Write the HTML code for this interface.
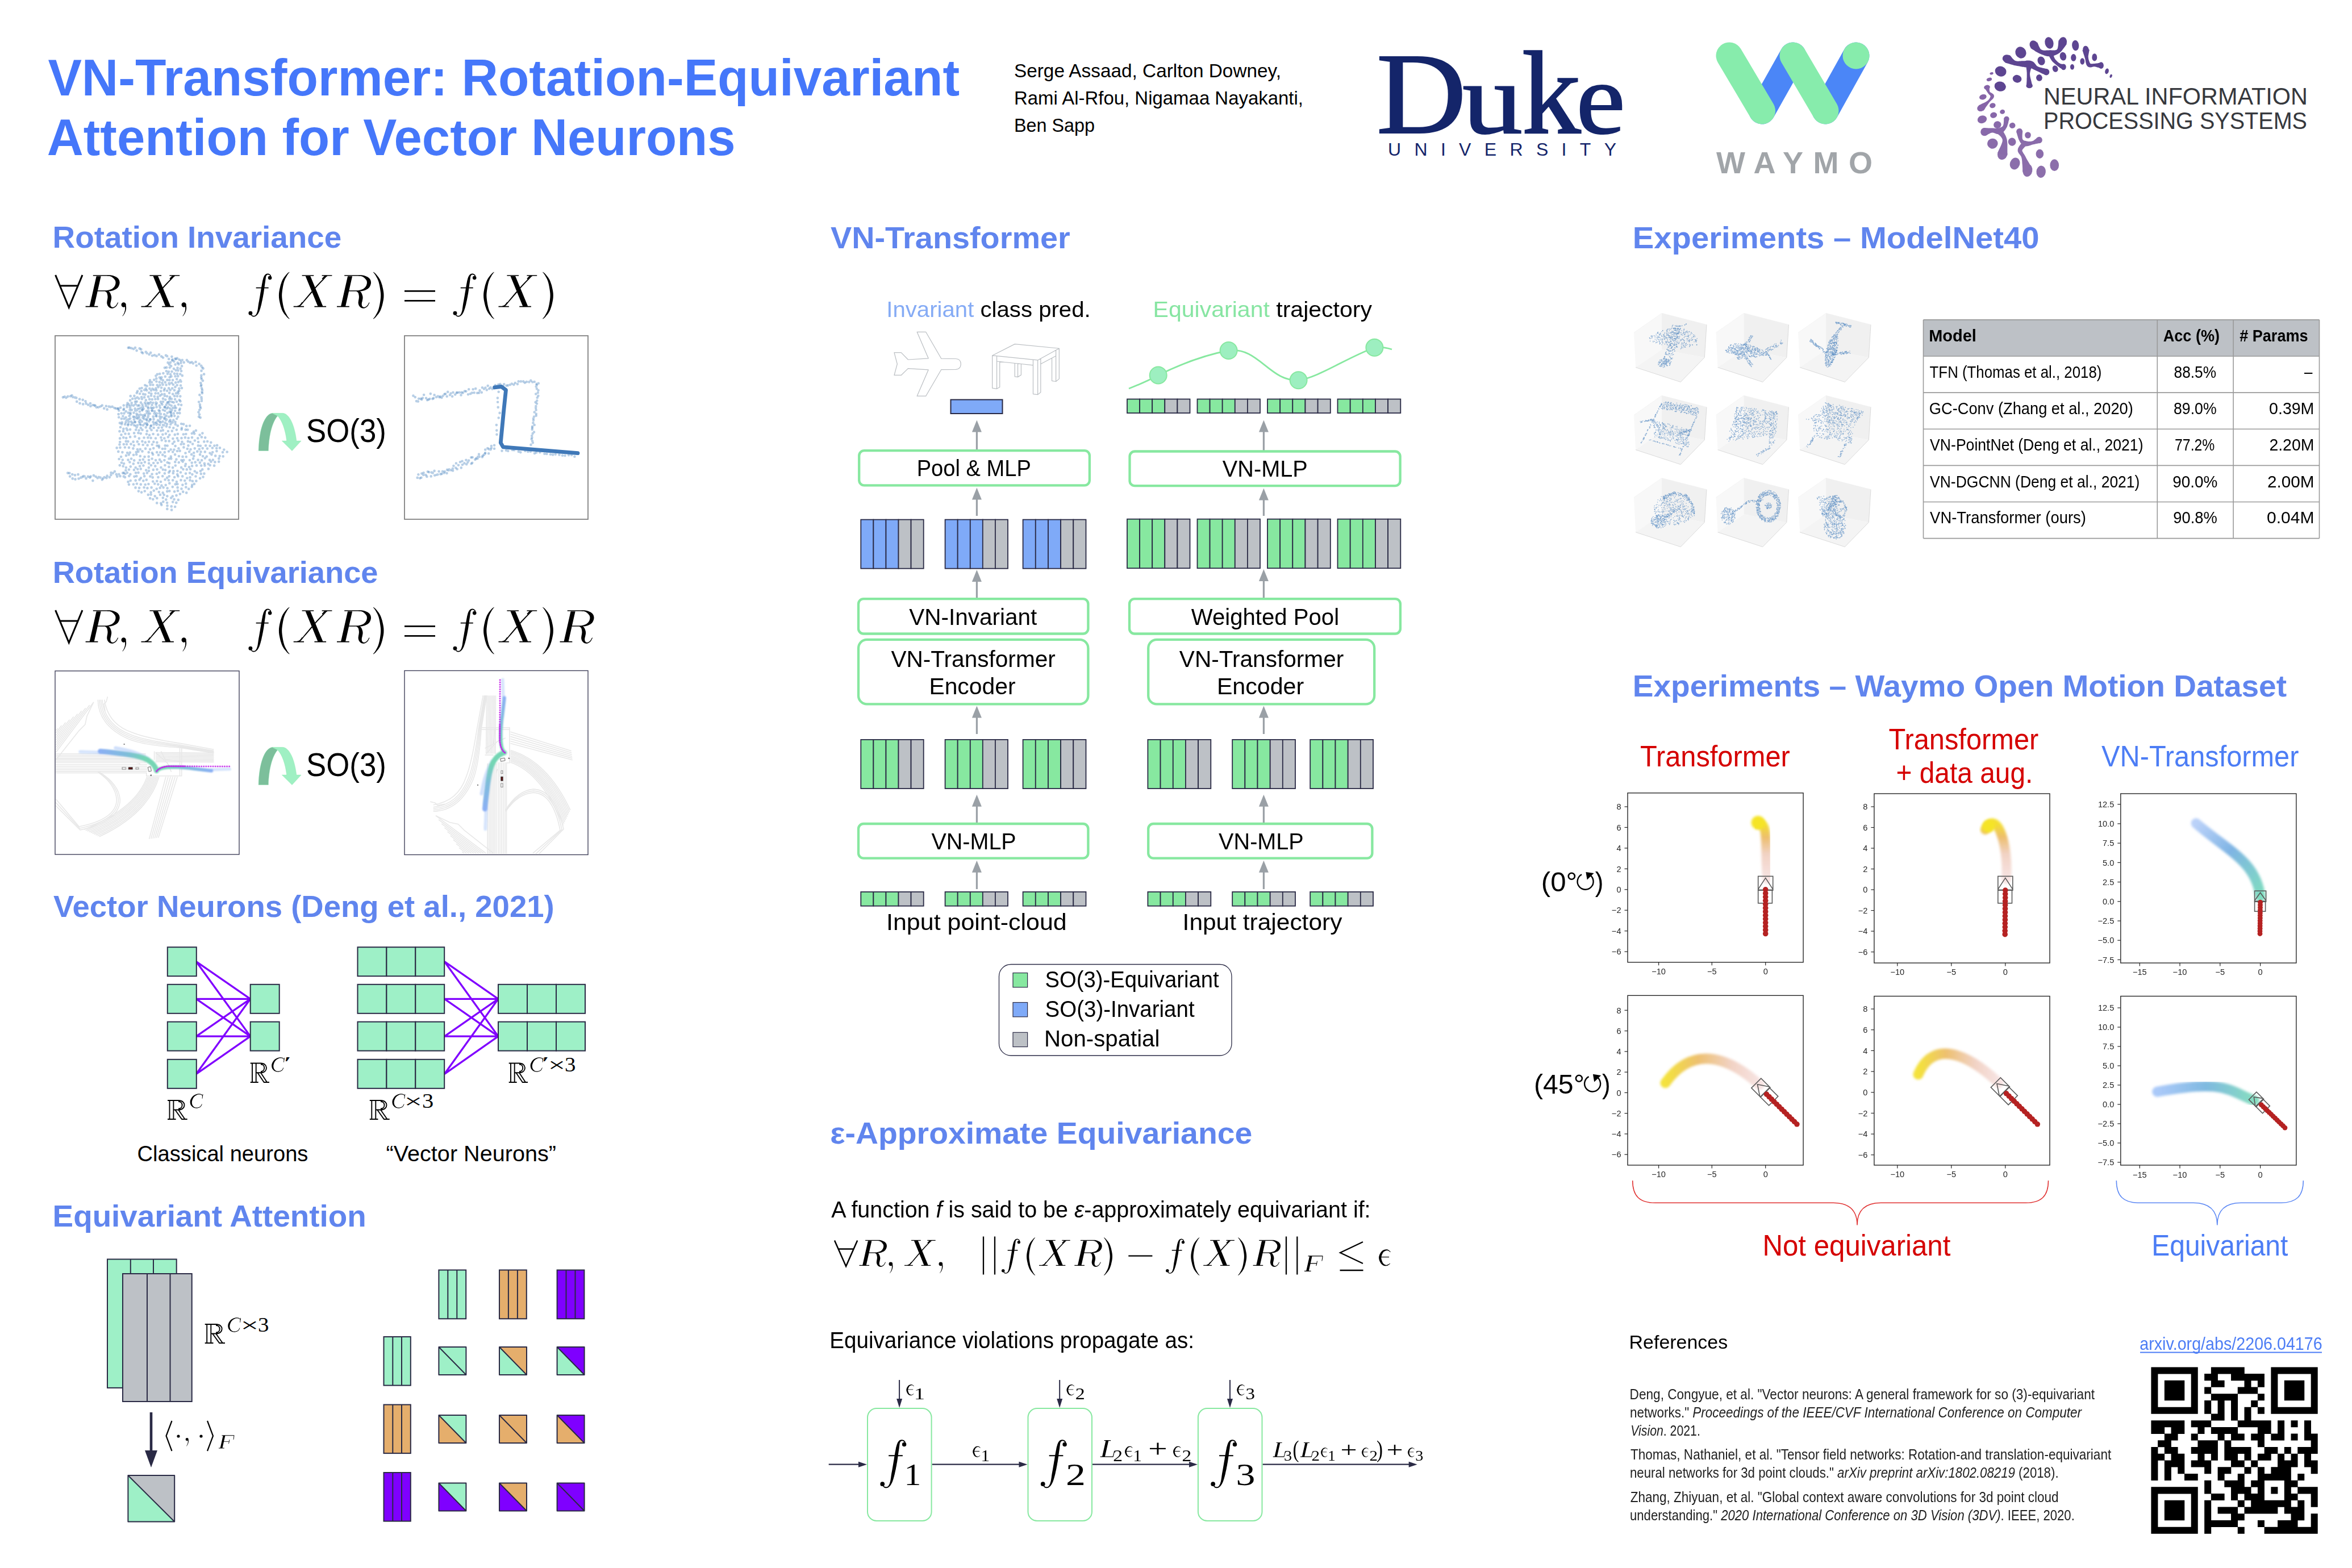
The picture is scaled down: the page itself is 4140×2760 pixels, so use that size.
<!DOCTYPE html>
<html><head><meta charset="utf-8"><title>VN-Transformer: Rotation-Equivariant Attention for Vector Neurons</title>
<style>
html,body{margin:0;padding:0;background:#fff;}
body{width:4140px;height:2760px;overflow:hidden;font-family:"Liberation Sans",sans-serif;}
svg{display:block;}
text{white-space:pre;}
</style></head><body>
<svg width="4140" height="2760" viewBox="0 0 4140 2760">
<rect width="4140" height="2760" fill="#fff"/>
<defs><path id="cmf" d="M339,-454 L338,-457 L337,-461 L336,-467 L335,-472 L334,-477 L332,-481 L330,-483 L327,-486 L322,-489 L318,-492 L312,-494 L307,-496 L303,-496 L299,-496 L294,-495 L290,-493 L286,-491 L282,-488 L279,-484 L276,-479 L273,-474 L271,-467 L269,-459 L268,-451 L267,-441 L265,-428 L263,-414 L261,-396 L258,-375 L254,-350 L250,-322 L246,-293 L242,-263 L238,-235 L234,-208 L229,-183 L225,-159 L220,-135 L216,-112 L211,-90 L206,-68 L202,-48 L197,-28 L192,-9 L187,9 L182,27 L176,43 L171,59 L165,73 L159,85 L153,97 L147,107 L140,116 L134,123 L127,130 L120,136 L113,141 L105,144 L97,147 L89,148 L82,148 L75,148 L68,147 L62,145 L56,141 L51,137 L46,132 L43,128 L40,125 L38,123 L46,113 L49,116 L52,119 L56,123 L60,127 L64,130 L68,132 L72,133 L76,134 L82,134 L88,134 L94,133 L100,131 L105,128 L110,124 L115,119 L119,112 L123,105 L128,96 L132,86 L135,75 L139,63 L142,50 L145,35 L147,19 L150,1 L152,-17 L155,-36 L158,-56 L162,-77 L166,-98 L170,-121 L174,-144 L178,-167 L182,-191 L186,-216 L191,-242 L195,-270 L200,-300 L205,-329 L210,-357 L215,-382 L219,-404 L224,-422 L228,-436 L232,-449 L236,-460 L241,-470 L245,-478 L251,-486 L257,-494 L263,-500 L270,-505 L277,-508 L284,-510 L291,-511 L297,-512 L304,-512 L311,-510 L318,-508 L324,-505 L330,-501 L336,-497 L340,-493 L344,-487 L347,-481 L348,-475 L349,-469 L350,-464 L351,-459 L351,-456Z M302,-447a29,29 0 1 1 58,0a29,29 0 1 1 -58,0Z M3,94a30,30 0 1 1 60,0a30,30 0 1 1 -60,0Z M118,-302 L137,-302 L164,-302 L197,-302 L231,-302 L264,-302 L291,-302 L310,-302 L310,-286 L291,-286 L264,-286 L231,-286 L197,-286 L164,-286 L137,-286 L118,-286Z"/><path id="cmlp" d="M164,-534 L161,-530 L156,-525 L151,-519 L146,-512 L140,-505 L134,-496 L127,-485 L121,-473 L113,-459 L105,-445 L97,-430 L90,-413 L83,-395 L77,-375 L71,-351 L65,-324 L60,-295 L55,-265 L51,-235 L48,-205 L47,-177 L48,-149 L51,-119 L55,-89 L60,-59 L65,-30 L71,-3 L77,21 L83,41 L90,59 L97,76 L105,91 L113,105 L121,119 L127,131 L134,142 L140,151 L146,158 L151,165 L156,171 L161,176 L164,180 L160,184 L156,181 L151,177 L144,172 L137,167 L129,160 L121,151 L113,141 L104,130 L94,118 L83,105 L73,90 L62,73 L52,53 L43,31 L35,7 L26,-20 L19,-50 L12,-81 L6,-113 L2,-146 L1,-177 L2,-208 L6,-241 L12,-273 L19,-304 L26,-334 L35,-361 L43,-385 L52,-407 L62,-427 L73,-444 L83,-459 L94,-472 L104,-484 L113,-495 L121,-505 L129,-514 L137,-521 L144,-526 L151,-531 L156,-535 L160,-538Z"/><path id="cmrp" d="M5,-538 L9,-535 L14,-531 L21,-526 L28,-521 L36,-514 L44,-505 L52,-495 L61,-484 L71,-472 L82,-459 L92,-444 L103,-427 L113,-407 L122,-385 L130,-361 L139,-334 L146,-304 L153,-273 L159,-241 L163,-208 L164,-177 L163,-146 L159,-113 L153,-81 L146,-50 L139,-20 L130,7 L122,31 L113,53 L103,73 L92,90 L82,105 L71,118 L61,130 L52,141 L44,151 L36,160 L28,167 L21,172 L14,177 L9,181 L5,184 L1,180 L4,176 L9,171 L14,165 L19,158 L25,151 L31,142 L38,131 L44,119 L52,105 L60,91 L68,76 L75,59 L82,41 L88,21 L94,-3 L100,-30 L105,-59 L110,-89 L114,-119 L117,-149 L118,-177 L117,-205 L114,-235 L110,-265 L105,-295 L100,-324 L94,-351 L88,-375 L82,-395 L75,-413 L68,-430 L60,-445 L52,-459 L44,-473 L38,-485 L31,-496 L25,-505 L19,-512 L14,-519 L9,-525 L4,-530 L1,-534Z"/><path id="cmX" d="M183,-474 L258,-474 L450,-12 L372,-12Z M505,-465 L491,-449 L471,-429 L448,-404 L422,-377 L394,-347 L365,-316 L336,-284 L305,-249 L270,-207 L232,-163 L195,-119 L160,-79 L132,-45 L111,-20 L99,-30 L120,-55 L149,-89 L182,-130 L219,-174 L257,-218 L292,-260 L324,-296 L352,-327 L381,-359 L410,-388 L436,-415 L460,-440 L480,-460 L495,-475Z M130,-489 L148,-489 L174,-489 L204,-489 L236,-489 L266,-489 L292,-489 L310,-489 L310,-475 L292,-475 L266,-475 L236,-475 L204,-475 L174,-475 L148,-475 L130,-475Z M435,-489 L450,-489 L473,-489 L499,-489 L526,-489 L552,-489 L575,-489 L590,-489 L590,-475 L575,-475 L552,-475 L526,-475 L499,-475 L473,-475 L450,-475 L435,-475Z M0,-14 L16,-14 L39,-14 L66,-14 L94,-14 L121,-14 L144,-14 L160,-14 L160,0 L144,0 L121,0 L94,0 L66,0 L39,0 L16,0 L0,0Z M320,-14 L338,-14 L364,-14 L394,-14 L426,-14 L456,-14 L482,-14 L500,-14 L500,0 L482,0 L456,0 L426,0 L394,0 L364,0 L338,0 L320,0Z M516,-468 L512,-467 L508,-467 L503,-466 L498,-465 L493,-464 L489,-462 L485,-460 L480,-457 L474,-452 L467,-446 L461,-439 L455,-433 L450,-428 L446,-424 L434,-436 L438,-439 L443,-445 L448,-451 L455,-458 L462,-465 L469,-471 L475,-476 L482,-479 L489,-481 L496,-482 L502,-482 L507,-482 L511,-482 L514,-482Z M58,-17 L62,-18 L67,-20 L73,-21 L79,-24 L84,-26 L90,-29 L94,-32 L99,-36 L104,-43 L110,-50 L116,-57 L121,-64 L125,-70 L129,-75 L141,-65 L139,-61 L135,-55 L130,-47 L124,-39 L118,-31 L112,-24 L106,-18 L99,-13 L91,-10 L84,-8 L77,-6 L70,-5 L66,-4 L62,-3Z"/><path id="cmR" d="M166,-472 L236,-472 L132,-12 L62,-12Z M115,-489 L137,-489 L169,-489 L207,-489 L248,-489 L286,-489 L318,-489 L340,-489 L340,-475 L318,-475 L286,-475 L248,-475 L207,-475 L169,-475 L137,-475 L115,-475Z M0,-14 L19,-14 L46,-14 L78,-14 L112,-14 L144,-14 L171,-14 L190,-14 L190,0 L171,0 L144,0 L112,0 L78,0 L46,0 L19,0 L0,0Z M330,-489 L337,-489 L345,-489 L355,-489 L367,-489 L379,-489 L392,-488 L404,-485 L416,-482 L428,-478 L441,-474 L454,-468 L467,-462 L479,-455 L489,-448 L498,-439 L505,-430 L512,-420 L517,-409 L520,-398 L522,-387 L523,-375 L522,-363 L520,-351 L516,-339 L512,-327 L506,-315 L499,-304 L491,-294 L482,-286 L472,-278 L461,-271 L450,-266 L439,-261 L427,-256 L415,-252 L403,-249 L389,-246 L375,-244 L361,-243 L349,-241 L339,-240 L331,-240 L329,-254 L336,-256 L346,-259 L358,-261 L371,-265 L384,-269 L395,-273 L405,-278 L413,-284 L421,-290 L428,-297 L435,-304 L441,-312 L445,-319 L449,-326 L452,-332 L455,-340 L457,-347 L459,-355 L460,-363 L461,-369 L461,-375 L461,-380 L460,-385 L460,-390 L458,-395 L457,-401 L454,-406 L451,-412 L446,-419 L440,-427 L432,-436 L424,-444 L414,-452 L405,-459 L396,-465 L387,-468 L377,-471 L366,-473 L355,-474 L345,-474 L336,-474 L330,-475Z M185,-254 L200,-254 L221,-254 L247,-254 L273,-254 L299,-254 L320,-254 L335,-254 L335,-240 L320,-240 L299,-240 L273,-240 L247,-240 L221,-240 L200,-240 L185,-240Z M302,-254 L307,-253 L313,-253 L321,-253 L330,-252 L340,-250 L351,-245 L361,-237 L369,-227 L376,-217 L382,-205 L387,-193 L391,-180 L395,-166 L397,-151 L397,-135 L395,-120 L392,-105 L389,-91 L386,-78 L383,-68 L382,-60 L381,-53 L381,-46 L381,-40 L381,-34 L382,-29 L383,-24 L385,-19 L387,-15 L390,-10 L394,-6 L399,-2 L404,1 L409,3 L415,4 L420,4 L426,3 L433,0 L439,-3 L446,-7 L452,-11 L458,-16 L464,-22 L470,-30 L476,-39 L481,-49 L486,-57 L491,-65 L494,-70 L502,-66 L499,-60 L495,-53 L490,-44 L485,-34 L479,-24 L473,-15 L466,-8 L460,-2 L453,4 L446,8 L438,12 L431,16 L423,18 L415,20 L407,21 L399,20 L391,19 L382,16 L374,13 L366,8 L359,3 L353,-3 L347,-10 L341,-18 L336,-27 L333,-37 L330,-48 L328,-60 L328,-74 L330,-89 L332,-103 L335,-116 L337,-129 L338,-140 L339,-149 L339,-158 L338,-169 L337,-179 L335,-189 L333,-199 L331,-207 L329,-213 L327,-217 L324,-222 L320,-226 L314,-231 L308,-234 L302,-238 L298,-240Z"/><path id="cmc" d="M0,-34a36,36 0 1 1 72,0a36,36 0 1 1 -72,0Z M71,-41 L71,-35 L72,-26 L73,-15 L74,-4 L75,8 L75,20 L74,31 L72,41 L70,51 L67,61 L64,71 L60,80 L56,89 L53,97 L48,105 L43,113 L37,120 L32,127 L27,133 L23,138 L20,141 L16,139 L19,134 L22,129 L27,123 L31,116 L36,108 L40,101 L43,93 L46,85 L49,76 L52,67 L54,58 L56,48 L57,38 L58,29 L58,20 L58,9 L57,-3 L56,-14 L55,-24 L54,-33 L53,-39Z"/><path id="cme" d="M219,-258 L213,-262 L206,-268 L197,-274 L188,-281 L178,-286 L168,-290 L159,-291 L149,-290 L138,-288 L126,-284 L115,-279 L104,-273 L95,-266 L87,-258 L79,-247 L72,-234 L64,-219 L57,-203 L52,-187 L49,-172 L47,-159 L47,-145 L49,-130 L53,-114 L58,-97 L64,-81 L70,-67 L76,-56 L83,-47 L91,-38 L100,-31 L110,-25 L120,-20 L130,-16 L140,-14 L150,-14 L161,-18 L173,-23 L185,-30 L196,-36 L206,-42 L213,-46 L217,-38 L211,-34 L202,-27 L191,-20 L179,-12 L167,-4 L154,1 L140,4 L127,4 L114,2 L100,-1 L86,-6 L72,-13 L59,-23 L48,-34 L37,-48 L28,-64 L19,-82 L11,-101 L5,-121 L2,-141 L1,-161 L4,-181 L10,-201 L18,-220 L28,-238 L39,-255 L51,-270 L63,-282 L76,-292 L91,-299 L106,-305 L120,-308 L135,-310 L148,-310 L161,-309 L173,-306 L185,-300 L195,-292 L205,-284 L213,-276 L220,-270 L225,-266Z M40,-172 L55,-172 L78,-172 L104,-172 L131,-172 L157,-172 L180,-172 L195,-172 L195,-158 L180,-158 L157,-158 L131,-158 L104,-158 L78,-158 L55,-158 L40,-158Z"/><path id="cmC" d="M462,-336 L463,-346 L464,-360 L466,-376 L467,-394 L468,-411 L467,-426 L464,-437 L459,-445 L452,-453 L445,-460 L436,-466 L426,-470 L415,-474 L403,-477 L389,-479 L374,-481 L358,-481 L341,-481 L324,-478 L306,-475 L289,-469 L272,-461 L253,-451 L234,-439 L215,-427 L198,-413 L182,-398 L168,-383 L156,-366 L144,-348 L133,-327 L124,-307 L116,-286 L109,-266 L104,-247 L101,-230 L99,-212 L98,-193 L99,-175 L101,-158 L104,-141 L108,-126 L113,-111 L120,-97 L128,-83 L138,-69 L149,-57 L161,-45 L173,-36 L186,-28 L201,-21 L217,-16 L234,-12 L251,-10 L268,-9 L284,-9 L300,-11 L317,-14 L335,-18 L351,-24 L367,-31 L381,-39 L394,-47 L405,-58 L415,-71 L424,-86 L433,-102 L440,-117 L446,-130 L451,-139 L465,-131 L461,-122 L455,-110 L448,-94 L440,-78 L430,-61 L419,-46 L406,-33 L392,-22 L376,-13 L359,-6 L341,1 L322,6 L304,10 L286,13 L268,14 L249,14 L230,12 L211,9 L192,5 L174,-1 L157,-8 L141,-17 L124,-28 L108,-40 L93,-54 L79,-69 L66,-86 L56,-104 L48,-124 L42,-145 L37,-168 L34,-191 L34,-215 L35,-239 L40,-263 L47,-286 L57,-310 L69,-334 L83,-357 L98,-379 L114,-399 L132,-417 L151,-433 L172,-448 L194,-461 L216,-472 L239,-481 L260,-489 L281,-495 L300,-500 L320,-503 L339,-505 L358,-505 L376,-504 L392,-502 L407,-499 L421,-495 L434,-489 L446,-483 L457,-475 L466,-466 L474,-455 L480,-443 L484,-428 L485,-411 L484,-393 L483,-375 L481,-358 L479,-344 L478,-334Z M500,-491 L499,-485 L498,-476 L497,-466 L495,-454 L494,-442 L492,-430 L490,-419 L488,-406 L486,-393 L484,-379 L481,-365 L479,-352 L477,-341 L476,-334 L460,-336 L461,-344 L463,-355 L465,-368 L467,-381 L470,-396 L472,-409 L474,-421 L475,-433 L477,-445 L479,-457 L480,-468 L482,-478 L483,-487 L484,-493Z"/><path id="cmF" d="M160,-472 L240,-472 L136,-12 L56,-12Z M115,-491 L160,-491 L224,-491 L300,-491 L380,-491 L456,-491 L520,-491 L565,-491 L565,-469 L520,-469 L456,-469 L380,-469 L300,-469 L224,-469 L160,-469 L115,-469Z M577,-487 L576,-480 L576,-471 L575,-460 L574,-447 L572,-434 L571,-421 L569,-409 L567,-396 L565,-382 L562,-368 L559,-354 L557,-342 L554,-331 L553,-324 L537,-326 L538,-334 L540,-345 L542,-357 L544,-371 L547,-385 L549,-399 L551,-411 L552,-423 L554,-436 L555,-449 L556,-461 L557,-472 L558,-482 L559,-489Z M185,-260 L205,-260 L233,-260 L267,-260 L303,-260 L337,-260 L365,-260 L385,-260 L385,-240 L365,-240 L337,-240 L303,-240 L267,-240 L233,-240 L205,-240 L185,-240Z M406,-324 L405,-317 L404,-308 L402,-297 L400,-285 L398,-272 L396,-260 L394,-248 L391,-237 L389,-224 L386,-212 L383,-200 L380,-189 L377,-180 L376,-173 L360,-177 L362,-184 L364,-193 L366,-204 L369,-216 L371,-228 L374,-241 L376,-252 L378,-263 L381,-275 L383,-288 L385,-299 L387,-310 L389,-320 L390,-326Z M0,-20 L20,-20 L50,-20 L84,-20 L121,-20 L155,-20 L185,-20 L205,-20 L205,2 L185,2 L155,2 L121,2 L84,2 L50,2 L20,2 L0,2Z"/><path id="cmL" d="M160,-472 L240,-472 L136,-12 L56,-12Z M115,-491 L134,-491 L161,-491 L193,-491 L227,-491 L259,-491 L286,-491 L305,-491 L305,-469 L286,-469 L259,-469 L227,-469 L193,-469 L161,-469 L134,-469 L115,-469Z M0,-20 L36,-20 L89,-20 L151,-20 L217,-20 L279,-20 L332,-20 L368,-20 L368,2 L332,2 L279,2 L217,2 L151,2 L89,2 L36,2 L0,2Z M358,-5 L361,-12 L363,-21 L367,-32 L371,-44 L374,-57 L378,-70 L381,-82 L384,-95 L388,-109 L391,-124 L394,-139 L397,-152 L399,-163 L401,-171 L415,-169 L414,-160 L412,-149 L410,-136 L407,-121 L404,-106 L402,-91 L399,-78 L396,-65 L392,-52 L389,-39 L385,-27 L382,-15 L380,-6 L378,1Z"/></defs>
<text x="84.4" y="168" font-family="Liberation Sans" font-size="91" fill="#4577FA" font-weight="bold" textLength="1604.7" lengthAdjust="spacingAndGlyphs" >VN-Transformer: Rotation-Equivariant</text>
<text x="82.8" y="273" font-family="Liberation Sans" font-size="91" fill="#4577FA" font-weight="bold" textLength="1211.8" lengthAdjust="spacingAndGlyphs" >Attention for Vector Neurons</text>
<text x="1785" y="136" font-family="Liberation Sans" font-size="34" fill="#000" textLength="470" lengthAdjust="spacingAndGlyphs" >Serge Assaad, Carlton Downey,</text>
<text x="1785" y="184" font-family="Liberation Sans" font-size="34" fill="#000" textLength="509" lengthAdjust="spacingAndGlyphs" >Rami Al-Rfou, Nigamaa Nayakanti,</text>
<text x="1785" y="232" font-family="Liberation Sans" font-size="34" fill="#000" textLength="142" lengthAdjust="spacingAndGlyphs" >Ben Sapp</text>
<text x="2422.7" y="234" font-family="Liberation Serif" font-size="203" fill="#14256A" textLength="158.3" lengthAdjust="spacingAndGlyphs" stroke="#14256A" stroke-width="2.2">D</text>
<text x="2574.2" y="234" font-family="Liberation Serif" font-size="178" fill="#14256A" textLength="105.8" lengthAdjust="spacingAndGlyphs" stroke="#14256A" stroke-width="2.2">u</text>
<text x="2679.1" y="234" font-family="Liberation Serif" font-size="178" fill="#14256A" textLength="103.4" lengthAdjust="spacingAndGlyphs" stroke="#14256A" stroke-width="2.2" transform="translate(0,234) scale(1,1.17) translate(0,-234)">k</text>
<text x="2774.4" y="234" font-family="Liberation Serif" font-size="178" fill="#14256A" textLength="86.3" lengthAdjust="spacingAndGlyphs" stroke="#14256A" stroke-width="2.2">e</text>
<text x="2443" y="273.5" font-family="Liberation Sans" font-size="32" fill="#14256A" textLength="402" lengthAdjust="spacing" >UNIVERSITY</text>
<g stroke-linecap="round" stroke-width="47" fill="none">
<line x1="3101.5" y1="195" x2="3156" y2="98" stroke="#4B86F7"/>
<line x1="3213" y1="195" x2="3267" y2="98" stroke="#4B86F7"/>
<line x1="3044" y1="98" x2="3101.5" y2="195" stroke="#87ECAC"/>
<line x1="3156" y1="98" x2="3213" y2="195" stroke="#87ECAC"/>
</g>
<circle cx="3267" cy="98" r="23.5" fill="#87ECAC" stroke="none" stroke-width="1" />
<text x="3021" y="304.5" font-family="Liberation Sans" font-size="54" fill="#A1A5A9" font-weight="bold" textLength="275" lengthAdjust="spacing" >WAYMO</text>
<text x="3597" y="184" font-family="Liberation Sans" font-size="42" fill="#36383D" textLength="465" lengthAdjust="spacingAndGlyphs" >NEURAL INFORMATION</text>
<text x="3597" y="227" font-family="Liberation Sans" font-size="42" fill="#36383D" textLength="464" lengthAdjust="spacingAndGlyphs" >PROCESSING SYSTEMS</text>
<g transform="translate(3460,50) scale(0.17857)">
<ellipse cx="823" cy="143" rx="42" ry="58" fill="#5D4591" transform="rotate(-15 823 143)"/>
<ellipse cx="957" cy="135" rx="40" ry="50" fill="#5D4591" transform="rotate(10 957 135)"/>
<ellipse cx="1082" cy="168" rx="34" ry="52" fill="#5D4591" transform="rotate(-5 1082 168)"/>
<ellipse cx="1185" cy="212" rx="30" ry="40" fill="#5D4591" transform="rotate(-10 1185 212)"/>
<ellipse cx="1270" cy="285" rx="25" ry="37" fill="#5D4591" transform="rotate(0 1270 285)"/>
<ellipse cx="960" cy="275" rx="32" ry="42" fill="#5D4591" transform="rotate(-10 960 275)"/>
<ellipse cx="1063" cy="288" rx="26" ry="36" fill="#5D4591" transform="rotate(0 1063 288)"/>
<ellipse cx="1150" cy="325" rx="22" ry="32" fill="#5D4591" transform="rotate(0 1150 325)"/>
<ellipse cx="1050" cy="380" rx="20" ry="27" fill="#5D4591" transform="rotate(0 1050 380)"/>
<ellipse cx="883" cy="398" rx="27" ry="33" fill="#5D4591" transform="rotate(-20 883 398)"/>
<ellipse cx="745" cy="320" rx="36" ry="44" fill="#5D4591" transform="rotate(-20 745 320)"/>
<ellipse cx="543" cy="238" rx="52" ry="58" fill="#5D4591" transform="rotate(-30 543 238)"/>
<ellipse cx="672" cy="165" rx="40" ry="48" fill="#5D4591" transform="rotate(-30 672 165)"/>
<ellipse cx="410" cy="300" rx="48" ry="40" fill="#5D4591" transform="rotate(20 410 300)"/>
<ellipse cx="345" cy="423" rx="57" ry="50" fill="#5D4591" transform="rotate(20 345 423)"/>
<ellipse cx="507" cy="497" rx="44" ry="38" fill="#5D4591" transform="rotate(15 507 497)"/>
<ellipse cx="725" cy="487" rx="30" ry="33" fill="#5D4591" transform="rotate(-10 725 487)"/>
<ellipse cx="340" cy="572" rx="57" ry="48" fill="#5D4591" transform="rotate(15 340 572)"/>
<ellipse cx="628" cy="565" rx="32" ry="25" fill="#5D4591" transform="rotate(0 628 565)"/>
<ellipse cx="1392" cy="422" rx="18" ry="28" fill="#5D4591" transform="rotate(15 1392 422)"/>
<ellipse cx="1432" cy="470" rx="11" ry="18" fill="#5D4591" transform="rotate(20 1432 470)"/>
<ellipse cx="965" cy="380" rx="25" ry="30" fill="#5D4591" transform="rotate(0 965 380)"/>
<ellipse cx="795" cy="430" rx="30" ry="32" fill="#5D4591" transform="rotate(0 795 430)"/>
<ellipse cx="1335" cy="365" rx="25" ry="33" fill="#5D4591" transform="rotate(0 1335 365)"/>
<ellipse cx="255" cy="444" rx="18" ry="12" fill="#8462A8" transform="rotate(-15 255 444)"/>
<ellipse cx="232" cy="503" rx="27" ry="17" fill="#8462A8" transform="rotate(-15 232 503)"/>
<ellipse cx="210" cy="580" rx="30" ry="22" fill="#8563A8" transform="rotate(-10 210 580)"/>
<ellipse cx="170" cy="676" rx="36" ry="26" fill="#8665A8" transform="rotate(-15 170 676)"/>
<ellipse cx="265" cy="760" rx="30" ry="25" fill="#8666A9" transform="rotate(-15 265 760)"/>
<ellipse cx="152" cy="785" rx="40" ry="32" fill="#8766A9" transform="rotate(-20 152 785)"/>
<ellipse cx="362" cy="822" rx="25" ry="22" fill="#8767A9" transform="rotate(-15 362 822)"/>
<ellipse cx="275" cy="855" rx="34" ry="28" fill="#8767A9" transform="rotate(-15 275 855)"/>
<ellipse cx="162" cy="897" rx="47" ry="38" fill="#8868A9" transform="rotate(-20 162 897)"/>
<ellipse cx="403" cy="890" rx="26" ry="24" fill="#8768A9" transform="rotate(0 403 890)"/>
<ellipse cx="313" cy="950" rx="38" ry="35" fill="#8869AA" transform="rotate(-15 313 950)"/>
<ellipse cx="460" cy="957" rx="30" ry="28" fill="#8869AA" transform="rotate(-10 460 957)"/>
<ellipse cx="185" cy="1020" rx="38" ry="40" fill="#8969AA" transform="rotate(0 185 1020)"/>
<ellipse cx="530" cy="1015" rx="30" ry="30" fill="#8969AA" transform="rotate(0 530 1015)"/>
<ellipse cx="613" cy="1052" rx="30" ry="32" fill="#896AAA" transform="rotate(0 613 1052)"/>
<ellipse cx="725" cy="1100" rx="30" ry="32" fill="#896BAA" transform="rotate(0 725 1100)"/>
<ellipse cx="457" cy="1118" rx="38" ry="40" fill="#8A6BAA" transform="rotate(-15 457 1118)"/>
<ellipse cx="265" cy="1135" rx="52" ry="50" fill="#8A6BAA" transform="rotate(-25 265 1135)"/>
<ellipse cx="362" cy="1240" rx="48" ry="55" fill="#8B6DAB" transform="rotate(20 362 1240)"/>
<ellipse cx="730" cy="1237" rx="38" ry="45" fill="#8B6DAB" transform="rotate(0 730 1237)"/>
<ellipse cx="485" cy="1333" rx="48" ry="60" fill="#8B6EAB" transform="rotate(20 485 1333)"/>
<ellipse cx="875" cy="1348" rx="44" ry="58" fill="#8C6EAB" transform="rotate(0 875 1348)"/>
<ellipse cx="610" cy="1400" rx="47" ry="62" fill="#8C6FAB" transform="rotate(10 610 1400)"/>
<ellipse cx="743" cy="1413" rx="46" ry="60" fill="#8C6FAB" transform="rotate(5 743 1413)"/>
<path d="M639,194 L645,197 L652,202 L662,209 L674,216 L686,225 L699,233 L712,240 L725,247 L738,252 L751,257 L764,262 L777,267 L791,271 L804,274 L818,276 L831,276 L843,275 L856,273 L869,269 L881,265 L894,259 L906,253 L917,246 L929,238 L941,227 L951,215 L961,202 L971,189 L980,176 L987,165 L993,157 L998,152 L916,118 L915,127 L914,139 L913,152 L912,165 L910,178 L908,190 L905,200 L901,206 L896,211 L888,213 L880,215 L870,215 L860,215 L850,215 L839,214 L829,214 L819,215 L808,216 L797,216 L785,217 L774,217 L763,216 L753,213 L745,209 L738,204 L732,195 L727,185 L721,174 L717,163 L713,153 L709,143 L705,136Z" fill="#5D4591"/>
<path d="M812,255 L814,259 L818,265 L822,273 L827,283 L832,292 L838,302 L844,312 L850,321 L857,329 L865,336 L873,343 L881,350 L889,357 L896,363 L904,369 L910,374 L917,380 L925,385 L931,390 L938,394 L944,398 L949,401 L952,404 L955,406 L975,354 L971,353 L966,353 L960,353 L954,352 L948,352 L941,350 L935,349 L930,346 L923,342 L916,337 L909,332 L902,325 L896,319 L890,312 L884,306 L880,299 L876,293 L872,284 L869,275 L867,266 L864,257 L862,249 L860,241 L858,235Z" fill="#5D4591"/>
<path d="M387,337 L393,339 L401,341 L411,344 L422,347 L435,351 L448,355 L460,359 L473,362 L484,365 L495,367 L506,369 L517,371 L528,373 L538,375 L548,377 L558,379 L569,380 L580,382 L591,383 L601,384 L610,385 L618,386 L624,387 L629,388 L633,389 L638,390 L644,392 L651,395 L659,399 L669,404 L679,409 L690,415 L702,420 L715,426 L729,433 L743,439 L756,446 L768,451 L778,456 L785,459 L805,401 L797,399 L786,396 L774,394 L760,391 L745,387 L732,384 L719,379 L710,375 L703,371 L697,365 L692,359 L687,351 L681,344 L673,335 L663,328 L651,322 L638,318 L625,317 L613,317 L601,317 L591,319 L581,320 L571,321 L562,321 L552,321 L541,322 L531,322 L521,323 L512,323 L503,322 L495,321 L487,318 L480,314 L473,307 L465,300 L458,291 L451,283 L444,275 L438,268 L433,263Z" fill="#5D4591"/>
<path d="M595,367 L596,372 L597,380 L598,390 L599,400 L601,412 L602,425 L603,437 L603,450 L603,464 L603,480 L602,497 L602,515 L601,531 L600,546 L600,559 L599,568 L657,562 L655,553 L651,541 L648,526 L644,510 L640,494 L636,478 L634,463 L633,450 L634,438 L636,427 L639,416 L642,405 L646,396 L650,387 L653,379 L655,373Z" fill="#5D4591"/>
<path d="M1150,214 L1152,220 L1155,228 L1158,238 L1161,248 L1165,260 L1169,271 L1172,283 L1175,293 L1178,303 L1180,313 L1182,324 L1183,334 L1186,345 L1189,356 L1194,366 L1202,375 L1212,381 L1223,384 L1233,384 L1242,382 L1250,380 L1257,378 L1263,377 L1270,377 L1277,378 L1286,380 L1296,383 L1305,385 L1314,388 L1322,390 L1329,393 L1334,394 L1336,336 L1331,337 L1324,338 L1316,340 L1307,342 L1297,344 L1288,345 L1279,346 L1270,347 L1261,347 L1253,348 L1245,348 L1238,348 L1233,348 L1230,347 L1229,346 L1228,345 L1227,344 L1224,339 L1221,333 L1218,325 L1215,316 L1212,306 L1210,296 L1209,287 L1208,277 L1209,267 L1211,256 L1213,245 L1215,234 L1217,224 L1219,216 L1220,210Z" fill="#5D4591"/>
<path d="M186,588 L188,591 L192,596 L195,601 L200,608 L204,615 L209,622 L213,629 L218,636 L223,643 L229,649 L234,655 L239,660 L243,665 L245,668 L245,669 L244,668 L244,669 L244,672 L242,677 L239,684 L235,691 L230,698 L224,705 L216,712 L208,718 L197,725 L184,732 L171,738 L158,744 L146,750 L136,755 L129,759 L175,811 L179,805 L186,796 L193,785 L201,773 L210,761 L219,749 L227,738 L234,728 L240,721 L247,714 L254,707 L261,701 L268,694 L273,687 L278,679 L280,668 L278,656 L271,647 L264,642 L257,637 L251,634 L245,631 L241,627 L238,624 L236,619 L235,612 L234,605 L234,597 L234,590 L234,583 L234,577 L234,572Z" fill="#8665A8"/>
<path d="M194,1059 L200,1056 L207,1052 L216,1047 L225,1042 L235,1037 L244,1032 L253,1029 L261,1027 L267,1027 L275,1029 L282,1032 L291,1035 L300,1039 L311,1042 L324,1043 L337,1041 L349,1037 L358,1031 L368,1024 L376,1017 L383,1008 L390,999 L396,990 L402,980 L408,969 L412,956 L416,944 L420,931 L422,919 L425,909 L427,900 L429,895 L377,885 L377,893 L376,902 L376,912 L375,924 L374,935 L373,945 L370,954 L368,960 L364,965 L358,970 L352,973 L346,976 L339,979 L333,981 L327,982 L323,983 L320,984 L316,985 L310,985 L302,985 L292,985 L282,984 L271,983 L259,983 L247,983 L236,983 L223,983 L211,982 L200,982 L190,982 L182,981 L176,981Z" fill="#8869AA"/>
<path d="M310,1032 L316,1039 L324,1047 L333,1054 L342,1063 L350,1072 L357,1082 L362,1093 L363,1103 L362,1115 L357,1131 L350,1149 L342,1168 L333,1186 L325,1203 L318,1219 L313,1230 L411,1250 L411,1239 L411,1224 L411,1204 L411,1183 L411,1160 L411,1138 L409,1117 L407,1097 L402,1080 L396,1063 L389,1048 L381,1034 L374,1022 L367,1011 L363,1003 L360,998Z" fill="#896BAA"/>
<path d="M499,1019 L501,1025 L504,1034 L507,1046 L511,1058 L515,1072 L519,1085 L524,1097 L529,1108 L534,1117 L539,1125 L545,1133 L551,1141 L558,1147 L566,1153 L575,1157 L584,1160 L595,1162 L606,1161 L616,1159 L626,1156 L636,1153 L646,1150 L655,1147 L665,1144 L675,1142 L685,1140 L696,1137 L707,1135 L717,1133 L726,1131 L733,1129 L738,1128 L712,1072 L707,1075 L701,1080 L694,1086 L687,1092 L679,1098 L671,1104 L663,1109 L655,1112 L647,1113 L639,1115 L630,1115 L621,1114 L613,1114 L606,1112 L600,1111 L596,1110 L591,1109 L586,1108 L582,1107 L577,1106 L573,1104 L568,1101 L564,1097 L561,1092 L559,1086 L558,1076 L558,1064 L558,1052 L559,1040 L560,1028 L561,1018 L561,1011Z" fill="#896BAA"/>
<path d="M561,1119 L557,1124 L552,1130 L545,1138 L537,1148 L529,1159 L522,1170 L516,1183 L513,1198 L514,1212 L519,1224 L525,1233 L532,1242 L538,1250 L544,1258 L548,1267 L551,1277 L554,1291 L556,1309 L557,1329 L559,1349 L560,1369 L561,1388 L561,1403 L562,1414 L658,1386 L652,1376 L645,1363 L636,1347 L626,1329 L615,1311 L605,1293 L596,1277 L589,1263 L582,1250 L575,1239 L568,1229 L563,1220 L559,1213 L557,1208 L557,1204 L557,1202 L558,1199 L561,1193 L567,1186 L574,1178 L581,1170 L588,1163 L595,1156 L599,1151Z" fill="#8B6DAB"/>
</g>
<text x="92.6" y="436.3" font-family="Liberation Sans" font-size="54" fill="#6085EE" font-weight="bold" textLength="508.7" lengthAdjust="spacingAndGlyphs" >Rotation Invariance</text>
<text x="92.7" y="1026.3" font-family="Liberation Sans" font-size="54" fill="#6085EE" font-weight="bold" textLength="572.8" lengthAdjust="spacingAndGlyphs" >Rotation Equivariance</text>
<text x="94.1" y="1614" font-family="Liberation Sans" font-size="54" fill="#6085EE" font-weight="bold" textLength="881.6" lengthAdjust="spacingAndGlyphs" >Vector Neurons (Deng et al., 2021)</text>
<text x="92.6" y="2158.5" font-family="Liberation Sans" font-size="54" fill="#6085EE" font-weight="bold" textLength="552.2" lengthAdjust="spacingAndGlyphs" >Equivariant Attention</text>
<path d="M97.6,484.1 L121.3,541.4 L145,484.1 M105.4,503 L137.2,503" fill="none" stroke="#000" stroke-width="3.0" stroke-linejoin="miter" stroke-miterlimit="10"/>
<use href="#cmR" transform="translate(150.6,540.4) scale(0.11480)" fill="#000"/>
<use href="#cmc" transform="translate(213.5,540.4) scale(0.11480)" fill="#000"/>
<use href="#cmX" transform="translate(248.5,540.4) scale(0.11480)" fill="#000"/>
<use href="#cmc" transform="translate(319.5,540.4) scale(0.11480)" fill="#000"/>
<use href="#cmf" transform="translate(437.1,540.4) scale(0.11480)" fill="#000"/>
<use href="#cmlp" transform="translate(490.8,540.4) scale(0.11480)" fill="#000"/>
<use href="#cmX" transform="translate(516.7,540.4) scale(0.11480)" fill="#000"/>
<use href="#cmR" transform="translate(593.0,540.4) scale(0.11480)" fill="#000"/>
<use href="#cmrp" transform="translate(656.7,540.4) scale(0.11480)" fill="#000"/>
<line x1="712" y1="512.4" x2="766" y2="512.4" stroke="#000" stroke-width="2.8" />
<line x1="712" y1="529.4" x2="766" y2="529.4" stroke="#000" stroke-width="2.8" />
<use href="#cmf" transform="translate(797.2,540.4) scale(0.11480)" fill="#000"/>
<use href="#cmlp" transform="translate(851.0,540.4) scale(0.11480)" fill="#000"/>
<use href="#cmX" transform="translate(877.5,540.4) scale(0.11480)" fill="#000"/>
<use href="#cmrp" transform="translate(955.0,540.4) scale(0.11480)" fill="#000"/>
<path d="M97.6,1074.1 L121.3,1131.4 L145,1074.1 M105.4,1093 L137.2,1093" fill="none" stroke="#000" stroke-width="3.0" stroke-linejoin="miter" stroke-miterlimit="10"/>
<use href="#cmR" transform="translate(150.6,1130.4) scale(0.11480)" fill="#000"/>
<use href="#cmc" transform="translate(213.5,1130.4) scale(0.11480)" fill="#000"/>
<use href="#cmX" transform="translate(248.5,1130.4) scale(0.11480)" fill="#000"/>
<use href="#cmc" transform="translate(319.5,1130.4) scale(0.11480)" fill="#000"/>
<use href="#cmf" transform="translate(437.1,1130.4) scale(0.11480)" fill="#000"/>
<use href="#cmlp" transform="translate(490.8,1130.4) scale(0.11480)" fill="#000"/>
<use href="#cmX" transform="translate(516.7,1130.4) scale(0.11480)" fill="#000"/>
<use href="#cmR" transform="translate(593.0,1130.4) scale(0.11480)" fill="#000"/>
<use href="#cmrp" transform="translate(656.7,1130.4) scale(0.11480)" fill="#000"/>
<line x1="712" y1="1102.4" x2="766" y2="1102.4" stroke="#000" stroke-width="2.8" />
<line x1="712" y1="1119.4" x2="766" y2="1119.4" stroke="#000" stroke-width="2.8" />
<use href="#cmf" transform="translate(797.2,1130.4) scale(0.11480)" fill="#000"/>
<use href="#cmlp" transform="translate(851.0,1130.4) scale(0.11480)" fill="#000"/>
<use href="#cmX" transform="translate(877.5,1130.4) scale(0.11480)" fill="#000"/>
<use href="#cmrp" transform="translate(955.0,1130.4) scale(0.11480)" fill="#000"/>
<use href="#cmR" transform="translate(985.5,1130.4) scale(0.11480)" fill="#000"/>
<text x="539.1" y="777.6" font-family="Liberation Sans" font-size="57.5" fill="#000" textLength="140.8" lengthAdjust="spacingAndGlyphs" >SO(3)</text>
<g transform="translate(440,710) scale(0.11054)">
<path d="M137,755 C145,420 230,175 355,157 L440,198 C355,300 300,500 293,755 Z" fill="#7CBF9B" stroke="#86E0AE" stroke-width="4" />
<path d="M355,157 L520,157 C640,165 715,380 740,598 L815,598 L670,755 L510,598 L585,598 C565,420 510,270 440,198 Z" fill="#9FF0C3" stroke="#86E6A8" stroke-width="4" />
</g>
<text x="539.1" y="1365.6" font-family="Liberation Sans" font-size="57.5" fill="#000" textLength="140.8" lengthAdjust="spacingAndGlyphs" >SO(3)</text>
<g transform="translate(440,1298) scale(0.11054)">
<path d="M137,755 C145,420 230,175 355,157 L440,198 C355,300 300,500 293,755 Z" fill="#7CBF9B" stroke="#86E0AE" stroke-width="4" />
<path d="M355,157 L520,157 C640,165 715,380 740,598 L815,598 L670,755 L510,598 L585,598 C565,420 510,270 440,198 Z" fill="#9FF0C3" stroke="#86E6A8" stroke-width="4" />
</g>
<rect x="97" y="591" width="323" height="323" fill="#fff" stroke="#828282" stroke-width="1.8" />
<rect x="712" y="591" width="323" height="323" fill="#fff" stroke="#828282" stroke-width="1.8" />
<rect x="97" y="1181" width="324" height="323" fill="#fff" stroke="#3A3A55" stroke-width="1.35" />
<rect x="712" y="1180.5" width="323" height="324" fill="#fff" stroke="#3A3A55" stroke-width="1.35" />
<path d="M309.6,632h0M295.6,638.4h0M301.1,644.4h0M314.4,641.2h0M320.1,644.4h0M298.8,646.8h0M312.5,647.7h0M292.8,653.3h0M309.6,651.8h0M313.4,652.1h0M319.1,653.1h0M276.9,658.8h0M281.2,658.1h0M295,657.9h0M317.2,658.5h0M274.4,661.6h0M298.6,664h0M283.2,667.6h0M294.5,668.9h0M298.4,669.1h0M317.3,669.4h0M263.1,673.1h0M267,672.8h0M285.4,674.1h0M309.2,673.4h0M318.5,671.6h0M255.3,678.1h0M264.6,677.4h0M269.3,677.5h0M276.7,677.9h0M286.6,677.1h0M304.9,677h0M311.7,678h0M318,678.5h0M256.6,684.1h0M284.1,682.5h0M308.4,681.2h0M320,683.1h0M242.1,688.6h0M254.2,686.5h0M271.2,686.3h0M275.2,687.2h0M294.1,687.8h0M299.7,686.6h0M307,686.9h0M315.5,687.8h0M262.3,691.3h0M278.4,692.4h0M294,697.5h0M317.3,697.6h0M233.3,701.8h0M238.2,701.6h0M287,701.7h0M291.2,703.5h0M301.9,702.2h0M308.1,702.8h0M224.5,709.5h0M238,707.2h0M311,707.1h0M261.4,711.4h0M298.1,712.1h0M223.6,716.5h0M249.4,717.5h0M309.8,718h0M316.7,719.5h0M209.3,722.6h0M231.9,721.6h0M245.9,724.5h0M258.1,723.5h0M267.5,722.3h0M272.1,724h0M290.3,723h0M308.2,723.1h0M225.8,726.7h0M235.5,726.6h0M258.6,726.7h0M312.2,727.1h0M234.6,733.7h0M261,732.1h0M275.4,732.7h0M280.9,733h0M292.7,731.8h0M213.9,737.1h0M253.4,737.4h0M264.6,738.4h0M270.5,737.9h0M289.1,737.1h0M299.6,739.3h0M233.6,744.7h0M249.7,741.9h0M275.3,743.6h0M280.8,742h0M286.4,742.2h0M214.2,746.6h0M241.9,748.7h0M294.1,746.6h0M217.4,754.9h0M240.7,752.1h0M247.8,753.3h0M264.2,753.6h0M278.9,753h0M285,752.5h0M210.5,759.2h0M216.9,759.2h0M283.2,758.3h0M286.9,757.4h0M319.6,756h0M330.3,756.5h0M344.9,757.8h0M220.5,763.5h0M243.4,762.1h0M291.9,763.4h0M298.3,765.6h0M307.8,765.2h0M312.9,763.9h0M327.3,764h0M337.8,763h0M351.6,765.6h0M356.4,762.6h0M222.2,771.1h0M237.6,768.4h0M265.6,770.9h0M311.9,771.3h0M325.9,770.2h0M338,770.1h0M361.2,770.3h0M221.8,776.9h0M225.4,777.1h0M262.2,777.6h0M342.9,775.5h0M365.1,777h0M235.9,784.1h0M244.4,782h0M251.7,783h0M259.6,783.7h0M323.5,781.5h0M348.8,784.4h0M382.1,783.9h0M219.9,787.5h0M234.4,789.4h0M264.2,790.9h0M280,787.6h0M300.6,791.3h0M314.4,789.3h0M364.9,789.6h0M373.9,788.5h0M381.2,789h0M387,788.4h0M215.4,796.1h0M224.1,797h0M228.8,796.7h0M239.8,795.9h0M261.7,796.2h0M267.8,797h0M297,794.5h0M311.9,794h0M353.5,795.4h0M369.5,797.6h0M374.2,796h0M392,796.1h0M213.1,804h0M226.8,800.3h0M235.1,800.8h0M240.2,799.9h0M246.8,802.9h0M261.7,803.7h0M314.9,803h0M321.5,803.9h0M337.1,799.9h0M341.3,802.7h0M352.1,800.2h0M372.4,800.1h0M225.5,809.6h0M262,809.8h0M267.6,807.5h0M281.1,809.2h0M297.5,807.4h0M319.4,810.1h0M340.1,807.4h0M369.1,809.7h0M374.8,809.5h0M213.9,814.5h0M228.4,813.5h0M262.1,815.6h0M270.2,815h0M283.8,812.7h0M298.1,815.3h0M326.9,816.8h0M359.9,815.9h0M371.4,812.7h0M378.4,813.3h0M246.1,820.5h0M252.4,819.5h0M261.9,823.2h0M283.4,822.8h0M304.1,823.1h0M326,820.1h0M332.9,822.1h0M346,819.4h0M354.2,819.6h0M377.1,819.7h0M221.4,827.9h0M257.2,827.6h0M286.8,826.6h0M291.1,827.3h0M305.4,829.4h0M335.1,826h0M356.2,826.4h0M366.9,825.4h0M239,832.3h0M243.5,831.9h0M253.1,833.6h0M275.8,834h0M304.8,832.9h0M334.1,832.6h0M220,840.1h0M236.5,838.8h0M247.9,841.4h0M264.4,838.6h0M294.2,840.9h0M307.1,840h0M313.4,838.3h0M321.2,838.4h0M329.3,841.5h0M334.6,840.3h0M229.7,846h0M252.3,846.3h0M257.8,844.7h0M283,848h0M310.9,848.1h0M338.9,846.9h0M345.4,846.7h0M227,852.8h0M255.7,853h0M261.4,852h0M272.3,851.5h0M278.3,852.6h0M284.4,854.7h0M312.4,852.1h0M338.2,853.7h0M341.9,851.9h0M238.5,858.4h0M245.1,858.8h0M259.4,859.2h0M294.6,859.3h0M319.5,860.4h0M327.3,857.6h0M243.9,864.6h0M249.1,866.6h0M254.8,864.5h0M286.7,867.4h0M294.3,864.9h0M298.3,864.3h0M322.2,865.7h0M328.2,867.4h0M260.8,870.9h0M282,870.9h0M303.8,873.6h0M264.2,877.2h0M269.3,878.8h0M301.2,876.4h0M306.5,878.9h0M313.8,879.9h0M276.2,885.4h0M304.2,883.6h0M310.3,884.9h0M294.5,890.2h0M301.7,891.4h0M308.1,892h0M294.3,895.9h0M242.3,713.9h0M251.6,715.9h0M262.3,710.4h0M295.9,708.2h0M246.3,718.9h0M250.5,720.9h0M268.1,719h0M293.4,719h0M260.6,728h0M300.7,725.3h0M260.2,734.7h0M301.6,730.9h0M225.8,746.5h0M239.2,749.8h0M254.8,745.5h0M258.7,748.2h0M265.3,750.1h0M227.8,611.9h0M245.7,613.4h0M272,625.2h0M275.6,626.7h0M303.6,632.9h0M318.7,635h0M320.8,633.8h0M344.5,637.2h0M354.2,643.9h0M355.7,646.5h0M354.2,664.6h0M353.3,674.1h0M353.8,679.5h0M354.5,699.3h0M354.8,702.2h0M354.9,705.7h0M352.2,715.6h0M351.2,721.5h0M352.7,735.1h0M113.8,698.4h0M116.4,700.1h0M140.5,709.9h0M145.7,703.8h0M151.6,710.4h0M155.2,712.6h0M159,710h0M159.4,714.9h0M163.4,713h0M186.8,714.8h0M204.4,719.1h0M123.1,838.6h0M164.9,836.9h0M181.5,841.9h0M183.7,840.2h0M188.6,837.7h0M204.8,834.9h0M217.8,838.7h0" stroke="#3E7CBB" stroke-width="4.7" stroke-linecap="round" fill="none" opacity="0.37"/>
<path d="M303.2,634.5h0M299.9,638.2h0M298.1,641.6h0M293.1,646.9h0M306,649.2h0M317.7,648.8h0M297,654.3h0M287.4,657.1h0M311.8,657.9h0M281,664.5h0M290.8,662.8h0M301.5,662.6h0M308.5,662.3h0M271.2,668.6h0M275.3,666.4h0M297.6,674.6h0M258.6,679.5h0M281.5,677.9h0M298.2,676.3h0M297.1,683.4h0M303.2,683.6h0M315.3,683.8h0M258.2,687.1h0M283.1,688.6h0M288.9,687.2h0M240.8,691.7h0M252.1,693.7h0M255.6,694.4h0M266.4,693h0M289.5,693.9h0M304.2,693.7h0M313.8,692.6h0M236.4,696.9h0M254.1,699.4h0M261,698.2h0M266,696.4h0M271.8,697.8h0M281.8,696.4h0M289.8,696.7h0M299.1,698.8h0M307.2,697.2h0M311.9,697.3h0M256.8,704.4h0M278.1,702.3h0M240.8,706.8h0M260,709h0M275.8,709.5h0M294.5,708.7h0M298.5,706.6h0M317.5,706.3h0M226.8,712.2h0M238.6,711.4h0M257.1,714.5h0M280.7,713.9h0M285.4,712h0M301.7,714h0M314.2,712h0M218.1,719.7h0M260.3,716.5h0M265.8,717.7h0M270.5,717.5h0M281.8,717.6h0M299.3,719.2h0M221.6,724.2h0M250.2,722.3h0M286.9,721.5h0M315.7,722h0M208.6,729.1h0M213.7,727.5h0M218.4,727.6h0M229.6,729h0M247.3,729.8h0M255,729.8h0M263.8,728.1h0M271.7,727.9h0M294.6,726.8h0M301,727.4h0M316.3,727.2h0M209.2,734.5h0M216.4,732.5h0M221.6,734.8h0M241,731.8h0M252,734.6h0M297.3,733.6h0M301.7,732.7h0M225.9,738.3h0M236,738.3h0M242.6,736.7h0M246.7,738.8h0M282,737.1h0M305.3,739.5h0M214.8,743.6h0M221.5,743.2h0M226.5,742.4h0M237.9,743.1h0M246.1,744.8h0M269.6,742.8h0M290.8,744.4h0M298.1,742.1h0M308.5,742.8h0M225.2,748.4h0M231,747.5h0M236.1,748.5h0M252,748.6h0M259.4,747.3h0M266.1,749.2h0M281.2,748h0M286.9,748h0M300.3,746.8h0M323.1,746.7h0M270.6,753h0M292.9,750.6h0M298.6,752h0M305.3,753.3h0M319.9,753.4h0M328.2,749.9h0M239.2,756.5h0M244.6,757.5h0M258.9,758.7h0M266.6,757h0M276.4,757.8h0M295.9,759h0M302.8,758.7h0M310.9,756.6h0M226.7,763.7h0M258,764.1h0M269.6,764h0M278.2,765.2h0M286.4,764.8h0M342.1,763.3h0M217.3,770.2h0M253.5,770.5h0M260.4,770.3h0M295.9,769.3h0M319.5,771.2h0M348.3,771.4h0M354.9,769.4h0M241.8,777.4h0M255.8,778.7h0M270.3,777.9h0M276.4,778.9h0M284.7,774.8h0M297.7,776.4h0M313.7,775.7h0M330.8,776.9h0M349.1,778h0M359.3,777.4h0M371.3,778.8h0M210.5,782.5h0M223,782h0M230.5,781.7h0M279.7,784.5h0M290.7,784.3h0M304,781h0M331.4,784.3h0M339.1,781.6h0M352.9,784.8h0M211.5,787.8h0M241.9,791h0M256.1,789.7h0M270.2,789.1h0M285.9,790h0M290.5,789.9h0M335.5,791h0M342.8,789.3h0M356.7,789.1h0M394.3,791.5h0M250.5,794.4h0M304.2,795.5h0M347.3,794.7h0M222,801.9h0M254.6,804.1h0M279,800.9h0M290.6,803.2h0M308.1,800.2h0M357.1,803.1h0M363.8,803.6h0M386.7,802.8h0M231.1,807.5h0M236.2,810.4h0M246.2,809.8h0M289.4,810.1h0M301.3,807.3h0M310.4,808.7h0M333.9,810h0M385.3,807.2h0M234.8,816.4h0M243.4,814.8h0M254.9,813.4h0M277.6,814.8h0M337.7,814.6h0M343.7,813.7h0M351.9,814.4h0M366.6,816.7h0M385.2,812.7h0M210.8,819.1h0M216.7,820.6h0M265.9,819h0M273.3,820.4h0M297.4,821.9h0M338.1,820.2h0M369.6,818.9h0M227,826.6h0M235.9,827.2h0M242.3,825.8h0M247.8,825.4h0M262,828.9h0M276.5,826.3h0M299,829.1h0M328.8,826.4h0M223.9,832.1h0M229.4,834.8h0M280.4,831.8h0M312.2,835.2h0M327,833.6h0M338.4,835.1h0M227.3,837.9h0M254.2,838.2h0M278.4,840.1h0M286.2,838.2h0M297.8,838.3h0M344.5,838.5h0M352.1,841.9h0M238.7,845.7h0M245.5,844.4h0M296.8,845.3h0M304.2,845.3h0M318.5,845.2h0M325.3,846h0M291.7,853.8h0M253.6,858h0M266.6,858.2h0M275.7,860.5h0M303.8,857.1h0M313,863.9h0M288.7,871.1h0M294.3,873.3h0M310.5,872.1h0M276.3,876.9h0M286.8,876.3h0M292.3,879.4h0M284.3,888.8h0M302.6,707.5h0M256.6,712.1h0M274.5,708.5h0M290.4,716.1h0M279.5,722.3h0M290,716.7h0M243.6,730.5h0M267.9,723.2h0M294.7,726.8h0M236.8,734h0M251.3,735.1h0M274.7,731.7h0M222.7,739.7h0M230.9,742.3h0M257.4,738.2h0M246.2,746.2h0M288.4,748.6h0M231.3,612.9h0M248.3,614.9h0M251.3,621.6h0M262.6,623.8h0M265.2,620.9h0M268,626.1h0M287,629.5h0M297.2,631.9h0M302.4,627.8h0M308.5,631.4h0M311.8,630.7h0M323.7,637.9h0M328.9,633.9h0M330.9,636.3h0M337.7,637.7h0M339.9,639.6h0M345.7,643.5h0M357.6,648.6h0M354.5,652.7h0M359.1,658.7h0M355,667.4h0M357,670.1h0M354.3,677.6h0M356,686.7h0M355.6,689.7h0M353.2,718.2h0M349.5,725.5h0M351.1,729.6h0M350.1,733.5h0M110.9,699.3h0M119.5,697.8h0M126.5,696h0M128.3,698.9h0M132,699.7h0M134.3,700.4h0M146.2,711.4h0M166.3,713.3h0M173.3,716.8h0M179.8,713.7h0M201.5,718.2h0M207.7,719.2h0M122.3,832.8h0M132,836.3h0M132.5,843.6h0M137.5,835.2h0M138.5,842.5h0M142.5,840.7h0M144.9,839.6h0M158.2,840.6h0M171.7,841.5h0M173.8,839.9h0M176.6,840.6h0M195.3,836.2h0M195.5,832h0M198.7,832.9h0M216.2,832.7h0M220.5,834h0" stroke="#3E7CBB" stroke-width="4.7" stroke-linecap="round" fill="none" opacity="0.37"/>
<path d="M306.2,636.2h0M312.8,638.7h0M318.4,638.8h0M308.6,641.6h0M289.9,647.3h0M302.5,654.1h0M300,658.8h0M307,657.7h0M284.4,664.4h0M313.2,662.2h0M320.8,661.2h0M264,669.3h0M286.8,669.4h0M304.1,669.1h0M311.2,667.3h0M275.4,671.5h0M280.7,672.7h0M290.8,672.9h0M302.2,674.1h0M313.9,672.4h0M292.6,677.6h0M245.8,684h0M249.5,683h0M263.4,684.1h0M268.4,684.3h0M274.5,683.6h0M278.7,681.3h0M289.8,684.1h0M248.8,688.4h0M266.1,687.3h0M313,689.5h0M246.1,693h0M273.7,692.3h0M284.8,694.2h0M298.1,691.7h0M309.9,692.3h0M229.7,697.2h0M241.7,699.6h0M249.2,699.1h0M277.6,698.5h0M229.1,704.7h0M244.5,701.6h0M249.9,702.2h0M263.2,702.7h0M267.8,703.1h0M273.4,702.5h0M298.2,702h0M315.8,704.2h0M231.7,709.3h0M248,708.7h0M255.2,708.8h0M265.1,708.2h0M269.4,709h0M283,707.4h0M287,707.2h0M305.7,708.3h0M217.8,713.6h0M223.3,713h0M235.1,713.8h0M245,713.7h0M250.5,712.2h0M267.5,712.8h0M274.5,712h0M292.8,712.4h0M307.8,714.6h0M319.1,712.8h0M208.1,719.6h0M212.1,717.7h0M229.1,717.7h0M237.7,719.4h0M242.9,719.8h0M252.6,719.6h0M275.6,716.4h0M289.9,716.8h0M295.7,717.1h0M306.7,717.8h0M217.5,721.5h0M228.6,721.5h0M240.7,722.3h0M261.5,723.9h0M281.1,723.6h0M298.5,724.7h0M302.3,722.2h0M240.5,728.3h0M275.8,727.8h0M282.9,728.7h0M289.1,729.3h0M305.8,727.7h0M227.7,732.2h0M244.9,734.2h0M255,732.4h0M269.7,733.4h0M284.6,734.1h0M307.2,732.1h0M313.4,733.5h0M218.4,737.1h0M229.1,736.8h0M258.8,739.7h0M278,739.9h0M292.3,739.5h0M311.2,737h0M210.9,744.6h0M258.1,744.8h0M262.3,741.6h0M301.7,742.8h0M220.2,746.9h0M247.7,748h0M270.8,747.1h0M276.7,746.8h0M212,752h0M222.7,754.3h0M308.8,746.9h0M319.2,746.1h0M256.8,752.3h0M312.8,749.4h0M334.1,749.5h0M224.1,756.9h0M229.1,756.1h0M250.5,756.7h0M326.7,756.4h0M340.9,759.9h0M213.5,765.4h0M236.1,762.3h0M247.7,763.1h0M263,765.8h0M322.8,764.5h0M211.1,771.7h0M229.1,769.2h0M244.9,771.7h0M274,771.5h0M283.4,770.1h0M289.3,771.5h0M304.4,772.1h0M331.7,771h0M211.2,778h0M234.6,777.7h0M250.4,776.9h0M291.6,776.3h0M306.7,777.6h0M320.4,777.8h0M334.9,778.1h0M217.8,782.1h0M267.8,782.5h0M276.3,784.6h0M294.6,784.5h0M308.6,785.1h0M318.7,782h0M362.1,784.3h0M369.6,784.8h0M377.4,784.6h0M205.6,788.4h0M227,787.9h0M246.8,790.9h0M306.4,791.5h0M323.4,787.4h0M329.8,790h0M350.8,790.6h0M208.3,794.9h0M243.4,794.9h0M276.2,796.2h0M282.2,796.3h0M289.8,796.2h0M316.6,793.7h0M326.5,797.5h0M333.2,795.2h0M341.2,797h0M360.8,795.4h0M381.4,794.1h0M399.7,795.5h0M269.2,799.9h0M286.3,800.7h0M300.8,803.6h0M327.8,804.1h0M379.2,802.4h0M392.7,803.3h0M209.6,808h0M215.8,809.6h0M251.9,808.8h0M274.1,810.1h0M323.3,809.8h0M348.6,809.7h0M355.1,810.2h0M360.9,806.6h0M218.1,816h0M248.9,815.1h0M294.7,814.1h0M308.3,813.2h0M314.8,814h0M321.7,812.6h0M221.9,823h0M229.8,821.3h0M238.7,823h0M290.4,819h0M308.8,819.5h0M319.1,822.9h0M360.4,819.5h0M269.8,826.9h0M312.4,829.1h0M322.4,826.1h0M342.8,829.5h0M352.9,829.2h0M218.1,832.4h0M258.9,832.4h0M267.6,834.6h0M289.9,833.3h0M297.2,831.7h0M318,831.5h0M346.5,832.2h0M353.8,834.1h0M359.4,833.7h0M240.3,838.2h0M268.7,840.4h0M357.5,839.6h0M225.5,848.2h0M269.2,847.5h0M276.3,846.9h0M290.6,844.3h0M334.5,845.4h0M234.9,852.5h0M240.9,851.5h0M247.8,852.7h0M298.3,850.7h0M308.7,852.4h0M321.4,853.6h0M327.2,851.4h0M281.7,858.7h0M287.6,858.1h0M312.6,858.2h0M332.2,860.7h0M337.7,857h0M265.6,866.7h0M270.8,863.6h0M279.8,866.1h0M307.1,865.3h0M265.7,870.6h0M272.7,873.3h0M316.9,869.6h0M283.3,885.8h0M287.3,883.2h0M294.1,885h0M302.1,897.7h0M231.6,713.2h0M283.9,709.2h0M228.7,715.3h0M238.2,722.6h0M261.1,718.9h0M304.2,718.2h0M229.5,726.6h0M251.2,731h0M275.3,727.9h0M280.6,727.6h0M240.3,735.8h0M270,733.5h0M289.9,734.8h0M291.8,737.5h0M237.2,742.5h0M244.8,742h0M264.4,738.2h0M273.2,744.9h0M282.7,743.7h0M293.1,738.5h0M303.6,743.7h0M275.6,747.6h0M225.8,612.2h0M235.1,614.2h0M238,612.2h0M240.6,617.1h0M249.4,620h0M256.8,619.6h0M258.5,621.6h0M279.9,624.1h0M284.1,627.3h0M292,625.6h0M294.1,626.9h0M315.6,633h0M334.4,638.4h0M350.6,640.7h0M354.4,660.8h0M355.2,683.6h0M355.9,692.1h0M351.4,695.2h0M350.1,707.5h0M351.9,712h0M124.1,697.5h0M135.2,706.9h0M140.1,702.7h0M150.5,706.3h0M167.8,714.4h0M169.9,716.9h0M176.8,715.5h0M183.2,718.8h0M188.6,720.7h0M191.7,715.6h0M194.4,716.3h0M197.7,715.9h0M119.3,832.6h0M127.3,835h0M127.7,842.4h0M147.2,838.1h0M148.7,838.5h0M151.5,842.2h0M154.9,838.8h0M159.6,838.6h0M163.4,846.1h0M168.6,839h0M179.8,844.3h0M187.5,841.3h0M192.8,840.1h0M201.9,829.9h0M206.2,838.8h0M209.4,834.8h0M211.5,838.2h0" stroke="#3E7CBB" stroke-width="4.7" stroke-linecap="round" fill="none" opacity="0.37"/>
<path d="M737.1,701.8h0M742.2,703.3h0M746.1,695h0M750,700.8h0M754.2,703.2h0M763.2,700.9h0M774.9,698.1h0M779.6,696.7h0M782.3,693.9h0M786.7,697.8h0M797.5,690.7h0M801.2,694.5h0M812.4,690.8h0M825.2,685.3h0M832.7,685.2h0M834.7,691.2h0M840.1,691.8h0M858.7,679.1h0M863.5,682.1h0M869.8,683.4h0M880.4,676.1h0M885.6,679.9h0M891.4,678.7h0M897.9,677.2h0M900.8,675.5h0M906.8,674h0M910.9,676.1h0M916.9,671.4h0M944.7,675.9h0M947.8,674.8h0M947.4,696.8h0M942.6,708.1h0M943.6,721.8h0M940.7,725.5h0M943.7,731.8h0M940,733.6h0M938.9,736.5h0M936.7,755.9h0M940,760.5h0M937.7,763.1h0M936.2,767.1h0M936.4,770.2h0M876.1,707.7h0M876.7,716.9h0M879.6,726.9h0M873.9,748.1h0M874.3,757.6h0M739.2,841.7h0M745.3,836h0M745.6,832.2h0M749.5,836.1h0M752.9,830.2h0M758.7,838.4h0M768.8,835.7h0M770.5,835.3h0M782.7,830h0M789.7,827.8h0M790.6,826.4h0M793.8,827.5h0M798.4,820h0M802.2,823.5h0M802.9,815.5h0M806.9,818.7h0M813.9,818h0M820.4,809.7h0M823.3,813.7h0M825.1,810.5h0M831.6,805h0M838.1,806.9h0M843,799.5h0M848.9,804.4h0M854.2,791.5h0M858.3,789.1h0M864.9,788.4h0M864.9,785.1h0M883.5,793.6h0M891,792.8h0M894.2,793.7h0M901.8,792h0M929.4,795h0M944.2,796.5h0M950.3,796.3h0M962.4,798.9h0M977.7,799.8h0M1001,801.1h0M1006.1,800.9h0" stroke="#3E7CBB" stroke-width="4.6" stroke-linecap="round" fill="none" opacity="0.37"/>
<path d="M727.4,696.6h0M733,706.1h0M735.9,706.6h0M743.9,700.5h0M764.6,695.2h0M784.2,693.2h0M792,695.2h0M793.5,692.6h0M805,691h0M820.3,688.8h0M824,694.3h0M828.2,693.1h0M830.8,691.5h0M844.5,687.4h0M874.5,681.3h0M877.2,677.1h0M904.4,677.1h0M923.8,673.8h0M937.3,672.5h0M940.7,672h0M944.6,677.9h0M943.7,680.5h0M944.9,684.3h0M947.5,687h0M945.7,700h0M945,710.5h0M943.3,715h0M943.1,717.9h0M943.8,728.5h0M939,739.7h0M940.7,748h0M937,750.7h0M934.5,782.9h0M875.9,700.6h0M877.7,735.5h0M874.5,764.7h0M734.7,840.9h0M751.4,838.9h0M755.1,831.1h0M759.7,831.6h0M761.7,832.5h0M772.6,829.8h0M777.7,834.1h0M779,829.8h0M781.8,832.5h0M797.1,828.4h0M796.9,824.7h0M811.8,823.4h0M809.9,813.2h0M817.4,815.4h0M821.2,817.3h0M831.2,814.7h0M829.3,805.3h0M836.4,808.9h0M840.6,807.1h0M841.2,804.1h0M843.7,803.9h0M849.7,802.3h0M854.1,797.2h0M860.1,798.3h0M860.7,790.6h0M863.6,791.2h0M870.1,789.8h0M870.1,783.7h0M905,792.2h0M912.8,794.9h0M916.3,796.1h0M924.4,793.8h0M933.8,794.8h0M968.9,799.8h0M994.5,802h0M1011.4,803.7h0" stroke="#3E7CBB" stroke-width="4.6" stroke-linecap="round" fill="none" opacity="0.37"/>
<path d="M730.8,699.1h0M740.7,701.8h0M752.1,704.2h0M756.4,702.1h0M757.8,693.1h0M761.4,702.1h0M768.1,698.9h0M770.9,697.5h0M773.5,699.3h0M777.4,700h0M788.2,689.9h0M796.1,697.7h0M803.7,691.4h0M808.4,690.7h0M811.5,695.4h0M814.8,691.4h0M817.9,688.5h0M837.2,684.1h0M843.1,691.5h0M847.8,690.8h0M848.9,682.3h0M852,684.6h0M854.4,682.6h0M856.8,686.5h0M861.1,684.3h0M866.6,684.7h0M871.9,678h0M887.2,676.3h0M894.1,678.4h0M912.7,671.4h0M921.2,671.4h0M926.9,672.1h0M931.3,672.4h0M934.3,669.9h0M946.8,691.3h0M943.2,693.5h0M945.2,705.3h0M938.4,744.4h0M936.9,753.1h0M935.7,773h0M937,776.3h0M937.9,779.2h0M877.7,689.7h0M736.4,835.2h0M741.5,840.7h0M742.3,833.5h0M765.2,836.8h0M764.6,828.9h0M775.4,834.6h0M786.5,832.9h0M787.1,826.9h0M804.7,825.7h0M813.5,811.8h0M829.6,816.3h0M852,800.4h0M853.8,798.6h0M941,797.9h0M958.4,798.7h0M973.1,800.4h0M984.4,800.4h0M990,801.8h0" stroke="#3E7CBB" stroke-width="4.6" stroke-linecap="round" fill="none" opacity="0.37"/>
<path d="M870.6,681.8 L882.4,680.5 L890.5,686.5 L886.6,723.9 L881.3,779.4 L885.6,786.9 L1017,797.6" fill="none" stroke="#3F78B8" stroke-width="6.8" stroke-linecap="round" stroke-linejoin="round"/>
<defs><filter id="bl3" x="-20%" y="-20%" width="140%" height="140%"><feGaussianBlur stdDeviation="3"/></filter><filter id="bl6" x="-20%" y="-20%" width="140%" height="140%"><feGaussianBlur stdDeviation="4.5"/></filter><linearGradient id="gtl" gradientUnits="userSpaceOnUse" x1="400" y1="0" x2="870" y2="0"><stop offset="0" stop-color="#8BB0F5"/><stop offset="0.45" stop-color="#80BCDC"/><stop offset="0.8" stop-color="#74D6B4"/></linearGradient><linearGradient id="gtr" gradientUnits="userSpaceOnUse" x1="870" y1="0" x2="1330" y2="0"><stop offset="0.1" stop-color="#74D6B4"/><stop offset="0.55" stop-color="#80BCDC"/><stop offset="1" stop-color="#8BB0F5"/></linearGradient><clipPath id="cpL"><rect x="98" y="1182" width="322" height="321"/></clipPath><clipPath id="cpR"><rect x="713" y="1181.5" width="321" height="322"/></clipPath></defs>
<g clip-path="url(#cpL)"><g transform="translate(90,1175) scale(0.21368)"><path d="M-400,712 L780,712 M-400,724 L780,724 M-400,736 L780,736 M-400,748 L780,748 M-400,760 L780,760 M-400,772 L780,772 M-400,784 L780,784 M-400,800 L790,800 M-400,814 L790,814 M-400,828 L790,828 M-400,842 L790,842 M-400,856 L790,856 M-400,868 L790,868" fill="none" stroke="#E8E8E8" stroke-width="7.5" />
<path d="M700,784 Q740,790 730,800" fill="none" stroke="#E8E8E8" stroke-width="7.5" />
<path d="M860,700 L1340,705.0 M860,711 L1340,715.5 M860,722 L1340,726.0 M860,733 L1340,736.5 M860,744 L1340,747.0 M860,755 L1340,757.5 M860,766 L1340,768.0 M860,777 L1340,778.5" fill="none" stroke="#E8E8E8" stroke-width="7.5" />
<path d="M385.0,265 Q390.0,480.0 640.0,590.0 Q760.0,640 1060,660.0 L1340,705.0 M396.7,265 Q406.9,477.4 646.5,578.3 Q763.9,627 1060,652.2 L1340,698.5 M408.4,265 Q423.8,474.8 653.0,566.6 Q767.8,614 1060,644.4 L1340,692.0 M420.1,265 Q440.7,472.2 659.5,554.9 Q771.7,601 1060,636.6 L1340,685.5 M439.0,265 Q468.0,468.0 670.0,536.0 Q778.0,580 1060,624.0 L1340,675.0" fill="none" stroke="#E8E8E8" stroke-width="7.5" />
<path d="M465,240 L455,280 L435,300 L445,360" fill="none" stroke="#E8E8E8" stroke-width="7.5" />
<path d="M350,285 L40,698 M317,309 L40,678 M284,333 L40,658 M251,357 L40,638 M218,381 L40,618 M185,405 L40,598 M152,429 L40,578 M119,453 L40,558 M86,477 L40,538 M53,501 L40,518" fill="none" stroke="#E8E8E8" stroke-width="7.5" />
<path d="M40,760 L230,520 L280,470 L295,400 L350,285" fill="none" stroke="#E8E8E8" stroke-width="7.5" />
<path d="M385.0,862 Q530,960 540,1090 Q535,1250.0 230.0,1310 L40,1085" fill="none" stroke="#E8E8E8" stroke-width="7.5" />
<path d="M392.0,862 Q544,960 554,1090 Q549,1258.4 234.2,1324 L26,1099" fill="none" stroke="#E8E8E8" stroke-width="7.5" />
<path d="M399.0,862 Q558,960 568,1090 Q563,1266.8 238.4,1338 L12,1113" fill="none" stroke="#E8E8E8" stroke-width="7.5" />
<path d="M790,900 Q700,1160 270,1335.0 M801,900 Q711,1165 284,1341.5 M812,900 Q722,1170 298,1348.0 M823,900 Q733,1175 312,1354.5 M834,900 Q744,1180 326,1361.0 M845,900 Q755,1185 340,1367.5 M856,900 Q766,1190 354,1374.0 M867,900 Q777,1195 368,1380.5 M878,900 Q788,1200 382,1387.0 M889,900 Q799,1205 396,1393.5" fill="none" stroke="#E8E8E8" stroke-width="7.5" />
<path d="M945,900 L808,1412 M964,900 L823,1410 M983,900 L838,1408 M1002,900 L853,1406 M1021,900 L868,1404 M1040,900 L883,1402" fill="none" stroke="#E8E8E8" stroke-width="7.5" />
<path d="M785,868 L785,893 L1075,893 L1075,660 M1060,660 L1060,893 M860,700 L960,790 L990,860 M905,690 L940,760 L1075,775 M850,690 L850,760" fill="none" stroke="#E8E8E8" stroke-width="7.5" />
<g filter="url(#bl6)" fill="none" stroke-linecap="round"><path d="M240,694 L400,700" stroke="#BCD3FA" stroke-width="28" opacity="0.6"/><path d="M530,662 Q700,690 800,750" stroke="#BCD3FA" stroke-width="28" opacity="0.7"/><path d="M1320,842 L1470,836" stroke="#BCD3FA" stroke-width="26" opacity="0.6"/><path d="M405,690 Q520,700 600,712 Q700,725 760,745 Q850,780 868,850" stroke="url(#gtl)" stroke-width="42"/><path d="M872,850 Q900,822 1000,820 Q1100,822 1180,834 L1320,850" stroke="url(#gtr)" stroke-width="29"/></g>
<path d="M868,855 Q890,822 960,813 L1478,815" fill="none" stroke="#C41EE8" stroke-width="13" stroke-linecap="round" stroke-dasharray="0.1 19"/>
<path d="M868,855 Q890,822 960,813 L1100,813" fill="none" stroke="#C41EE8" stroke-width="9" stroke-linecap="round"/>
<rect x="585" y="823" width="30" height="15" fill="#fff" stroke="#777" stroke-width="4"/>
<rect x="638" y="823" width="32" height="15" fill="#5A0A0A" stroke="#222" stroke-width="4"/>
<rect x="697" y="824" width="23" height="13" fill="#fff" stroke="#777" stroke-width="4"/>
<rect x="800" y="819" width="22" height="36" fill="#fff" stroke="#555" stroke-width="4" transform="rotate(-12 811 837)"/>
<rect x="818" y="882" width="9" height="12" fill="#555" transform="rotate(15 822 888)"/>
<rect x="597" y="628" width="10" height="7" fill="#555"/></g></g>
<g clip-path="url(#cpR)"><g transform="translate(705,1175) scale(0.21368) translate(860,705) rotate(-90) translate(-865,-855)"><path d="M-400,712 L780,712 M-400,724 L780,724 M-400,736 L780,736 M-400,748 L780,748 M-400,760 L780,760 M-400,772 L780,772 M-400,784 L780,784 M-400,800 L790,800 M-400,814 L790,814 M-400,828 L790,828 M-400,842 L790,842 M-400,856 L790,856 M-400,868 L790,868" fill="none" stroke="#E8E8E8" stroke-width="7.5" />
<path d="M700,784 Q740,790 730,800" fill="none" stroke="#E8E8E8" stroke-width="7.5" />
<path d="M860,700 L1340,705.0 M860,711 L1340,715.5 M860,722 L1340,726.0 M860,733 L1340,736.5 M860,744 L1340,747.0 M860,755 L1340,757.5 M860,766 L1340,768.0 M860,777 L1340,778.5" fill="none" stroke="#E8E8E8" stroke-width="7.5" />
<path d="M385.0,265 Q390.0,480.0 640.0,590.0 Q760.0,640 1060,660.0 L1340,705.0 M396.7,265 Q406.9,477.4 646.5,578.3 Q763.9,627 1060,652.2 L1340,698.5 M408.4,265 Q423.8,474.8 653.0,566.6 Q767.8,614 1060,644.4 L1340,692.0 M420.1,265 Q440.7,472.2 659.5,554.9 Q771.7,601 1060,636.6 L1340,685.5 M439.0,265 Q468.0,468.0 670.0,536.0 Q778.0,580 1060,624.0 L1340,675.0" fill="none" stroke="#E8E8E8" stroke-width="7.5" />
<path d="M465,240 L455,280 L435,300 L445,360" fill="none" stroke="#E8E8E8" stroke-width="7.5" />
<path d="M350,285 L40,698 M317,309 L40,678 M284,333 L40,658 M251,357 L40,638 M218,381 L40,618 M185,405 L40,598 M152,429 L40,578 M119,453 L40,558 M86,477 L40,538 M53,501 L40,518" fill="none" stroke="#E8E8E8" stroke-width="7.5" />
<path d="M40,760 L230,520 L280,470 L295,400 L350,285" fill="none" stroke="#E8E8E8" stroke-width="7.5" />
<path d="M385.0,862 Q530,960 540,1090 Q535,1250.0 230.0,1310 L40,1085" fill="none" stroke="#E8E8E8" stroke-width="7.5" />
<path d="M392.0,862 Q544,960 554,1090 Q549,1258.4 234.2,1324 L26,1099" fill="none" stroke="#E8E8E8" stroke-width="7.5" />
<path d="M399.0,862 Q558,960 568,1090 Q563,1266.8 238.4,1338 L12,1113" fill="none" stroke="#E8E8E8" stroke-width="7.5" />
<path d="M790,900 Q700,1160 270,1335.0 M801,900 Q711,1165 284,1341.5 M812,900 Q722,1170 298,1348.0 M823,900 Q733,1175 312,1354.5 M834,900 Q744,1180 326,1361.0 M845,900 Q755,1185 340,1367.5 M856,900 Q766,1190 354,1374.0 M867,900 Q777,1195 368,1380.5 M878,900 Q788,1200 382,1387.0 M889,900 Q799,1205 396,1393.5" fill="none" stroke="#E8E8E8" stroke-width="7.5" />
<path d="M945,900 L808,1412 M964,900 L823,1410 M983,900 L838,1408 M1002,900 L853,1406 M1021,900 L868,1404 M1040,900 L883,1402" fill="none" stroke="#E8E8E8" stroke-width="7.5" />
<path d="M785,868 L785,893 L1075,893 L1075,660 M1060,660 L1060,893 M860,700 L960,790 L990,860 M905,690 L940,760 L1075,775 M850,690 L850,760" fill="none" stroke="#E8E8E8" stroke-width="7.5" />
<g filter="url(#bl6)" fill="none" stroke-linecap="round"><path d="M240,694 L400,700" stroke="#BCD3FA" stroke-width="28" opacity="0.6"/><path d="M530,662 Q700,690 800,750" stroke="#BCD3FA" stroke-width="28" opacity="0.7"/><path d="M1320,842 L1470,836" stroke="#BCD3FA" stroke-width="26" opacity="0.6"/><path d="M405,690 Q520,700 600,712 Q700,725 760,745 Q850,780 868,850" stroke="url(#gtl)" stroke-width="42"/><path d="M872,850 Q900,822 1000,820 Q1100,822 1180,834 L1320,850" stroke="url(#gtr)" stroke-width="29"/></g>
<path d="M868,855 Q890,822 960,813 L1478,815" fill="none" stroke="#C41EE8" stroke-width="13" stroke-linecap="round" stroke-dasharray="0.1 19"/>
<path d="M868,855 Q890,822 960,813 L1100,813" fill="none" stroke="#C41EE8" stroke-width="9" stroke-linecap="round"/>
<rect x="585" y="823" width="30" height="15" fill="#fff" stroke="#777" stroke-width="4"/>
<rect x="638" y="823" width="32" height="15" fill="#5A0A0A" stroke="#222" stroke-width="4"/>
<rect x="697" y="824" width="23" height="13" fill="#fff" stroke="#777" stroke-width="4"/>
<rect x="800" y="819" width="22" height="36" fill="#fff" stroke="#555" stroke-width="4" transform="rotate(-12 811 837)"/>
<rect x="818" y="882" width="9" height="12" fill="#555" transform="rotate(15 822 888)"/>
<rect x="597" y="628" width="10" height="7" fill="#555"/></g></g>
<path d="M345.5,1692.7 L440.7,1758.3 M345.5,1692.7 L440.7,1824.1 M345.5,1758.3 L440.7,1758.3 M345.5,1758.3 L440.7,1824.1 M345.5,1824.1 L440.7,1758.3 M345.5,1824.1 L440.7,1824.1 M345.5,1890.3 L440.7,1758.3 M345.5,1890.3 L440.7,1824.1 " fill="none" stroke="#8000FF" stroke-width="3.3" />
<path d="M782.5,1692.7 L877,1758.3 M782.5,1692.7 L877,1824.1 M782.5,1758.3 L877,1758.3 M782.5,1758.3 L877,1824.1 M782.5,1824.1 L877,1758.3 M782.5,1824.1 L877,1824.1 M782.5,1890.3 L877,1758.3 M782.5,1890.3 L877,1824.1 " fill="none" stroke="#8000FF" stroke-width="3.3" />
<rect x="294.8" y="1667.2" width="51" height="51" fill="#9EF0C7" stroke="#2A2A45" stroke-width="2" />
<rect x="294.8" y="1732.8" width="51" height="51" fill="#9EF0C7" stroke="#2A2A45" stroke-width="2" />
<rect x="294.8" y="1798.6" width="51" height="51" fill="#9EF0C7" stroke="#2A2A45" stroke-width="2" />
<rect x="294.8" y="1864.8" width="51" height="51" fill="#9EF0C7" stroke="#2A2A45" stroke-width="2" />
<rect x="440.7" y="1732.8" width="51" height="51" fill="#9EF0C7" stroke="#2A2A45" stroke-width="2" />
<rect x="440.7" y="1798.6" width="51" height="51" fill="#9EF0C7" stroke="#2A2A45" stroke-width="2" />
<rect x="629.5" y="1667.2" width="50.9" height="51" fill="#9EF0C7" stroke="#2A2A45" stroke-width="2" />
<rect x="680.4" y="1667.2" width="50.9" height="51" fill="#9EF0C7" stroke="#2A2A45" stroke-width="2" />
<rect x="731.3" y="1667.2" width="50.9" height="51" fill="#9EF0C7" stroke="#2A2A45" stroke-width="2" />
<rect x="629.5" y="1732.8" width="50.9" height="51" fill="#9EF0C7" stroke="#2A2A45" stroke-width="2" />
<rect x="680.4" y="1732.8" width="50.9" height="51" fill="#9EF0C7" stroke="#2A2A45" stroke-width="2" />
<rect x="731.3" y="1732.8" width="50.9" height="51" fill="#9EF0C7" stroke="#2A2A45" stroke-width="2" />
<rect x="629.5" y="1798.6" width="50.9" height="51" fill="#9EF0C7" stroke="#2A2A45" stroke-width="2" />
<rect x="680.4" y="1798.6" width="50.9" height="51" fill="#9EF0C7" stroke="#2A2A45" stroke-width="2" />
<rect x="731.3" y="1798.6" width="50.9" height="51" fill="#9EF0C7" stroke="#2A2A45" stroke-width="2" />
<rect x="629.5" y="1864.8" width="50.9" height="51" fill="#9EF0C7" stroke="#2A2A45" stroke-width="2" />
<rect x="680.4" y="1864.8" width="50.9" height="51" fill="#9EF0C7" stroke="#2A2A45" stroke-width="2" />
<rect x="731.3" y="1864.8" width="50.9" height="51" fill="#9EF0C7" stroke="#2A2A45" stroke-width="2" />
<rect x="877" y="1732.8" width="51" height="51" fill="#9EF0C7" stroke="#2A2A45" stroke-width="2" />
<rect x="928" y="1732.8" width="51" height="51" fill="#9EF0C7" stroke="#2A2A45" stroke-width="2" />
<rect x="979" y="1732.8" width="51" height="51" fill="#9EF0C7" stroke="#2A2A45" stroke-width="2" />
<rect x="877" y="1798.6" width="51" height="51" fill="#9EF0C7" stroke="#2A2A45" stroke-width="2" />
<rect x="928" y="1798.6" width="51" height="51" fill="#9EF0C7" stroke="#2A2A45" stroke-width="2" />
<rect x="979" y="1798.6" width="51" height="51" fill="#9EF0C7" stroke="#2A2A45" stroke-width="2" />
<path d="M295,1937 L314.1,1937 C328,1937 328,1953.5 314.1,1953.5 L305.4,1953.5 M298.5,1937 L298.5,1970 M305.4,1937 L305.4,1970 M295,1970 L309.6,1970 M314.1,1939 C322.8,1939 322.8,1951.5 314.1,1951.5 M308.2,1953.5 L320,1970 L329.7,1970 M314.1,1953.5 L325.5,1970" fill="none" stroke="#000" stroke-width="1.9" />
<use href="#cmC" transform="translate(333.0,1950.0) scale(0.04900)" fill="#000"/>
<path d="M440.7,1871.5 L459,1871.5 C472.3,1871.5 472.3,1888.2 459,1888.2 L450.7,1888.2 M444,1871.5 L444,1905 M450.7,1871.5 L450.7,1905 M440.7,1905 L454.7,1905 M459,1873.5 C467.3,1873.5 467.3,1886.2 459,1886.2 M453.4,1888.2 L464.7,1905 L474,1905 M459,1888.2 L470,1905" fill="none" stroke="#000" stroke-width="1.9" />
<use href="#cmC" transform="translate(476.5,1886.0) scale(0.04900)" fill="#000"/>
<text x="500.1" y="1880" font-family="Liberation Serif" font-size="30" fill="#000" textLength="12.7" lengthAdjust="spacingAndGlyphs" >′</text>
<path d="M650.8,1937 L670,1937 C684,1937 684,1953.5 670,1953.5 L661.3,1953.5 M654.3,1937 L654.3,1970 M661.3,1937 L661.3,1970 M650.8,1970 L665.5,1970 M670,1939 C678.7,1939 678.7,1951.5 670,1951.5 M664.1,1953.5 L675.9,1970 L685.7,1970 M670,1953.5 L681.5,1970" fill="none" stroke="#000" stroke-width="1.9" />
<use href="#cmC" transform="translate(688.8,1950.0) scale(0.04900)" fill="#000"/>
<text x="711.5" y="1950" font-family="Liberation Serif" font-size="34" fill="#000" textLength="31.9" lengthAdjust="spacingAndGlyphs" >×</text>
<text x="743.1" y="1950" font-family="Liberation Serif" font-size="36" fill="#000" textLength="20.2" lengthAdjust="spacingAndGlyphs" >3</text>
<path d="M895.7,1871.5 L914,1871.5 C927.3,1871.5 927.3,1888.2 914,1888.2 L905.7,1888.2 M899,1871.5 L899,1905 M905.7,1871.5 L905.7,1905 M895.7,1905 L909.7,1905 M914,1873.5 C922.3,1873.5 922.3,1886.2 914,1886.2 M908.4,1888.2 L919.7,1905 L929,1905 M914,1888.2 L925,1905" fill="none" stroke="#000" stroke-width="1.9" />
<use href="#cmC" transform="translate(932.0,1886.0) scale(0.04900)" fill="#000"/>
<text x="954.1" y="1880" font-family="Liberation Serif" font-size="30" fill="#000" textLength="12.7" lengthAdjust="spacingAndGlyphs" >′</text>
<text x="964.7" y="1886" font-family="Liberation Serif" font-size="34" fill="#000" textLength="30.5" lengthAdjust="spacingAndGlyphs" >×</text>
<text x="994.1" y="1886" font-family="Liberation Serif" font-size="36" fill="#000" textLength="19.4" lengthAdjust="spacingAndGlyphs" >3</text>
<text x="241.6" y="2044.4" font-family="Liberation Sans" font-size="38" fill="#000" textLength="300.8" lengthAdjust="spacingAndGlyphs" >Classical neurons</text>
<text x="679.6" y="2044.4" font-family="Liberation Sans" font-size="38" fill="#000" textLength="299.4" lengthAdjust="spacingAndGlyphs" >“Vector Neurons”</text>
<rect x="189" y="2216.5" width="121.7" height="226.4" fill="#9EF0C7" stroke="#2A2A45" stroke-width="2" />
<line x1="229.8" y1="2216.5" x2="229.8" y2="2243" stroke="#2A2A45" stroke-width="2" />
<line x1="270" y1="2216.5" x2="270" y2="2243" stroke="#2A2A45" stroke-width="2" />
<rect x="216" y="2242" width="121.7" height="225" fill="#BDC1C6" stroke="#2A2A45" stroke-width="2" />
<line x1="259" y1="2242" x2="259" y2="2467" stroke="#2A2A45" stroke-width="2" />
<line x1="299.5" y1="2242" x2="299.5" y2="2467" stroke="#2A2A45" stroke-width="2" />
<path d="M360.7,2331 L380.1,2331 C394.2,2331 394.2,2347.5 380.1,2347.5 L371.3,2347.5 M364.2,2331 L364.2,2364 M371.3,2331 L371.3,2364 M360.7,2364 L375.5,2364 M380.1,2333 C388.9,2333 388.9,2345.5 380.1,2345.5 M374.1,2347.5 L386.1,2364 L396,2364 M380.1,2347.5 L391.8,2364" fill="none" stroke="#000" stroke-width="1.9" />
<use href="#cmC" transform="translate(399.6,2344.0) scale(0.04900)" fill="#000"/>
<text x="423.5" y="2344" font-family="Liberation Serif" font-size="34" fill="#000" textLength="31.9" lengthAdjust="spacingAndGlyphs" >×</text>
<text x="454.1" y="2344" font-family="Liberation Serif" font-size="36" fill="#000" textLength="19.4" lengthAdjust="spacingAndGlyphs" >3</text>
<line x1="266" y1="2486" x2="266" y2="2556" stroke="#2A2A45" stroke-width="4.6" />
<path d="M255,2553 L277,2553 L266,2583 Z" fill="#2A2A45" stroke="none" stroke-width="1" />
<path d="M302.5,2501 L292.5,2527.5 L302.5,2554 M365,2501 L375,2527.5 L365,2554" fill="none" stroke="#000" stroke-width="2.2" />
<circle cx="314" cy="2528" r="2.6" fill="#000" stroke="none" stroke-width="1" />
<circle cx="354" cy="2528" r="2.6" fill="#000" stroke="none" stroke-width="1" />
<use href="#cmc" transform="translate(326.7,2535.8) scale(0.07000)" fill="#000"/>
<use href="#cmF" transform="translate(385.0,2549.5) scale(0.04750)" fill="#000"/>
<path d="M225.4,2597 L307.2,2597 L307.2,2678.5 Z" fill="#BDC1C6" stroke="none" stroke-width="1" />
<path d="M225.4,2597 L225.4,2678.5 L307.2,2678.5 Z" fill="#9EF0C7" stroke="none" stroke-width="1" />
<path d="M225.4,2597 H307.2 V2678.5 H225.4 Z M225.4,2597 L307.2,2678.5" fill="none" stroke="#2A2A45" stroke-width="2" stroke-linejoin="round"/>
<rect x="772.4" y="2235.5" width="47.8" height="85.8" fill="#9EF0C7" stroke="#2A2A45" stroke-width="2" />
<line x1="788.3" y1="2235.5" x2="788.3" y2="2321.3" stroke="#2A2A45" stroke-width="2" />
<line x1="804.3" y1="2235.5" x2="804.3" y2="2321.3" stroke="#2A2A45" stroke-width="2" />
<rect x="879" y="2235.5" width="47.8" height="85.8" fill="#E5AE6C" stroke="#2A2A45" stroke-width="2" />
<line x1="894.9" y1="2235.5" x2="894.9" y2="2321.3" stroke="#2A2A45" stroke-width="2" />
<line x1="910.9" y1="2235.5" x2="910.9" y2="2321.3" stroke="#2A2A45" stroke-width="2" />
<rect x="980.6" y="2235.5" width="47.8" height="85.8" fill="#7F00FF" stroke="#2A2A45" stroke-width="2" />
<line x1="996.5" y1="2235.5" x2="996.5" y2="2321.3" stroke="#2A2A45" stroke-width="2" />
<line x1="1012.5" y1="2235.5" x2="1012.5" y2="2321.3" stroke="#2A2A45" stroke-width="2" />
<rect x="675.5" y="2353" width="47.3" height="85.6" fill="#9EF0C7" stroke="#2A2A45" stroke-width="2" />
<line x1="691.3" y1="2353" x2="691.3" y2="2438.6" stroke="#2A2A45" stroke-width="2" />
<line x1="707" y1="2353" x2="707" y2="2438.6" stroke="#2A2A45" stroke-width="2" />
<rect x="675.5" y="2472.5" width="47.3" height="85.6" fill="#E5AE6C" stroke="#2A2A45" stroke-width="2" />
<line x1="691.3" y1="2472.5" x2="691.3" y2="2558.1" stroke="#2A2A45" stroke-width="2" />
<line x1="707" y1="2472.5" x2="707" y2="2558.1" stroke="#2A2A45" stroke-width="2" />
<rect x="675.5" y="2592" width="47.3" height="85.6" fill="#7F00FF" stroke="#2A2A45" stroke-width="2" />
<line x1="691.3" y1="2592" x2="691.3" y2="2677.6" stroke="#2A2A45" stroke-width="2" />
<line x1="707" y1="2592" x2="707" y2="2677.6" stroke="#2A2A45" stroke-width="2" />
<path d="M772.4,2371 L820.4,2371 L820.4,2420 Z" fill="#9EF0C7" stroke="none" stroke-width="1" />
<path d="M772.4,2371 L772.4,2420 L820.4,2420 Z" fill="#9EF0C7" stroke="none" stroke-width="1" />
<path d="M772.4,2371 H820.4 V2420 H772.4 Z M772.4,2371 L820.4,2420" fill="none" stroke="#2A2A45" stroke-width="2" stroke-linejoin="round"/>
<path d="M772.4,2491 L820.4,2491 L820.4,2540 Z" fill="#9EF0C7" stroke="none" stroke-width="1" />
<path d="M772.4,2491 L772.4,2540 L820.4,2540 Z" fill="#E5AE6C" stroke="none" stroke-width="1" />
<path d="M772.4,2491 H820.4 V2540 H772.4 Z M772.4,2491 L820.4,2540" fill="none" stroke="#2A2A45" stroke-width="2" stroke-linejoin="round"/>
<path d="M772.4,2610.5 L820.4,2610.5 L820.4,2659.5 Z" fill="#9EF0C7" stroke="none" stroke-width="1" />
<path d="M772.4,2610.5 L772.4,2659.5 L820.4,2659.5 Z" fill="#7F00FF" stroke="none" stroke-width="1" />
<path d="M772.4,2610.5 H820.4 V2659.5 H772.4 Z M772.4,2610.5 L820.4,2659.5" fill="none" stroke="#2A2A45" stroke-width="2" stroke-linejoin="round"/>
<path d="M879,2371 L927,2371 L927,2420 Z" fill="#E5AE6C" stroke="none" stroke-width="1" />
<path d="M879,2371 L879,2420 L927,2420 Z" fill="#9EF0C7" stroke="none" stroke-width="1" />
<path d="M879,2371 H927 V2420 H879 Z M879,2371 L927,2420" fill="none" stroke="#2A2A45" stroke-width="2" stroke-linejoin="round"/>
<path d="M879,2491 L927,2491 L927,2540 Z" fill="#E5AE6C" stroke="none" stroke-width="1" />
<path d="M879,2491 L879,2540 L927,2540 Z" fill="#E5AE6C" stroke="none" stroke-width="1" />
<path d="M879,2491 H927 V2540 H879 Z M879,2491 L927,2540" fill="none" stroke="#2A2A45" stroke-width="2" stroke-linejoin="round"/>
<path d="M879,2610.5 L927,2610.5 L927,2659.5 Z" fill="#E5AE6C" stroke="none" stroke-width="1" />
<path d="M879,2610.5 L879,2659.5 L927,2659.5 Z" fill="#7F00FF" stroke="none" stroke-width="1" />
<path d="M879,2610.5 H927 V2659.5 H879 Z M879,2610.5 L927,2659.5" fill="none" stroke="#2A2A45" stroke-width="2" stroke-linejoin="round"/>
<path d="M980.6,2371 L1028.6,2371 L1028.6,2420 Z" fill="#7F00FF" stroke="none" stroke-width="1" />
<path d="M980.6,2371 L980.6,2420 L1028.6,2420 Z" fill="#9EF0C7" stroke="none" stroke-width="1" />
<path d="M980.6,2371 H1028.6 V2420 H980.6 Z M980.6,2371 L1028.6,2420" fill="none" stroke="#2A2A45" stroke-width="2" stroke-linejoin="round"/>
<path d="M980.6,2491 L1028.6,2491 L1028.6,2540 Z" fill="#7F00FF" stroke="none" stroke-width="1" />
<path d="M980.6,2491 L980.6,2540 L1028.6,2540 Z" fill="#E5AE6C" stroke="none" stroke-width="1" />
<path d="M980.6,2491 H1028.6 V2540 H980.6 Z M980.6,2491 L1028.6,2540" fill="none" stroke="#2A2A45" stroke-width="2" stroke-linejoin="round"/>
<path d="M980.6,2610.5 L1028.6,2610.5 L1028.6,2659.5 Z" fill="#7F00FF" stroke="none" stroke-width="1" />
<path d="M980.6,2610.5 L980.6,2659.5 L1028.6,2659.5 Z" fill="#7F00FF" stroke="none" stroke-width="1" />
<path d="M980.6,2610.5 H1028.6 V2659.5 H980.6 Z M980.6,2610.5 L1028.6,2659.5" fill="none" stroke="#2A2A45" stroke-width="2" stroke-linejoin="round"/>
<text x="1462" y="436.9" font-family="Liberation Sans" font-size="54" fill="#6085EE" font-weight="bold" textLength="421.8" lengthAdjust="spacingAndGlyphs" >VN-Transformer</text>
<text x="1560.3" y="558" font-family="Liberation Sans" font-size="39" fill="#000" textLength="359.4" lengthAdjust="spacingAndGlyphs" ><tspan fill="#85ABF5">Invariant</tspan> class pred.</text>
<text x="2029.6" y="558" font-family="Liberation Sans" font-size="39" fill="#000" textLength="385.4" lengthAdjust="spacingAndGlyphs" ><tspan fill="#87E5A2">Equivariant</tspan> trajectory</text>
<g transform="translate(1560,570) scale(0.13605)" fill="none" stroke="#BBBFC3" stroke-width="9" stroke-linejoin="round">
<path d="M398,105 L512,105 L712,450 L900,452 Q965,455 965,520 Q965,585 900,590 L712,592 L512,935 L398,935 L545,595 L282,578 L193,665 L103,665 L142,520 L103,372 L193,372 L282,463 L545,447 Z"/>
<path d="M1372,410 L1663,262 L2237,318 L1960,470 Z M1372,410 L1372,832 L1430,840 L1430,418 M1430,840 L1468,820 L1468,490 M1430,485 L1900,535 M1900,466 L1900,908 L1960,916 L1960,470 M1960,916 L1998,885 L1998,452 M1998,520 L2195,415 M2143,445 L2143,738 L2195,746 L2195,342 M2195,746 L2237,712 L2237,318 M1663,512 L1663,683 L1702,688 L1702,517 M1702,688 L1745,662 L1745,522"/>
</g>
<rect x="1673.5" y="703.5" width="91" height="24.5" fill="#7FAAF8" stroke="#2A2A45" stroke-width="2" />
<path d="M1987,684 C2010,675 2025,668 2038.7,660.5 C2080,640 2125,624 2162.6,617 C2215,610 2235,672 2285.6,669.3 C2320,665 2370,630 2419.4,611.8 C2430,610 2440,612 2450,615" fill="none" stroke="#87E8A0" stroke-width="2.8" />
<circle cx="2038.7" cy="660.5" r="15" fill="#9DEFC0" stroke="#87E8A0" stroke-width="2" />
<circle cx="2162.6" cy="617" r="15" fill="#9DEFC0" stroke="#87E8A0" stroke-width="2" />
<circle cx="2285.6" cy="669.3" r="15" fill="#9DEFC0" stroke="#87E8A0" stroke-width="2" />
<circle cx="2419.4" cy="611.8" r="15" fill="#9DEFC0" stroke="#87E8A0" stroke-width="2" />
<rect x="1984" y="702.5" width="22.1" height="24.5" fill="#87E8A0" stroke="#2A2A45" stroke-width="1.8" />
<rect x="2006.1" y="702.5" width="22.1" height="24.5" fill="#87E8A0" stroke="#2A2A45" stroke-width="1.8" />
<rect x="2028.2" y="702.5" width="22.1" height="24.5" fill="#87E8A0" stroke="#2A2A45" stroke-width="1.8" />
<rect x="2050.3" y="702.5" width="22.1" height="24.5" fill="#BDC1C6" stroke="#2A2A45" stroke-width="1.8" />
<rect x="2072.4" y="702.5" width="22.1" height="24.5" fill="#BDC1C6" stroke="#2A2A45" stroke-width="1.8" />
<rect x="2107.5" y="702.5" width="22.1" height="24.5" fill="#87E8A0" stroke="#2A2A45" stroke-width="1.8" />
<rect x="2129.6" y="702.5" width="22.1" height="24.5" fill="#87E8A0" stroke="#2A2A45" stroke-width="1.8" />
<rect x="2151.7" y="702.5" width="22.1" height="24.5" fill="#87E8A0" stroke="#2A2A45" stroke-width="1.8" />
<rect x="2173.8" y="702.5" width="22.1" height="24.5" fill="#BDC1C6" stroke="#2A2A45" stroke-width="1.8" />
<rect x="2195.9" y="702.5" width="22.1" height="24.5" fill="#BDC1C6" stroke="#2A2A45" stroke-width="1.8" />
<rect x="2231" y="702.5" width="22.2" height="24.5" fill="#87E8A0" stroke="#2A2A45" stroke-width="1.8" />
<rect x="2253.2" y="702.5" width="22.2" height="24.5" fill="#87E8A0" stroke="#2A2A45" stroke-width="1.8" />
<rect x="2275.3" y="702.5" width="22.2" height="24.5" fill="#87E8A0" stroke="#2A2A45" stroke-width="1.8" />
<rect x="2297.5" y="702.5" width="22.2" height="24.5" fill="#BDC1C6" stroke="#2A2A45" stroke-width="1.8" />
<rect x="2319.6" y="702.5" width="22.2" height="24.5" fill="#BDC1C6" stroke="#2A2A45" stroke-width="1.8" />
<rect x="2354.5" y="702.5" width="22.2" height="24.5" fill="#87E8A0" stroke="#2A2A45" stroke-width="1.8" />
<rect x="2376.7" y="702.5" width="22.2" height="24.5" fill="#87E8A0" stroke="#2A2A45" stroke-width="1.8" />
<rect x="2398.8" y="702.5" width="22.2" height="24.5" fill="#87E8A0" stroke="#2A2A45" stroke-width="1.8" />
<rect x="2421" y="702.5" width="22.2" height="24.5" fill="#BDC1C6" stroke="#2A2A45" stroke-width="1.8" />
<rect x="2443.1" y="702.5" width="22.2" height="24.5" fill="#BDC1C6" stroke="#2A2A45" stroke-width="1.8" />
<line x1="1719.4" y1="792" x2="1719.4" y2="753.5" stroke="#9AA0A6" stroke-width="3.2" />
<path d="M1710.9,760.5 L1719.4,739.5 L1727.9,760.5 Z" fill="#9AA0A6" stroke="none" stroke-width="1" />
<line x1="2224.4" y1="793" x2="2224.4" y2="753.5" stroke="#9AA0A6" stroke-width="3.2" />
<path d="M2215.9,760.5 L2224.4,739.5 L2232.9,760.5 Z" fill="#9AA0A6" stroke="none" stroke-width="1" />
<rect x="1512.2" y="793.1" width="405.7" height="61.2" fill="#fff" stroke="#87E8A0" stroke-width="4.3" rx="9" />
<text x="1613.7" y="837.7" font-family="Liberation Sans" font-size="40" fill="#000" textLength="201.1" lengthAdjust="spacingAndGlyphs" >Pool &amp; MLP</text>
<rect x="1988.5" y="794.5" width="476.1" height="60.7" fill="#fff" stroke="#87E8A0" stroke-width="4.3" rx="9" />
<text x="2151.8" y="838.7" font-family="Liberation Sans" font-size="40" fill="#000" textLength="150" lengthAdjust="spacingAndGlyphs" >VN-MLP</text>
<line x1="1719.4" y1="908" x2="1719.4" y2="872.5" stroke="#9AA0A6" stroke-width="3.2" />
<path d="M1710.9,879.5 L1719.4,858.5 L1727.9,879.5 Z" fill="#9AA0A6" stroke="none" stroke-width="1" />
<line x1="2224.4" y1="908" x2="2224.4" y2="873.5" stroke="#9AA0A6" stroke-width="3.2" />
<path d="M2215.9,880.5 L2224.4,859.5 L2232.9,880.5 Z" fill="#9AA0A6" stroke="none" stroke-width="1" />
<rect x="1515.3" y="914.6" width="22.1" height="86.1" fill="#7FAAF8" stroke="#2A2A45" stroke-width="1.8" />
<rect x="1537.4" y="914.6" width="22.1" height="86.1" fill="#7FAAF8" stroke="#2A2A45" stroke-width="1.8" />
<rect x="1559.5" y="914.6" width="22.1" height="86.1" fill="#7FAAF8" stroke="#2A2A45" stroke-width="1.8" />
<rect x="1581.5" y="914.6" width="22.1" height="86.1" fill="#BDC1C6" stroke="#2A2A45" stroke-width="1.8" />
<rect x="1603.6" y="914.6" width="22.1" height="86.1" fill="#BDC1C6" stroke="#2A2A45" stroke-width="1.8" />
<rect x="1663.6" y="914.6" width="22.1" height="86.1" fill="#7FAAF8" stroke="#2A2A45" stroke-width="1.8" />
<rect x="1685.7" y="914.6" width="22.1" height="86.1" fill="#7FAAF8" stroke="#2A2A45" stroke-width="1.8" />
<rect x="1707.8" y="914.6" width="22.1" height="86.1" fill="#7FAAF8" stroke="#2A2A45" stroke-width="1.8" />
<rect x="1729.8" y="914.6" width="22.1" height="86.1" fill="#BDC1C6" stroke="#2A2A45" stroke-width="1.8" />
<rect x="1751.9" y="914.6" width="22.1" height="86.1" fill="#BDC1C6" stroke="#2A2A45" stroke-width="1.8" />
<rect x="1800.6" y="914.6" width="22.2" height="86.1" fill="#7FAAF8" stroke="#2A2A45" stroke-width="1.8" />
<rect x="1822.8" y="914.6" width="22.2" height="86.1" fill="#7FAAF8" stroke="#2A2A45" stroke-width="1.8" />
<rect x="1845" y="914.6" width="22.2" height="86.1" fill="#7FAAF8" stroke="#2A2A45" stroke-width="1.8" />
<rect x="1867.1" y="914.6" width="22.2" height="86.1" fill="#BDC1C6" stroke="#2A2A45" stroke-width="1.8" />
<rect x="1889.3" y="914.6" width="22.2" height="86.1" fill="#BDC1C6" stroke="#2A2A45" stroke-width="1.8" />
<rect x="1984" y="913.7" width="22.1" height="86.5" fill="#87E8A0" stroke="#2A2A45" stroke-width="1.8" />
<rect x="2006.1" y="913.7" width="22.1" height="86.5" fill="#87E8A0" stroke="#2A2A45" stroke-width="1.8" />
<rect x="2028.2" y="913.7" width="22.1" height="86.5" fill="#87E8A0" stroke="#2A2A45" stroke-width="1.8" />
<rect x="2050.3" y="913.7" width="22.1" height="86.5" fill="#BDC1C6" stroke="#2A2A45" stroke-width="1.8" />
<rect x="2072.4" y="913.7" width="22.1" height="86.5" fill="#BDC1C6" stroke="#2A2A45" stroke-width="1.8" />
<rect x="2107.5" y="913.7" width="22.1" height="86.5" fill="#87E8A0" stroke="#2A2A45" stroke-width="1.8" />
<rect x="2129.6" y="913.7" width="22.1" height="86.5" fill="#87E8A0" stroke="#2A2A45" stroke-width="1.8" />
<rect x="2151.7" y="913.7" width="22.1" height="86.5" fill="#87E8A0" stroke="#2A2A45" stroke-width="1.8" />
<rect x="2173.8" y="913.7" width="22.1" height="86.5" fill="#BDC1C6" stroke="#2A2A45" stroke-width="1.8" />
<rect x="2195.9" y="913.7" width="22.1" height="86.5" fill="#BDC1C6" stroke="#2A2A45" stroke-width="1.8" />
<rect x="2231" y="913.7" width="22.2" height="86.5" fill="#87E8A0" stroke="#2A2A45" stroke-width="1.8" />
<rect x="2253.2" y="913.7" width="22.2" height="86.5" fill="#87E8A0" stroke="#2A2A45" stroke-width="1.8" />
<rect x="2275.3" y="913.7" width="22.2" height="86.5" fill="#87E8A0" stroke="#2A2A45" stroke-width="1.8" />
<rect x="2297.5" y="913.7" width="22.2" height="86.5" fill="#BDC1C6" stroke="#2A2A45" stroke-width="1.8" />
<rect x="2319.6" y="913.7" width="22.2" height="86.5" fill="#BDC1C6" stroke="#2A2A45" stroke-width="1.8" />
<rect x="2354.5" y="913.7" width="22.2" height="86.5" fill="#87E8A0" stroke="#2A2A45" stroke-width="1.8" />
<rect x="2376.7" y="913.7" width="22.2" height="86.5" fill="#87E8A0" stroke="#2A2A45" stroke-width="1.8" />
<rect x="2398.8" y="913.7" width="22.2" height="86.5" fill="#87E8A0" stroke="#2A2A45" stroke-width="1.8" />
<rect x="2421" y="913.7" width="22.2" height="86.5" fill="#BDC1C6" stroke="#2A2A45" stroke-width="1.8" />
<rect x="2443.1" y="913.7" width="22.2" height="86.5" fill="#BDC1C6" stroke="#2A2A45" stroke-width="1.8" />
<line x1="1719.4" y1="1053" x2="1719.4" y2="1017" stroke="#9AA0A6" stroke-width="3.2" />
<path d="M1710.9,1024 L1719.4,1003 L1727.9,1024 Z" fill="#9AA0A6" stroke="none" stroke-width="1" />
<line x1="2224.4" y1="1053" x2="2224.4" y2="1016" stroke="#9AA0A6" stroke-width="3.2" />
<path d="M2215.9,1023 L2224.4,1002 L2232.9,1023 Z" fill="#9AA0A6" stroke="none" stroke-width="1" />
<rect x="1511" y="1054.2" width="404.4" height="61.3" fill="#fff" stroke="#87E8A0" stroke-width="4.3" rx="9" />
<text x="1600.2" y="1099.8" font-family="Liberation Sans" font-size="40" fill="#000" textLength="225.1" lengthAdjust="spacingAndGlyphs" >VN-Invariant</text>
<rect x="1988" y="1054.2" width="476.9" height="61.3" fill="#fff" stroke="#87E8A0" stroke-width="4.3" rx="9" />
<text x="2096.8" y="1099.8" font-family="Liberation Sans" font-size="40" fill="#000" textLength="260.3" lengthAdjust="spacingAndGlyphs" >Weighted Pool</text>
<rect x="1511" y="1125.9" width="404.4" height="113.5" fill="#fff" stroke="#87E8A0" stroke-width="4.3" rx="15" />
<text x="1568.4" y="1173.7" font-family="Liberation Sans" font-size="40" fill="#000" textLength="289.4" lengthAdjust="spacingAndGlyphs" >VN-Transformer</text>
<text x="1635.4" y="1222.4" font-family="Liberation Sans" font-size="40" fill="#000" textLength="152.2" lengthAdjust="spacingAndGlyphs" >Encoder</text>
<rect x="2021.2" y="1125.9" width="398" height="113.5" fill="#fff" stroke="#87E8A0" stroke-width="4.3" rx="15" />
<text x="2075.8" y="1173.7" font-family="Liberation Sans" font-size="40" fill="#000" textLength="289.5" lengthAdjust="spacingAndGlyphs" >VN-Transformer</text>
<text x="2141.9" y="1222.4" font-family="Liberation Sans" font-size="40" fill="#000" textLength="153.3" lengthAdjust="spacingAndGlyphs" >Encoder</text>
<line x1="1719.4" y1="1292" x2="1719.4" y2="1256.5" stroke="#9AA0A6" stroke-width="3.2" />
<path d="M1710.9,1263.5 L1719.4,1242.5 L1727.9,1263.5 Z" fill="#9AA0A6" stroke="none" stroke-width="1" />
<line x1="2224.4" y1="1292" x2="2224.4" y2="1256.5" stroke="#9AA0A6" stroke-width="3.2" />
<path d="M2215.9,1263.5 L2224.4,1242.5 L2232.9,1263.5 Z" fill="#9AA0A6" stroke="none" stroke-width="1" />
<rect x="1515.3" y="1301.9" width="22.1" height="86.1" fill="#87E8A0" stroke="#2A2A45" stroke-width="1.8" />
<rect x="1537.4" y="1301.9" width="22.1" height="86.1" fill="#87E8A0" stroke="#2A2A45" stroke-width="1.8" />
<rect x="1559.5" y="1301.9" width="22.1" height="86.1" fill="#87E8A0" stroke="#2A2A45" stroke-width="1.8" />
<rect x="1581.5" y="1301.9" width="22.1" height="86.1" fill="#BDC1C6" stroke="#2A2A45" stroke-width="1.8" />
<rect x="1603.6" y="1301.9" width="22.1" height="86.1" fill="#BDC1C6" stroke="#2A2A45" stroke-width="1.8" />
<rect x="1663.6" y="1301.9" width="22.1" height="86.1" fill="#87E8A0" stroke="#2A2A45" stroke-width="1.8" />
<rect x="1685.7" y="1301.9" width="22.1" height="86.1" fill="#87E8A0" stroke="#2A2A45" stroke-width="1.8" />
<rect x="1707.8" y="1301.9" width="22.1" height="86.1" fill="#87E8A0" stroke="#2A2A45" stroke-width="1.8" />
<rect x="1729.8" y="1301.9" width="22.1" height="86.1" fill="#BDC1C6" stroke="#2A2A45" stroke-width="1.8" />
<rect x="1751.9" y="1301.9" width="22.1" height="86.1" fill="#BDC1C6" stroke="#2A2A45" stroke-width="1.8" />
<rect x="1800.6" y="1301.9" width="22.2" height="86.1" fill="#87E8A0" stroke="#2A2A45" stroke-width="1.8" />
<rect x="1822.8" y="1301.9" width="22.2" height="86.1" fill="#87E8A0" stroke="#2A2A45" stroke-width="1.8" />
<rect x="1845" y="1301.9" width="22.2" height="86.1" fill="#87E8A0" stroke="#2A2A45" stroke-width="1.8" />
<rect x="1867.1" y="1301.9" width="22.2" height="86.1" fill="#BDC1C6" stroke="#2A2A45" stroke-width="1.8" />
<rect x="1889.3" y="1301.9" width="22.2" height="86.1" fill="#BDC1C6" stroke="#2A2A45" stroke-width="1.8" />
<rect x="2020.4" y="1301.9" width="22.2" height="86.1" fill="#87E8A0" stroke="#2A2A45" stroke-width="1.8" />
<rect x="2042.6" y="1301.9" width="22.2" height="86.1" fill="#87E8A0" stroke="#2A2A45" stroke-width="1.8" />
<rect x="2064.8" y="1301.9" width="22.2" height="86.1" fill="#87E8A0" stroke="#2A2A45" stroke-width="1.8" />
<rect x="2086.9" y="1301.9" width="22.2" height="86.1" fill="#BDC1C6" stroke="#2A2A45" stroke-width="1.8" />
<rect x="2109.1" y="1301.9" width="22.2" height="86.1" fill="#BDC1C6" stroke="#2A2A45" stroke-width="1.8" />
<rect x="2169.2" y="1301.9" width="22.2" height="86.1" fill="#87E8A0" stroke="#2A2A45" stroke-width="1.8" />
<rect x="2191.4" y="1301.9" width="22.2" height="86.1" fill="#87E8A0" stroke="#2A2A45" stroke-width="1.8" />
<rect x="2213.5" y="1301.9" width="22.2" height="86.1" fill="#87E8A0" stroke="#2A2A45" stroke-width="1.8" />
<rect x="2235.7" y="1301.9" width="22.2" height="86.1" fill="#BDC1C6" stroke="#2A2A45" stroke-width="1.8" />
<rect x="2257.8" y="1301.9" width="22.2" height="86.1" fill="#BDC1C6" stroke="#2A2A45" stroke-width="1.8" />
<rect x="2306.2" y="1301.9" width="22.2" height="86.1" fill="#87E8A0" stroke="#2A2A45" stroke-width="1.8" />
<rect x="2328.4" y="1301.9" width="22.2" height="86.1" fill="#87E8A0" stroke="#2A2A45" stroke-width="1.8" />
<rect x="2350.5" y="1301.9" width="22.2" height="86.1" fill="#87E8A0" stroke="#2A2A45" stroke-width="1.8" />
<rect x="2372.7" y="1301.9" width="22.2" height="86.1" fill="#BDC1C6" stroke="#2A2A45" stroke-width="1.8" />
<rect x="2394.8" y="1301.9" width="22.2" height="86.1" fill="#BDC1C6" stroke="#2A2A45" stroke-width="1.8" />
<line x1="1719.4" y1="1449" x2="1719.4" y2="1412.7" stroke="#9AA0A6" stroke-width="3.2" />
<path d="M1710.9,1419.7 L1719.4,1398.7 L1727.9,1419.7 Z" fill="#9AA0A6" stroke="none" stroke-width="1" />
<line x1="2224.4" y1="1449" x2="2224.4" y2="1412.7" stroke="#9AA0A6" stroke-width="3.2" />
<path d="M2215.9,1419.7 L2224.4,1398.7 L2232.9,1419.7 Z" fill="#9AA0A6" stroke="none" stroke-width="1" />
<rect x="1511" y="1450" width="404.4" height="60.7" fill="#fff" stroke="#87E8A0" stroke-width="4.3" rx="9" />
<text x="1639.5" y="1494.6" font-family="Liberation Sans" font-size="40" fill="#000" textLength="149.2" lengthAdjust="spacingAndGlyphs" >VN-MLP</text>
<rect x="2021.2" y="1450" width="394.2" height="60.7" fill="#fff" stroke="#87E8A0" stroke-width="4.3" rx="9" />
<text x="2145.1" y="1494.6" font-family="Liberation Sans" font-size="40" fill="#000" textLength="149.7" lengthAdjust="spacingAndGlyphs" >VN-MLP</text>
<line x1="1719.4" y1="1565" x2="1719.4" y2="1528.7" stroke="#9AA0A6" stroke-width="3.2" />
<path d="M1710.9,1535.7 L1719.4,1514.7 L1727.9,1535.7 Z" fill="#9AA0A6" stroke="none" stroke-width="1" />
<line x1="2224.4" y1="1565" x2="2224.4" y2="1528.7" stroke="#9AA0A6" stroke-width="3.2" />
<path d="M2215.9,1535.7 L2224.4,1514.7 L2232.9,1535.7 Z" fill="#9AA0A6" stroke="none" stroke-width="1" />
<rect x="1515.3" y="1569.9" width="22.1" height="24.8" fill="#87E8A0" stroke="#2A2A45" stroke-width="1.8" />
<rect x="1537.4" y="1569.9" width="22.1" height="24.8" fill="#87E8A0" stroke="#2A2A45" stroke-width="1.8" />
<rect x="1559.5" y="1569.9" width="22.1" height="24.8" fill="#87E8A0" stroke="#2A2A45" stroke-width="1.8" />
<rect x="1581.5" y="1569.9" width="22.1" height="24.8" fill="#BDC1C6" stroke="#2A2A45" stroke-width="1.8" />
<rect x="1603.6" y="1569.9" width="22.1" height="24.8" fill="#BDC1C6" stroke="#2A2A45" stroke-width="1.8" />
<rect x="1663.6" y="1569.9" width="22.1" height="24.8" fill="#87E8A0" stroke="#2A2A45" stroke-width="1.8" />
<rect x="1685.7" y="1569.9" width="22.1" height="24.8" fill="#87E8A0" stroke="#2A2A45" stroke-width="1.8" />
<rect x="1707.8" y="1569.9" width="22.1" height="24.8" fill="#87E8A0" stroke="#2A2A45" stroke-width="1.8" />
<rect x="1729.8" y="1569.9" width="22.1" height="24.8" fill="#BDC1C6" stroke="#2A2A45" stroke-width="1.8" />
<rect x="1751.9" y="1569.9" width="22.1" height="24.8" fill="#BDC1C6" stroke="#2A2A45" stroke-width="1.8" />
<rect x="1800.6" y="1569.9" width="22.2" height="24.8" fill="#87E8A0" stroke="#2A2A45" stroke-width="1.8" />
<rect x="1822.8" y="1569.9" width="22.2" height="24.8" fill="#87E8A0" stroke="#2A2A45" stroke-width="1.8" />
<rect x="1845" y="1569.9" width="22.2" height="24.8" fill="#87E8A0" stroke="#2A2A45" stroke-width="1.8" />
<rect x="1867.1" y="1569.9" width="22.2" height="24.8" fill="#BDC1C6" stroke="#2A2A45" stroke-width="1.8" />
<rect x="1889.3" y="1569.9" width="22.2" height="24.8" fill="#BDC1C6" stroke="#2A2A45" stroke-width="1.8" />
<rect x="2020.4" y="1569.9" width="22.2" height="24.8" fill="#87E8A0" stroke="#2A2A45" stroke-width="1.8" />
<rect x="2042.6" y="1569.9" width="22.2" height="24.8" fill="#87E8A0" stroke="#2A2A45" stroke-width="1.8" />
<rect x="2064.8" y="1569.9" width="22.2" height="24.8" fill="#87E8A0" stroke="#2A2A45" stroke-width="1.8" />
<rect x="2086.9" y="1569.9" width="22.2" height="24.8" fill="#BDC1C6" stroke="#2A2A45" stroke-width="1.8" />
<rect x="2109.1" y="1569.9" width="22.2" height="24.8" fill="#BDC1C6" stroke="#2A2A45" stroke-width="1.8" />
<rect x="2169.2" y="1569.9" width="22.2" height="24.8" fill="#87E8A0" stroke="#2A2A45" stroke-width="1.8" />
<rect x="2191.4" y="1569.9" width="22.2" height="24.8" fill="#87E8A0" stroke="#2A2A45" stroke-width="1.8" />
<rect x="2213.5" y="1569.9" width="22.2" height="24.8" fill="#87E8A0" stroke="#2A2A45" stroke-width="1.8" />
<rect x="2235.7" y="1569.9" width="22.2" height="24.8" fill="#BDC1C6" stroke="#2A2A45" stroke-width="1.8" />
<rect x="2257.8" y="1569.9" width="22.2" height="24.8" fill="#BDC1C6" stroke="#2A2A45" stroke-width="1.8" />
<rect x="2306.2" y="1569.9" width="22.2" height="24.8" fill="#87E8A0" stroke="#2A2A45" stroke-width="1.8" />
<rect x="2328.4" y="1569.9" width="22.2" height="24.8" fill="#87E8A0" stroke="#2A2A45" stroke-width="1.8" />
<rect x="2350.5" y="1569.9" width="22.2" height="24.8" fill="#87E8A0" stroke="#2A2A45" stroke-width="1.8" />
<rect x="2372.7" y="1569.9" width="22.2" height="24.8" fill="#BDC1C6" stroke="#2A2A45" stroke-width="1.8" />
<rect x="2394.8" y="1569.9" width="22.2" height="24.8" fill="#BDC1C6" stroke="#2A2A45" stroke-width="1.8" />
<text x="1560" y="1637.2" font-family="Liberation Sans" font-size="40" fill="#000" textLength="317.7" lengthAdjust="spacingAndGlyphs" >Input point-cloud</text>
<text x="2081.6" y="1637.2" font-family="Liberation Sans" font-size="40" fill="#000" textLength="280.8" lengthAdjust="spacingAndGlyphs" >Input trajectory</text>
<rect x="1758.5" y="1697.5" width="409.5" height="160.5" fill="#fff" stroke="#2A2A45" stroke-width="1.3" rx="21" />
<rect x="1783" y="1712.5" width="25.6" height="25.3" fill="#87E8A0" stroke="#2A2A45" stroke-width="1.2" />
<rect x="1783" y="1764.5" width="25.6" height="25.3" fill="#7FAAF8" stroke="#2A2A45" stroke-width="1.2" />
<rect x="1783" y="1817.3" width="25.6" height="25.3" fill="#BDC1C6" stroke="#2A2A45" stroke-width="1.2" />
<text x="1839.6" y="1737.8" font-family="Liberation Sans" font-size="40" fill="#000" textLength="306" lengthAdjust="spacingAndGlyphs" >SO(3)-Equivariant</text>
<text x="1839.6" y="1790.2" font-family="Liberation Sans" font-size="40" fill="#000" textLength="263" lengthAdjust="spacingAndGlyphs" >SO(3)-Invariant</text>
<text x="1838" y="1842" font-family="Liberation Sans" font-size="40" fill="#000" textLength="203.4" lengthAdjust="spacingAndGlyphs" >Non-spatial</text>
<text x="1461.3" y="2013.3" font-family="Liberation Sans" font-size="54" fill="#6085EE" font-weight="bold" textLength="743" lengthAdjust="spacingAndGlyphs" >ε-Approximate Equivariance</text>
<text x="1463.3" y="2142.8" font-family="Liberation Sans" font-size="40" fill="#000" textLength="949.3" lengthAdjust="spacingAndGlyphs" >A function <tspan font-style="italic">f</tspan> is said to be <tspan font-style="italic">ε</tspan>-approximately equivariant if:</text>
<text x="1460.2" y="2373" font-family="Liberation Sans" font-size="40" fill="#000" textLength="641.8" lengthAdjust="spacingAndGlyphs" >Equivariance violations propagate as:</text>
<path d="M1469,2183.5 L1489.1,2229 L1509.2,2183.5 M1475.6,2198.5 L1502.6,2198.5" fill="none" stroke="#000" stroke-width="2.5" stroke-linejoin="miter" stroke-miterlimit="10"/>
<use href="#cmR" transform="translate(1512.5,2228.0) scale(0.09265)" fill="#000"/>
<use href="#cmc" transform="translate(1564.5,2228.0) scale(0.09265)" fill="#000"/>
<use href="#cmX" transform="translate(1592.0,2228.0) scale(0.09265)" fill="#000"/>
<use href="#cmc" transform="translate(1652.5,2228.0) scale(0.09265)" fill="#000"/>
<line x1="1731" y1="2176.5" x2="1731" y2="2243.5" stroke="#000" stroke-width="2.3" />
<line x1="1751" y1="2176.5" x2="1751" y2="2243.5" stroke="#000" stroke-width="2.3" />
<line x1="2264" y1="2176.5" x2="2264" y2="2243.5" stroke="#000" stroke-width="2.3" />
<line x1="2283.3" y1="2176.5" x2="2283.3" y2="2243.5" stroke="#000" stroke-width="2.3" />
<use href="#cmf" transform="translate(1762.7,2228.0) scale(0.09265)" fill="#000"/>
<use href="#cmlp" transform="translate(1807.0,2228.0) scale(0.09265)" fill="#000"/>
<use href="#cmX" transform="translate(1829.0,2228.0) scale(0.09265)" fill="#000"/>
<use href="#cmR" transform="translate(1891.3,2228.0) scale(0.09265)" fill="#000"/>
<use href="#cmrp" transform="translate(1942.8,2228.0) scale(0.09265)" fill="#000"/>
<line x1="1986.3" y1="2210.6" x2="2028.4" y2="2210.6" stroke="#000" stroke-width="2.3" />
<use href="#cmf" transform="translate(2051.8,2228.0) scale(0.09265)" fill="#000"/>
<use href="#cmlp" transform="translate(2096.2,2228.0) scale(0.09265)" fill="#000"/>
<use href="#cmX" transform="translate(2118.2,2228.0) scale(0.09265)" fill="#000"/>
<use href="#cmrp" transform="translate(2179.0,2228.0) scale(0.09265)" fill="#000"/>
<use href="#cmR" transform="translate(2205.6,2228.0) scale(0.09265)" fill="#000"/>
<use href="#cmF" transform="translate(2296.0,2238.0) scale(0.05650)" fill="#000"/>
<path d="M2399,2186 L2359,2205 L2399,2224 M2358.5,2236 L2399.5,2236" fill="none" stroke="#000" stroke-width="2.3" stroke-linejoin="miter"/>
<use href="#cme" transform="translate(2427.0,2228.0) scale(0.09265)" fill="#000"/>
<line x1="1458.7" y1="2577.7" x2="1516" y2="2577.7" stroke="#2A2A45" stroke-width="2.2" />
<path d="M1511,2572.7 L1526,2577.7 L1511,2582.7 Z" fill="#2A2A45" stroke="none" stroke-width="1" />
<line x1="1640.6" y1="2577.7" x2="1798.5" y2="2577.7" stroke="#2A2A45" stroke-width="2.2" />
<path d="M1793.5,2572.7 L1808.5,2577.7 L1793.5,2582.7 Z" fill="#2A2A45" stroke="none" stroke-width="1" />
<line x1="1923" y1="2577.7" x2="2098" y2="2577.7" stroke="#2A2A45" stroke-width="2.2" />
<path d="M2093,2572.7 L2108,2577.7 L2093,2582.7 Z" fill="#2A2A45" stroke="none" stroke-width="1" />
<line x1="2222.5" y1="2577.7" x2="2484.7" y2="2577.7" stroke="#2A2A45" stroke-width="2.2" />
<path d="M2479.7,2572.7 L2494.7,2577.7 L2479.7,2582.7 Z" fill="#2A2A45" stroke="none" stroke-width="1" />
<rect x="1527" y="2479" width="112.59999999999991" height="198" fill="#fff" stroke="#87E8A0" stroke-width="2" rx="16" />
<use href="#cmf" transform="translate(1549.0,2600.1) scale(0.12870)" fill="#000"/>
<text x="1591.5" y="2613.8" font-family="Liberation Serif" font-size="55" fill="#000" textLength="29.8" lengthAdjust="spacingAndGlyphs" >1</text>
<rect x="1809.5" y="2479" width="112.5" height="198" fill="#fff" stroke="#87E8A0" stroke-width="2" rx="16" />
<use href="#cmf" transform="translate(1831.5,2600.1) scale(0.12870)" fill="#000"/>
<text x="1876.1" y="2613.8" font-family="Liberation Serif" font-size="55" fill="#000" textLength="34.9" lengthAdjust="spacingAndGlyphs" >2</text>
<rect x="2108.9" y="2479" width="112.59999999999991" height="198" fill="#fff" stroke="#87E8A0" stroke-width="2" rx="16" />
<use href="#cmf" transform="translate(2130.9,2600.1) scale(0.12870)" fill="#000"/>
<text x="2175.4" y="2613.8" font-family="Liberation Serif" font-size="55" fill="#000" textLength="33.9" lengthAdjust="spacingAndGlyphs" >3</text>
<line x1="1583.1" y1="2429" x2="1583.1" y2="2468" stroke="#2A2A45" stroke-width="2" />
<path d="M1578.1,2462 L1583.1,2478 L1588.1,2462 Z" fill="#2A2A45" stroke="none" stroke-width="1" />
<use href="#cme" transform="translate(1595.3,2456.0) scale(0.06100)" fill="#000"/>
<text x="1608.7" y="2463" font-family="Liberation Serif" font-size="30" fill="#000" textLength="19.3" lengthAdjust="spacingAndGlyphs" >1</text>
<line x1="1865.2" y1="2429" x2="1865.2" y2="2468" stroke="#2A2A45" stroke-width="2" />
<path d="M1860.2,2462 L1865.2,2478 L1870.2,2462 Z" fill="#2A2A45" stroke="none" stroke-width="1" />
<use href="#cme" transform="translate(1877.4,2456.0) scale(0.06100)" fill="#000"/>
<text x="1892.7" y="2463" font-family="Liberation Serif" font-size="30" fill="#000" textLength="17" lengthAdjust="spacingAndGlyphs" >2</text>
<line x1="2165" y1="2429" x2="2165" y2="2468" stroke="#2A2A45" stroke-width="2" />
<path d="M2160,2462 L2165,2478 L2170,2462 Z" fill="#2A2A45" stroke="none" stroke-width="1" />
<use href="#cme" transform="translate(2177.2,2456.0) scale(0.06100)" fill="#000"/>
<text x="2192.4" y="2463" font-family="Liberation Serif" font-size="30" fill="#000" textLength="16.5" lengthAdjust="spacingAndGlyphs" >3</text>
<use href="#cme" transform="translate(1712.2,2564.6) scale(0.06100)" fill="#000"/>
<text x="1726.5" y="2571.6" font-family="Liberation Serif" font-size="30.0" fill="#000" textLength="15.6" lengthAdjust="spacingAndGlyphs" >1</text>
<use href="#cmL" transform="translate(1936.7,2564.6) scale(0.06050)" fill="#000"/>
<text x="1959.2" y="2571.6" font-family="Liberation Serif" font-size="30.0" fill="#000" textLength="16.8" lengthAdjust="spacingAndGlyphs" >2</text>
<use href="#cme" transform="translate(1980.0,2564.6) scale(0.06100)" fill="#000"/>
<text x="1994.3" y="2571.6" font-family="Liberation Serif" font-size="30.0" fill="#000" textLength="15.6" lengthAdjust="spacingAndGlyphs" >1</text>
<text x="2021" y="2564.6" font-family="Liberation Serif" font-size="44" fill="#000" textLength="33.9" lengthAdjust="spacingAndGlyphs" >+</text>
<use href="#cme" transform="translate(2065.0,2564.6) scale(0.06100)" fill="#000"/>
<text x="2080.5" y="2571.6" font-family="Liberation Serif" font-size="30.0" fill="#000" textLength="16.8" lengthAdjust="spacingAndGlyphs" >2</text>
<use href="#cmL" transform="translate(2240.7,2564.6) scale(0.05225)" fill="#000"/>
<text x="2260.1" y="2570.6454545454544" font-family="Liberation Serif" font-size="25.90909090909091" fill="#000" textLength="14.1" lengthAdjust="spacingAndGlyphs" >3</text>
<text x="2275.5" y="2564.6" font-family="Liberation Serif" font-size="42" fill="#000" textLength="11" lengthAdjust="spacingAndGlyphs" >(</text>
<use href="#cmL" transform="translate(2289.0,2564.6) scale(0.05225)" fill="#000"/>
<text x="2308.4" y="2570.6454545454544" font-family="Liberation Serif" font-size="25.90909090909091" fill="#000" textLength="14.5" lengthAdjust="spacingAndGlyphs" >2</text>
<use href="#cme" transform="translate(2325.0,2564.6) scale(0.05268)" fill="#000"/>
<text x="2337.3" y="2570.6454545454544" font-family="Liberation Serif" font-size="25.90909090909091" fill="#000" textLength="13.5" lengthAdjust="spacingAndGlyphs" >1</text>
<text x="2359.4" y="2564.6" font-family="Liberation Serif" font-size="38" fill="#000" textLength="29.1" lengthAdjust="spacingAndGlyphs" >+</text>
<use href="#cme" transform="translate(2397.0,2564.6) scale(0.05268)" fill="#000"/>
<text x="2410.4" y="2570.6454545454544" font-family="Liberation Serif" font-size="25.90909090909091" fill="#000" textLength="14.5" lengthAdjust="spacingAndGlyphs" >2</text>
<text x="2422.9" y="2564.6" font-family="Liberation Serif" font-size="42" fill="#000" textLength="11" lengthAdjust="spacingAndGlyphs" >)</text>
<text x="2440.4" y="2564.6" font-family="Liberation Serif" font-size="38" fill="#000" textLength="29.1" lengthAdjust="spacingAndGlyphs" >+</text>
<use href="#cme" transform="translate(2478.0,2564.6) scale(0.05268)" fill="#000"/>
<text x="2491.3" y="2570.6454545454544" font-family="Liberation Serif" font-size="25.90909090909091" fill="#000" textLength="14.1" lengthAdjust="spacingAndGlyphs" >3</text>
<text x="2873.8" y="437.4" font-family="Liberation Sans" font-size="54" fill="#6085EE" font-weight="bold" textLength="715.8" lengthAdjust="spacingAndGlyphs" >Experiments – ModelNet40</text>
<text x="2873.7" y="1225.7" font-family="Liberation Sans" font-size="54" fill="#6085EE" font-weight="bold" textLength="1151.4" lengthAdjust="spacingAndGlyphs" >Experiments – Waymo Open Motion Dataset</text>
<rect x="3385.5" y="562.9" width="697.0" height="64.10000000000002" fill="#BDC1C6" stroke="none" stroke-width="1" />
<line x1="3385.5" y1="562.9" x2="4082.5" y2="562.9" stroke="#9A9A9A" stroke-width="1.6" />
<line x1="3385.5" y1="627" x2="4082.5" y2="627" stroke="#9A9A9A" stroke-width="1.6" />
<line x1="3385.5" y1="691.1" x2="4082.5" y2="691.1" stroke="#9A9A9A" stroke-width="1.6" />
<line x1="3385.5" y1="755.3" x2="4082.5" y2="755.3" stroke="#9A9A9A" stroke-width="1.6" />
<line x1="3385.5" y1="819.4" x2="4082.5" y2="819.4" stroke="#9A9A9A" stroke-width="1.6" />
<line x1="3385.5" y1="883.5" x2="4082.5" y2="883.5" stroke="#9A9A9A" stroke-width="1.6" />
<line x1="3385.5" y1="947.6" x2="4082.5" y2="947.6" stroke="#9A9A9A" stroke-width="1.6" />
<line x1="3385.5" y1="562.9" x2="3385.5" y2="947.6" stroke="#9A9A9A" stroke-width="1.6" />
<line x1="3797.3" y1="562.9" x2="3797.3" y2="947.6" stroke="#9A9A9A" stroke-width="1.6" />
<line x1="3931.1" y1="562.9" x2="3931.1" y2="947.6" stroke="#9A9A9A" stroke-width="1.6" />
<line x1="4082.5" y1="562.9" x2="4082.5" y2="947.6" stroke="#9A9A9A" stroke-width="1.6" />
<text x="3395.3" y="600.5" font-family="Liberation Sans" font-size="30" fill="#000" font-weight="bold" textLength="83.5" lengthAdjust="spacingAndGlyphs" >Model</text>
<text x="3807.7" y="600.5" font-family="Liberation Sans" font-size="30" fill="#000" font-weight="bold" textLength="99.3" lengthAdjust="spacingAndGlyphs" >Acc (%)</text>
<text x="3942.2" y="600.5" font-family="Liberation Sans" font-size="30" fill="#000" font-weight="bold" textLength="120.4" lengthAdjust="spacingAndGlyphs" ># Params</text>
<text x="3396.6" y="664.6" font-family="Liberation Sans" font-size="30" fill="#000" textLength="302.8" lengthAdjust="spacingAndGlyphs" >TFN (Thomas et al., 2018)</text>
<text x="3826.6" y="664.6" font-family="Liberation Sans" font-size="30" fill="#000" textLength="74.5" lengthAdjust="spacingAndGlyphs" >88.5%</text>
<text x="4056" y="664.6" font-family="Liberation Sans" font-size="30" fill="#000" textLength="14.4" lengthAdjust="spacingAndGlyphs" >–</text>
<text x="3395.8" y="729.3" font-family="Liberation Sans" font-size="30" fill="#000" textLength="359" lengthAdjust="spacingAndGlyphs" >GC-Conv (Zhang et al., 2020)</text>
<text x="3826" y="729.3" font-family="Liberation Sans" font-size="30" fill="#000" textLength="75.6" lengthAdjust="spacingAndGlyphs" >89.0%</text>
<text x="3994.1" y="729.3" font-family="Liberation Sans" font-size="30" fill="#000" textLength="79.3" lengthAdjust="spacingAndGlyphs" >0.39M</text>
<text x="3397.1" y="793.4" font-family="Liberation Sans" font-size="30" fill="#000" textLength="375.4" lengthAdjust="spacingAndGlyphs" >VN-PointNet (Deng et al., 2021)</text>
<text x="3828.1" y="793.4" font-family="Liberation Sans" font-size="30" fill="#000" textLength="70.2" lengthAdjust="spacingAndGlyphs" >77.2%</text>
<text x="3994.4" y="793.4" font-family="Liberation Sans" font-size="30" fill="#000" textLength="79" lengthAdjust="spacingAndGlyphs" >2.20M</text>
<text x="3397.1" y="857.5" font-family="Liberation Sans" font-size="30" fill="#000" textLength="369.3" lengthAdjust="spacingAndGlyphs" >VN-DGCNN (Deng et al., 2021)</text>
<text x="3824.2" y="857.5" font-family="Liberation Sans" font-size="30" fill="#000" textLength="79.1" lengthAdjust="spacingAndGlyphs" >90.0%</text>
<text x="3990.9" y="857.5" font-family="Liberation Sans" font-size="30" fill="#000" textLength="82.5" lengthAdjust="spacingAndGlyphs" >2.00M</text>
<text x="3397.1" y="921" font-family="Liberation Sans" font-size="30" fill="#000" textLength="274.8" lengthAdjust="spacingAndGlyphs" >VN-Transformer (ours)</text>
<text x="3825.3" y="921" font-family="Liberation Sans" font-size="30" fill="#000" textLength="77.5" lengthAdjust="spacingAndGlyphs" >90.8%</text>
<text x="3990.1" y="921" font-family="Liberation Sans" font-size="30" fill="#000" textLength="83.3" lengthAdjust="spacingAndGlyphs" >0.04M</text>
<g transform="translate(2860,540) scale(0.28062)">
<polygon points="57,162 232,40 232,268 68,380" fill="#F8F8F8"/>
<polygon points="232,40 513,112 500,318 232,268" fill="#F0F0F0"/>
<polygon points="68,380 232,268 500,318 350,472" fill="#F4F4F4"/>
<polyline points="68,380 350,472 500,318 513,112" fill="none" stroke="#D9D9D9" stroke-width="3.5"/>
<polyline points="57,162 232,40 513,112" fill="none" stroke="#EFEFEF" stroke-width="2"/>
<path d="M380,254h0M259,327h0M331,195h0M318,201h0M262,167h0M292,191h0M273,335h0M376,162h0M353,212h0M250,182h0M282,183h0M281,239h0M396,182h0M338,138h0M277,291h0M281,140h0M340,169h0M223,335h0M213,362h0M256,218h0M324,192h0M451,240h0M329,139h0M307,236h0M385,185h0M281,224h0M447,218h0M243,358h0M256,361h0M304,299h0M272,342h0M405,155h0M286,165h0M289,192h0M335,198h0M242,359h0M381,171h0M312,226h0M405,236h0M229,363h0M258,335h0M272,220h0M342,223h0M260,198h0M413,171h0M453,200h0M435,220h0M267,370h0M377,185h0M286,318h0M391,200h0M295,227h0M314,136h0M208,159h0M247,329h0M331,136h0M331,171h0M208,168h0M342,144h0M248,324h0M214,187h0M422,192h0M261,360h0M312,278h0M288,141h0M421,168h0M333,160h0M155,194h0M262,356h0M211,206h0M292,217h0M216,350h0M232,355h0M401,195h0M353,162h0M336,187h0M318,206h0M274,348h0M334,232h0M366,205h0M219,233h0M286,241h0M320,199h0M299,322h0M325,252h0M241,345h0M278,224h0M327,183h0M159,200h0M266,195h0M343,146h0M299,160h0M401,211h0M218,223h0M251,323h0M273,178h0M373,220h0M256,187h0M302,115h0M287,189h0M238,227h0M325,175h0M296,187h0M210,363h0M445,211h0M345,142h0M317,258h0M298,190h0M201,223h0M263,357h0M350,163h0M251,234h0M159,215h0M361,170h0M257,357h0M271,179h0M254,297h0M256,290h0M238,370h0M269,343h0M245,349h0M260,283h0M364,257h0M384,110h0M327,248h0M301,233h0M357,150h0M312,201h0M352,206h0M291,294h0M333,166h0M277,343h0M291,165h0M444,216h0M221,372h0M327,190h0M408,245h0M247,345h0M210,353h0M328,123h0M379,235h0M164,184h0M303,158h0M276,340h0M277,189h0M276,336h0M332,215h0M267,203h0M224,227h0M256,345h0M226,170h0M214,347h0M391,214h0M250,317h0M263,179h0M218,177h0M313,211h0M207,162h0M389,202h0M286,201h0M247,342h0M342,157h0M280,313h0M372,140h0M272,162h0M368,207h0M228,342h0M337,169h0M382,156h0M399,214h0M231,373h0M276,295h0M290,324h0M342,192h0M326,173h0M326,118h0M270,175h0M344,148h0M282,357h0M397,187h0M396,158h0M246,357h0M397,171h0M313,134h0M250,366h0M264,169h0M308,163h0M311,257h0M306,211h0M313,197h0M215,343h0M284,315h0M310,147h0M291,345h0M372,193h0M317,150h0M260,352h0M293,253h0M236,216h0M187,217h0M305,184h0M369,162h0M322,228h0M291,244h0M284,278h0M330,142h0M265,238h0M297,295h0M226,344h0M250,377h0M367,246h0M307,240h0M309,267h0M400,185h0M386,108h0M433,188h0M276,140h0M306,267h0M404,158h0M262,295h0M315,137h0M300,287h0M291,165h0M302,161h0M370,212h0M266,348h0M261,300h0M303,135h0M230,184h0M424,238h0M234,358h0M250,314h0M310,137h0M364,234h0M238,149h0M252,197h0M369,157h0M293,135h0M328,167h0M258,340h0M253,357h0M334,121h0M344,185h0M204,197h0M258,362h0M281,224h0M363,179h0M222,171h0M336,122h0M265,269h0M370,166h0M314,132h0M297,126h0M291,260h0M283,204h0M266,219h0M282,338h0M375,211h0M241,327h0M232,336h0M346,120h0M295,329h0M322,248h0M171,185h0M373,224h0M342,161h0M264,344h0M343,124h0M373,172h0M217,357h0M196,182h0M320,163h0M356,254h0M452,239h0M325,239h0M404,220h0M377,114h0M259,362h0M296,303h0M299,268h0M274,224h0M224,350h0M298,249h0M279,354h0M207,184h0M295,203h0M395,203h0M311,172h0M332,148h0M286,276h0M226,370h0M304,135h0M392,237h0M233,209h0M272,176h0M286,234h0M272,170h0M417,200h0M336,136h0M383,231h0M265,351h0M233,202h0M359,119h0M357,230h0M263,159h0M319,140h0M280,191h0M279,293h0M331,196h0M287,241h0M285,190h0M262,193h0M322,162h0M305,300h0M255,334h0M226,376h0M278,281h0M408,178h0M308,213h0M324,195h0M249,184h0" stroke="#4A82BE" stroke-width="5.8" stroke-linecap="round" fill="none" opacity="0.6"/>
<path d="M283,244h0M294,164h0M311,233h0M244,322h0M207,191h0M285,237h0M287,246h0M220,231h0M294,260h0M248,376h0M214,215h0M251,311h0M416,210h0M291,231h0M229,331h0M237,151h0M325,173h0M319,236h0M318,121h0M247,172h0M300,174h0M451,212h0M201,194h0M393,186h0M184,181h0M306,176h0M390,152h0M443,209h0M256,297h0M208,165h0M287,220h0M325,252h0M328,224h0M328,168h0M324,238h0M323,146h0M366,244h0M311,236h0M321,149h0M184,183h0M203,220h0M350,138h0M372,226h0M285,348h0M243,176h0M268,210h0M233,339h0M224,196h0M284,331h0M237,204h0M321,200h0M225,207h0M326,203h0M261,366h0M284,193h0M281,294h0M317,140h0M263,176h0M317,147h0M293,231h0M440,187h0M241,380h0M241,177h0M318,134h0M256,344h0M307,134h0M306,244h0M375,174h0M335,168h0M263,331h0M256,193h0M245,357h0M273,182h0M373,175h0M280,150h0M425,240h0M267,143h0M235,187h0M348,135h0M312,242h0M283,364h0M245,183h0M273,276h0M297,255h0M219,208h0M251,335h0M213,193h0M251,164h0M340,123h0M399,180h0M407,206h0M270,272h0M319,171h0M216,176h0M266,330h0M256,353h0M314,162h0M355,176h0M311,185h0M190,203h0M241,354h0M314,277h0M264,334h0M386,228h0M307,139h0M220,171h0M359,226h0M417,162h0M284,231h0M286,353h0M431,189h0M427,204h0M385,229h0M273,302h0M245,339h0M334,226h0M284,191h0M330,187h0M316,119h0M320,149h0M406,250h0M258,326h0M247,204h0M313,147h0M251,349h0M304,154h0M285,219h0M349,121h0M334,134h0M297,252h0M297,197h0M355,247h0M296,158h0M327,183h0M308,200h0M327,123h0M233,357h0M275,333h0M311,234h0M317,171h0M440,206h0M315,183h0M270,339h0M431,176h0M346,140h0M331,193h0M208,204h0M303,203h0M368,165h0M355,259h0M370,243h0M326,153h0M386,159h0M404,213h0M261,339h0M242,354h0M353,172h0M269,140h0M230,157h0M341,119h0M276,182h0M451,237h0M287,213h0M382,163h0M386,241h0M282,241h0M169,197h0M289,160h0M261,331h0M267,300h0M384,108h0M353,207h0M389,154h0M275,194h0M261,228h0M178,221h0M311,166h0M299,271h0M447,221h0M431,185h0M323,166h0M257,224h0M284,303h0M379,243h0M361,200h0M313,200h0M171,185h0M438,179h0M284,263h0M266,368h0M278,274h0M323,235h0M447,207h0M299,276h0M290,198h0M274,329h0M258,331h0M366,233h0M246,370h0M238,226h0M251,357h0M267,153h0M337,162h0M424,206h0M361,206h0M323,137h0M422,210h0M246,197h0M171,192h0M286,215h0M343,157h0M282,180h0M248,314h0M198,209h0M290,325h0M278,248h0M265,266h0M230,366h0M268,235h0M332,187h0M262,219h0M251,344h0M271,257h0M295,186h0M405,218h0M243,328h0M293,177h0M299,174h0M355,237h0M228,179h0M289,277h0M250,165h0M377,251h0M178,216h0M264,329h0M296,231h0M262,151h0M284,358h0M292,277h0M298,205h0M284,278h0M254,334h0M370,148h0M375,114h0M393,162h0M336,146h0M336,155h0M262,349h0M222,349h0M340,230h0M232,238h0M264,367h0M227,364h0M280,368h0M231,361h0M233,337h0M330,166h0M318,148h0M318,187h0M197,172h0M217,193h0M351,264h0M264,370h0M220,334h0M272,244h0M347,214h0M317,167h0M298,193h0M296,153h0M263,344h0M238,352h0M222,164h0M306,166h0M217,219h0M310,268h0M204,164h0M262,223h0M238,362h0M371,143h0M410,241h0M333,139h0M330,253h0M234,334h0M256,287h0M351,121h0M278,252h0M195,226h0M407,210h0M246,190h0M190,190h0M219,348h0M373,252h0M251,204h0M322,217h0M308,217h0M293,323h0M232,220h0M157,197h0M291,257h0M247,187h0M312,162h0M236,345h0M341,157h0M298,119h0M341,201h0M264,146h0M320,215h0M412,239h0M273,253h0M315,241h0M325,123h0M318,207h0M273,269h0M251,336h0M300,211h0M218,372h0M281,165h0M250,363h0M170,182h0M283,194h0M416,161h0" stroke="#4A82BE" stroke-width="5.8" stroke-linecap="round" fill="none" opacity="0.6"/>
<polygon points="572,162 747,40 747,268 583,380" fill="#F8F8F8"/>
<polygon points="747,40 1028,112 1015,318 747,268" fill="#F0F0F0"/>
<polygon points="583,380 747,268 1015,318 865,472" fill="#F4F4F4"/>
<polyline points="583,380 865,472 1015,318 1028,112" fill="none" stroke="#D9D9D9" stroke-width="3.5"/>
<polyline points="572,162 747,40 1028,112" fill="none" stroke="#EFEFEF" stroke-width="2"/>
<path d="M845,273h0M885,302h0M798,307h0M758,305h0M796,357h0M768,271h0M758,246h0M777,252h0M668,272h0M834,280h0M760,301h0M827,313h0M749,239h0M774,352h0M732,261h0M737,242h0M918,248h0M652,256h0M717,329h0M725,299h0M901,303h0M787,361h0M759,261h0M708,326h0M755,271h0M805,273h0M900,257h0M741,258h0M813,251h0M794,280h0M749,263h0M773,272h0M786,209h0M749,234h0M774,353h0M915,323h0M871,281h0M771,221h0M735,321h0M802,254h0M898,259h0M902,303h0M767,336h0M873,288h0M845,277h0M828,258h0M640,280h0M711,252h0M716,282h0M691,269h0M769,327h0M682,261h0M706,293h0M792,275h0M829,298h0M913,252h0M939,257h0M919,267h0M979,232h0M911,268h0M791,277h0M800,266h0M900,306h0M950,241h0M741,287h0M823,270h0M777,354h0M702,299h0M706,289h0M782,221h0M931,250h0M788,190h0M749,290h0M771,296h0M737,280h0M964,242h0M808,297h0M733,240h0M771,257h0M692,237h0M785,260h0M816,316h0M896,292h0M854,303h0M700,254h0M737,262h0M847,275h0M661,242h0M760,236h0M776,210h0M949,232h0M830,292h0M784,206h0M651,253h0M844,306h0M694,293h0M788,250h0M814,270h0M990,227h0M787,252h0M786,352h0M896,298h0M749,293h0M819,274h0M749,239h0M747,236h0M796,281h0M800,287h0M902,304h0M936,251h0M638,285h0M867,292h0M721,273h0M785,278h0M712,328h0M776,328h0M891,266h0M697,258h0M683,286h0M787,295h0M777,303h0M806,248h0M933,241h0M742,283h0M753,236h0M713,259h0M764,234h0M703,281h0M908,319h0M760,228h0M748,269h0M833,282h0M692,239h0M950,252h0M751,298h0M635,274h0M900,306h0M711,305h0M912,263h0M778,279h0M817,299h0M713,233h0M907,306h0M728,276h0M790,181h0M716,296h0M727,267h0M787,345h0M765,290h0M786,312h0M774,246h0M783,270h0M719,316h0M677,286h0M707,274h0M897,271h0M926,268h0M865,275h0M886,280h0M820,268h0M705,240h0M792,282h0M761,329h0M731,268h0M819,271h0M681,241h0M909,268h0M892,297h0M838,265h0M846,294h0M726,316h0M699,255h0M664,271h0M649,276h0M705,318h0M845,286h0M809,307h0M702,275h0M899,299h0M699,232h0M756,259h0M727,326h0M831,257h0M691,266h0M731,282h0M786,200h0M792,188h0M711,290h0M782,342h0M714,297h0M945,244h0M742,312h0M745,296h0M768,279h0M709,323h0M676,260h0M791,290h0M710,279h0M636,273h0M706,255h0M909,319h0M838,278h0M780,220h0M692,232h0M719,271h0M732,293h0M723,299h0M907,315h0M975,227h0M797,182h0M814,311h0M781,311h0M679,243h0M796,270h0M730,298h0M733,322h0M775,212h0M799,308h0M959,251h0M763,250h0M768,325h0M762,220h0M769,266h0M822,266h0M664,256h0M667,238h0M792,365h0M760,227h0M726,279h0M880,303h0M705,280h0M760,246h0M774,261h0M709,289h0M748,239h0M948,254h0M802,185h0M709,304h0M870,306h0M733,293h0M813,260h0M792,314h0M691,300h0M781,196h0M737,316h0M919,273h0M780,336h0M710,303h0M787,346h0M728,254h0M775,206h0M792,281h0M700,272h0M743,241h0M836,300h0M682,290h0M887,265h0M771,263h0M893,262h0M713,325h0M818,262h0M755,241h0M782,312h0M781,192h0M955,246h0M734,308h0M664,258h0M663,240h0M901,307h0M730,286h0M906,272h0M668,256h0M824,300h0M700,300h0M723,291h0M779,281h0M805,312h0M686,281h0M845,308h0M879,289h0M738,281h0M717,254h0M768,317h0M801,269h0M764,222h0M782,340h0M787,189h0M750,237h0M787,348h0M775,276h0M682,250h0M784,312h0M761,317h0M839,281h0M777,208h0M823,269h0M764,327h0M718,261h0M864,304h0M667,240h0M689,232h0M812,266h0M803,270h0M978,220h0M859,286h0M748,302h0M828,289h0M818,269h0M854,304h0" stroke="#4A82BE" stroke-width="5.8" stroke-linecap="round" fill="none" opacity="0.6"/>
<path d="M770,256h0M816,284h0M795,290h0M652,278h0M677,284h0M645,284h0M845,298h0M734,292h0M717,273h0M745,254h0M789,182h0M773,237h0M751,301h0M820,275h0M833,270h0M716,314h0M838,276h0M752,314h0M706,279h0M679,294h0M638,275h0M664,246h0M799,189h0M709,247h0M767,309h0M785,256h0M940,234h0M716,266h0M767,287h0M746,260h0M705,319h0M800,295h0M886,283h0M761,234h0M785,340h0M652,264h0M780,265h0M911,255h0M872,296h0M912,321h0M819,290h0M754,232h0M674,276h0M883,270h0M677,281h0M863,297h0M767,247h0M739,278h0M744,264h0M653,253h0M724,268h0M671,264h0M669,289h0M742,270h0M665,276h0M685,288h0M731,239h0M700,291h0M745,300h0M760,284h0M761,261h0M740,287h0M981,233h0M780,204h0M949,251h0M759,323h0M948,248h0M691,269h0M779,259h0M847,267h0M790,272h0M649,288h0M783,353h0M744,235h0M788,285h0M889,293h0M745,277h0M751,324h0M758,257h0M764,272h0M672,257h0M884,286h0M856,290h0M737,298h0M913,326h0M675,259h0M885,304h0M898,258h0M755,228h0M723,260h0M769,342h0M632,273h0M833,278h0M803,263h0M752,237h0M750,296h0M780,309h0M762,286h0M797,283h0M781,361h0M755,230h0M821,259h0M774,246h0M746,237h0M790,244h0M692,284h0M884,295h0M799,262h0M802,363h0M754,235h0M693,262h0M752,308h0M774,259h0M762,244h0M866,297h0M731,267h0M794,305h0M792,200h0M656,273h0M733,287h0M758,246h0M759,239h0M843,268h0M786,313h0M658,290h0M755,277h0M744,265h0M929,267h0M739,256h0M828,313h0M656,262h0M831,261h0M644,266h0M810,310h0M763,250h0M686,277h0M770,345h0M722,243h0M679,270h0M695,280h0M698,249h0M801,360h0M717,319h0M821,317h0M766,310h0M637,273h0M726,234h0M672,264h0M687,260h0M688,285h0M856,287h0M685,249h0M703,294h0M980,233h0M734,255h0M770,257h0M719,296h0M824,296h0M788,364h0M678,261h0M763,279h0M754,257h0M765,250h0M835,263h0M696,271h0M732,257h0M863,298h0M797,277h0M856,299h0M707,286h0M747,301h0M650,270h0M710,300h0M781,357h0M749,287h0M793,351h0M715,246h0M869,293h0M883,281h0M918,330h0M689,262h0M804,253h0M768,260h0M792,373h0M718,301h0M785,367h0M976,228h0M736,250h0M926,250h0M787,213h0M798,249h0M780,217h0M769,321h0M726,291h0M786,340h0M867,303h0M812,291h0M711,316h0M813,283h0M754,312h0M796,194h0M689,291h0M784,277h0M775,273h0M860,271h0M763,281h0M680,254h0M892,296h0M786,283h0M930,249h0M987,231h0M852,293h0M724,292h0M981,210h0M847,284h0M806,304h0M794,193h0M888,286h0M670,292h0M740,288h0M754,311h0M777,271h0M983,226h0M671,285h0M890,304h0M761,328h0M783,310h0M696,287h0M717,328h0M857,300h0M777,337h0M706,261h0M875,289h0M783,219h0M770,325h0M834,272h0M657,259h0M727,296h0M699,245h0M812,278h0M797,309h0M786,366h0M740,307h0M860,270h0M756,282h0M863,285h0M910,315h0M948,242h0M715,304h0M866,303h0M703,273h0M853,305h0M785,240h0M889,297h0M830,277h0M870,293h0M897,274h0M695,269h0M673,278h0M700,301h0M777,276h0M666,279h0M765,236h0M754,233h0M737,304h0M795,376h0M710,245h0M728,261h0M809,301h0M713,274h0M729,247h0M697,300h0M724,257h0M693,297h0M667,267h0M718,312h0M652,251h0M904,268h0M895,287h0M753,268h0M722,254h0M763,237h0M815,270h0M762,326h0M792,295h0M831,266h0M745,243h0M689,266h0M736,261h0M904,303h0M839,286h0M760,257h0M768,267h0M891,282h0M817,290h0M749,284h0M735,236h0M759,316h0M913,328h0M809,288h0M817,312h0M901,279h0M809,249h0M916,270h0M780,357h0M772,280h0M741,305h0M648,281h0M732,256h0" stroke="#4A82BE" stroke-width="5.8" stroke-linecap="round" fill="none" opacity="0.6"/>
<polygon points="1087,162 1262,40 1262,268 1098,380" fill="#F8F8F8"/>
<polygon points="1262,40 1543,112 1530,318 1262,268" fill="#F0F0F0"/>
<polygon points="1098,380 1262,268 1530,318 1380,472" fill="#F4F4F4"/>
<polyline points="1098,380 1380,472 1530,318 1543,112" fill="none" stroke="#D9D9D9" stroke-width="3.5"/>
<polyline points="1087,162 1262,40 1543,112" fill="none" stroke="#EFEFEF" stroke-width="2"/>
<path d="M1381,283h0M1359,298h0M1273,271h0M1320,173h0M1305,303h0M1257,354h0M1336,200h0M1179,212h0M1167,203h0M1170,208h0M1284,269h0M1214,255h0M1314,304h0M1328,282h0M1283,239h0M1311,300h0M1252,282h0M1291,230h0M1328,279h0M1261,309h0M1165,220h0M1385,281h0M1180,220h0M1335,149h0M1277,294h0M1292,325h0M1353,108h0M1290,221h0M1406,120h0M1288,255h0M1244,284h0M1376,115h0M1324,244h0M1294,212h0M1296,307h0M1336,196h0M1369,296h0M1325,235h0M1269,263h0M1323,182h0M1278,301h0M1402,284h0M1270,310h0M1265,299h0M1261,290h0M1310,333h0M1299,284h0M1316,318h0M1305,298h0M1366,123h0M1290,243h0M1236,260h0M1171,221h0M1326,271h0M1216,257h0M1262,349h0M1259,285h0M1287,320h0M1336,102h0M1328,197h0M1285,314h0M1278,268h0M1276,365h0M1162,214h0M1280,283h0M1372,289h0M1311,187h0M1199,245h0M1302,282h0M1324,220h0M1291,282h0M1342,105h0M1349,290h0M1377,117h0M1287,231h0M1196,239h0M1323,96h0M1309,284h0M1331,220h0M1271,260h0M1307,258h0M1276,275h0M1301,215h0M1380,112h0M1281,368h0M1297,346h0M1331,274h0M1321,301h0M1292,259h0M1348,98h0M1305,293h0M1345,154h0M1287,223h0M1206,247h0M1334,259h0M1369,105h0M1319,314h0M1181,229h0M1301,281h0M1332,104h0M1385,110h0M1317,243h0M1336,242h0M1281,238h0M1322,263h0M1328,260h0M1295,229h0M1300,350h0M1311,328h0M1303,296h0M1299,227h0M1281,353h0M1265,285h0M1332,178h0M1203,244h0M1297,259h0M1335,187h0M1260,305h0M1388,107h0M1178,224h0M1294,212h0M1318,297h0M1325,276h0M1336,172h0M1387,280h0M1302,287h0M1320,202h0M1311,198h0M1287,372h0M1311,226h0M1273,307h0M1309,241h0M1266,367h0M1312,259h0M1302,291h0M1330,194h0M1215,255h0M1306,299h0M1274,244h0M1281,315h0M1302,287h0M1276,258h0M1305,338h0M1298,344h0M1306,245h0M1401,286h0M1386,109h0M1289,267h0M1266,319h0M1279,266h0M1286,249h0M1305,290h0M1328,209h0M1313,298h0M1356,111h0M1354,287h0M1308,331h0M1312,175h0M1308,269h0M1330,287h0M1312,246h0M1325,278h0M1322,184h0M1316,201h0M1305,203h0M1300,344h0M1301,288h0M1325,227h0M1365,123h0M1387,290h0M1319,290h0M1306,273h0M1269,365h0M1294,217h0M1365,102h0M1287,244h0M1325,197h0M1287,354h0M1364,287h0M1307,230h0M1380,116h0M1198,234h0M1274,352h0M1285,366h0M1314,263h0M1292,279h0M1261,330h0M1298,233h0M1276,357h0M1317,268h0M1326,283h0M1295,292h0M1203,239h0M1389,284h0M1377,108h0M1211,252h0M1257,327h0M1377,295h0M1298,209h0M1184,225h0M1359,105h0M1341,158h0M1325,221h0M1375,293h0M1301,266h0M1236,260h0M1315,300h0M1325,256h0M1342,295h0M1299,299h0M1312,245h0M1293,217h0M1321,174h0M1174,210h0M1276,256h0M1303,287h0M1299,192h0M1273,329h0M1289,283h0M1298,253h0M1325,255h0M1371,107h0M1275,347h0M1308,293h0M1408,126h0M1330,207h0M1275,272h0M1297,306h0M1197,239h0M1279,294h0M1386,285h0M1391,295h0M1288,294h0M1310,195h0M1301,258h0M1306,257h0M1267,359h0M1383,283h0M1275,307h0M1272,379h0M1281,282h0M1397,291h0M1381,111h0M1306,288h0M1310,227h0M1295,233h0M1305,208h0M1419,118h0M1328,232h0M1342,98h0M1302,247h0M1344,144h0M1284,313h0M1389,123h0M1276,296h0M1308,292h0M1413,129h0M1318,292h0M1275,346h0M1265,367h0M1295,293h0M1272,283h0M1305,272h0M1392,115h0M1280,341h0M1303,337h0M1331,107h0M1277,339h0M1307,301h0M1342,160h0M1388,282h0M1292,349h0M1347,105h0M1293,343h0M1292,331h0M1322,272h0M1370,103h0M1313,230h0M1324,289h0M1217,250h0M1275,295h0M1289,329h0M1193,231h0M1295,350h0M1268,290h0M1164,210h0M1268,280h0M1325,225h0M1400,289h0M1161,217h0M1316,238h0M1340,101h0M1189,240h0M1332,292h0M1418,126h0M1350,138h0M1329,252h0M1316,193h0M1265,352h0M1308,298h0M1297,258h0M1282,219h0M1327,101h0M1265,307h0M1292,348h0M1377,113h0M1301,294h0M1302,188h0M1310,180h0M1352,110h0M1307,224h0M1260,364h0M1168,209h0M1315,223h0M1260,299h0M1365,293h0M1244,267h0M1358,102h0M1398,292h0M1323,288h0M1293,268h0M1258,338h0M1320,283h0M1318,175h0M1263,299h0M1257,316h0M1306,289h0M1270,316h0M1286,270h0M1265,329h0M1326,286h0M1194,238h0M1380,281h0M1315,278h0M1329,106h0" stroke="#4A82BE" stroke-width="5.8" stroke-linecap="round" fill="none" opacity="0.6"/>
<path d="M1236,261h0M1381,112h0M1247,280h0M1280,226h0M1320,288h0M1317,183h0M1390,120h0M1304,337h0M1330,171h0M1316,207h0M1375,105h0M1320,192h0M1308,300h0M1305,330h0M1357,135h0M1345,289h0M1268,277h0M1206,244h0M1306,271h0M1280,225h0M1304,221h0M1266,286h0M1273,302h0M1279,373h0M1315,225h0M1284,324h0M1315,229h0M1259,355h0M1317,287h0M1265,339h0M1292,247h0M1328,224h0M1331,272h0M1201,250h0M1414,118h0M1300,312h0M1383,117h0M1321,300h0M1327,233h0M1211,243h0M1329,195h0M1261,304h0M1359,120h0M1324,222h0M1276,330h0M1297,205h0M1276,277h0M1221,251h0M1211,247h0M1195,227h0M1261,323h0M1342,140h0M1329,187h0M1273,351h0M1227,252h0M1281,333h0M1224,258h0M1312,273h0M1322,183h0M1301,298h0M1368,106h0M1412,126h0M1302,329h0M1169,219h0M1262,305h0M1285,211h0M1298,350h0M1292,286h0M1272,329h0M1326,206h0M1344,105h0M1170,209h0M1320,302h0M1194,242h0M1318,286h0M1259,312h0M1375,291h0M1387,289h0M1301,321h0M1350,133h0M1287,260h0M1366,117h0M1299,335h0M1263,353h0M1365,283h0M1319,240h0M1324,102h0M1268,318h0M1312,303h0M1289,213h0M1305,290h0M1331,182h0M1337,162h0M1400,117h0M1263,347h0M1313,280h0M1327,232h0M1290,309h0M1328,272h0M1296,263h0M1373,296h0M1312,306h0M1307,303h0M1180,217h0M1187,237h0M1309,185h0M1251,284h0M1288,314h0M1309,318h0M1324,98h0M1303,188h0M1303,293h0M1353,290h0M1267,319h0M1314,298h0M1274,283h0M1279,223h0M1352,145h0M1269,288h0M1334,255h0M1303,249h0M1303,344h0M1215,247h0M1284,228h0M1279,347h0M1307,189h0M1334,150h0M1299,305h0M1276,340h0M1176,222h0M1326,161h0M1295,265h0M1411,278h0M1358,144h0M1340,99h0M1311,259h0M1334,297h0M1294,349h0M1328,174h0M1174,216h0M1221,249h0M1287,298h0M1268,341h0M1271,284h0M1348,141h0M1266,263h0M1354,294h0M1312,294h0M1276,271h0M1237,259h0M1293,213h0M1328,193h0M1287,364h0M1199,247h0M1263,349h0M1371,116h0M1314,221h0M1200,248h0M1387,280h0M1314,318h0M1330,275h0M1409,117h0M1373,291h0M1315,179h0M1283,313h0M1388,293h0M1330,99h0M1318,272h0M1282,342h0M1353,285h0M1223,265h0M1299,280h0M1292,358h0M1257,334h0M1282,338h0M1254,293h0M1287,287h0M1320,242h0M1318,266h0M1328,227h0M1328,159h0M1318,279h0M1315,228h0M1327,278h0M1359,288h0M1316,250h0M1264,355h0M1391,280h0M1277,307h0M1291,321h0M1347,135h0M1393,287h0M1296,212h0M1329,300h0M1200,234h0M1309,202h0M1300,280h0M1261,323h0M1310,199h0M1322,285h0M1263,368h0M1334,172h0M1305,242h0M1299,348h0M1397,116h0M1310,228h0M1197,230h0M1302,226h0M1310,329h0M1328,230h0M1340,148h0M1310,227h0M1303,211h0M1315,274h0M1265,375h0M1310,270h0M1357,130h0M1309,298h0M1356,298h0M1384,110h0M1316,238h0M1307,262h0M1314,208h0M1304,220h0M1323,165h0M1281,234h0M1287,218h0M1414,292h0M1303,257h0M1289,359h0M1378,109h0M1301,349h0M1329,233h0M1324,299h0M1281,260h0M1331,184h0M1282,362h0M1274,251h0M1288,360h0M1185,229h0M1301,325h0M1324,187h0M1290,206h0M1274,240h0M1381,117h0M1214,246h0M1349,138h0M1394,110h0M1337,240h0M1303,348h0M1338,214h0M1316,181h0M1314,213h0M1259,288h0M1270,326h0M1323,302h0M1272,284h0M1223,261h0M1297,288h0M1332,156h0M1274,253h0M1330,96h0M1368,129h0M1242,274h0M1262,283h0M1417,120h0M1272,267h0M1268,263h0M1332,299h0M1183,234h0M1365,293h0M1206,246h0M1306,310h0M1305,268h0M1287,262h0M1290,250h0M1302,300h0M1320,225h0M1352,129h0M1263,282h0M1371,293h0M1402,121h0M1278,376h0M1308,262h0M1243,274h0M1269,319h0M1312,291h0M1315,234h0M1287,304h0M1292,229h0M1219,264h0M1320,298h0M1299,348h0M1201,236h0M1318,223h0M1368,124h0M1358,138h0M1355,114h0M1276,337h0M1264,317h0M1284,266h0M1381,119h0M1277,243h0M1297,336h0M1270,277h0M1313,262h0M1264,339h0M1169,220h0M1326,185h0M1275,267h0M1309,183h0M1312,290h0M1262,367h0M1374,108h0M1280,287h0M1409,288h0M1241,265h0M1324,191h0M1206,243h0M1337,98h0M1295,267h0M1260,287h0M1261,286h0M1298,302h0M1378,287h0M1244,266h0M1275,361h0M1314,319h0M1304,296h0M1341,103h0M1231,254h0M1397,289h0M1320,293h0M1295,363h0M1196,240h0" stroke="#4A82BE" stroke-width="5.8" stroke-linecap="round" fill="none" opacity="0.6"/>
<polygon points="57,679 232,557 232,785 68,897" fill="#F8F8F8"/>
<polygon points="232,557 513,629 500,835 232,785" fill="#F0F0F0"/>
<polygon points="68,897 232,785 500,835 350,989" fill="#F4F4F4"/>
<polyline points="68,897 350,989 500,835 513,629" fill="none" stroke="#D9D9D9" stroke-width="3.5"/>
<polyline points="57,679 232,557 513,629" fill="none" stroke="#EFEFEF" stroke-width="2"/>
<path d="M258,829h0M125,719h0M329,789h0M303,750h0M249,763h0M463,660h0M329,802h0M288,872h0M363,845h0M351,859h0M453,632h0M255,749h0M403,863h0M411,642h0M417,661h0M285,640h0M399,620h0M227,821h0M410,778h0M260,599h0M287,806h0M366,842h0M346,782h0M348,813h0M440,664h0M227,614h0M165,715h0M340,862h0M210,748h0M340,641h0M345,618h0M150,709h0M256,833h0M305,828h0M404,801h0M430,728h0M348,810h0M396,637h0M262,645h0M398,805h0M193,786h0M363,794h0M432,723h0M399,658h0M405,773h0M261,624h0M229,786h0M185,757h0M414,771h0M353,828h0M344,628h0M346,769h0M460,661h0M347,821h0M402,773h0M302,632h0M394,631h0M377,613h0M288,787h0M461,646h0M344,639h0M149,709h0M305,827h0M315,838h0M423,678h0M268,805h0M322,630h0M303,744h0M218,814h0M181,712h0M428,638h0M266,866h0M403,798h0M391,645h0M180,712h0M323,831h0M380,866h0M130,716h0M367,851h0M115,835h0M181,728h0M245,633h0M356,619h0M214,762h0M155,751h0M135,715h0M212,770h0M369,840h0M188,692h0M335,771h0M390,668h0M387,770h0M381,785h0M344,793h0M338,807h0M394,643h0M223,782h0M425,655h0M264,635h0M244,614h0M244,780h0M217,799h0M186,749h0M242,734h0M267,794h0M418,652h0M384,779h0M361,894h0M365,878h0M333,833h0M359,859h0M431,662h0M232,612h0M361,817h0M337,802h0M412,779h0M359,889h0M377,632h0M173,714h0M108,844h0M302,810h0M392,639h0M237,736h0M404,803h0M105,851h0M128,808h0M315,766h0M328,646h0M266,774h0M329,617h0M314,881h0M353,767h0M317,794h0M386,786h0M236,626h0M175,713h0M186,842h0M222,789h0M458,659h0M436,724h0M324,635h0M240,860h0M447,681h0M348,930h0M400,796h0M266,630h0M240,621h0M371,781h0M326,774h0M360,786h0M192,690h0M193,728h0M263,752h0M121,819h0M277,622h0M352,626h0M387,826h0M120,830h0M156,760h0M337,636h0M192,847h0M120,828h0M192,758h0M248,828h0M181,712h0M346,777h0M244,754h0M444,682h0M206,755h0M163,709h0M229,815h0M104,718h0M385,667h0M172,722h0M250,744h0M145,771h0M398,874h0M180,718h0M225,749h0M452,677h0M354,632h0M159,754h0M225,800h0M337,807h0M357,788h0M296,754h0M136,797h0M249,765h0M375,787h0M306,877h0M396,804h0M319,851h0M303,638h0M409,665h0M342,790h0M315,632h0M383,869h0M107,722h0M267,627h0M320,881h0M445,698h0M311,615h0M379,626h0M345,833h0M218,756h0M351,805h0M216,817h0M270,734h0M357,758h0M398,776h0M147,714h0M151,714h0M238,634h0M331,859h0M287,780h0M202,668h0M366,769h0M162,712h0M188,686h0M221,740h0M280,737h0M300,798h0M368,649h0M280,804h0M391,784h0M394,833h0M264,864h0M297,617h0M137,793h0M229,638h0M383,787h0M358,796h0M222,622h0M286,800h0M435,643h0M315,785h0M376,800h0M197,737h0M272,736h0M334,622h0M300,745h0M418,661h0M113,716h0M131,712h0M285,760h0M427,734h0M355,821h0M235,858h0M159,709h0M103,854h0M115,830h0M286,619h0M276,797h0M384,856h0M271,829h0M445,666h0M387,849h0M325,833h0M213,770h0M360,803h0M209,758h0M459,638h0M225,804h0M335,770h0M301,752h0M285,784h0M240,761h0M403,625h0M343,620h0M160,707h0M326,604h0M161,739h0M441,637h0M139,717h0M373,639h0M406,644h0M318,640h0M406,794h0M283,837h0M328,750h0M318,634h0M416,659h0M348,887h0M202,846h0M375,661h0M424,751h0M231,824h0M418,762h0M227,618h0M309,879h0M388,625h0M204,660h0M403,634h0M235,793h0M239,747h0M251,798h0M181,710h0M328,760h0M191,686h0M451,689h0M347,847h0M361,642h0M452,662h0M323,812h0M207,743h0M189,717h0M220,759h0M213,819h0M344,803h0M267,646h0M349,788h0M408,653h0M224,772h0M336,795h0M416,768h0M374,628h0M362,652h0M422,674h0M371,855h0M284,817h0M405,785h0M331,616h0M353,791h0M390,616h0M388,864h0M172,714h0M139,715h0M321,614h0M364,831h0M361,894h0M189,723h0M355,894h0M219,625h0M247,620h0M313,620h0M400,809h0M167,705h0M217,824h0M296,825h0M260,863h0M368,855h0M418,775h0M365,876h0M387,840h0M416,621h0M243,755h0M212,637h0M310,616h0M439,664h0M101,852h0M105,720h0M219,627h0M293,833h0M330,806h0M249,823h0M202,750h0M345,926h0M308,878h0M184,722h0M354,785h0M220,629h0M287,610h0M315,657h0M385,627h0M414,658h0M423,640h0M320,637h0M405,804h0M249,627h0M274,599h0M270,837h0M214,643h0M224,622h0M274,637h0M147,716h0M426,636h0M163,744h0M192,676h0M204,847h0M338,805h0M227,616h0M203,740h0M345,795h0M195,680h0M190,790h0M172,711h0M275,867h0M445,637h0M372,770h0M350,891h0M372,833h0M297,644h0M415,773h0M331,838h0M361,622h0M361,645h0M257,747h0M216,760h0M332,617h0M381,833h0M402,785h0M395,807h0M256,771h0M151,710h0M280,872h0M244,733h0M371,635h0M340,853h0M419,643h0M293,761h0M404,625h0M324,639h0M207,654h0M387,767h0M366,631h0M273,615h0M233,781h0" stroke="#4A82BE" stroke-width="5.8" stroke-linecap="round" fill="none" opacity="0.6"/>
<path d="M97,720h0M351,920h0M236,726h0M317,655h0M288,634h0M441,659h0M198,744h0M354,792h0M210,779h0M252,633h0M390,806h0M376,870h0M317,769h0M377,781h0M217,795h0M290,623h0M154,760h0M301,632h0M291,620h0M427,672h0M429,738h0M210,749h0M367,781h0M398,850h0M170,709h0M369,790h0M185,757h0M281,630h0M448,670h0M359,774h0M391,817h0M355,777h0M368,618h0M444,671h0M177,719h0M390,651h0M269,601h0M246,635h0M270,622h0M319,645h0M382,804h0M323,857h0M154,836h0M446,669h0M433,642h0M377,861h0M224,794h0M326,768h0M248,758h0M256,754h0M370,642h0M341,630h0M156,759h0M316,810h0M238,784h0M259,792h0M252,737h0M368,777h0M423,741h0M237,769h0M141,778h0M179,730h0M377,778h0M219,627h0M401,625h0M187,738h0M444,651h0M266,605h0M408,783h0M300,782h0M428,739h0M369,877h0M414,672h0M411,771h0M379,848h0M188,843h0M438,716h0M142,773h0M219,818h0M446,671h0M353,817h0M254,600h0M270,644h0M425,745h0M352,640h0M354,902h0M437,637h0M380,663h0M390,649h0M267,646h0M364,824h0M382,781h0M263,625h0M229,606h0M390,781h0M291,803h0M350,610h0M367,832h0M208,850h0M251,771h0M217,797h0M372,662h0M188,816h0M402,849h0M216,732h0M245,735h0M410,653h0M349,798h0M321,658h0M240,856h0M398,805h0M216,770h0M178,842h0M271,868h0M293,643h0M185,792h0M221,800h0M398,808h0M403,805h0M185,712h0M366,782h0M131,805h0M201,664h0M328,626h0M227,616h0M392,818h0M364,800h0M357,661h0M214,774h0M338,886h0M460,657h0M390,877h0M304,636h0M370,854h0M390,771h0M245,818h0M100,726h0M283,609h0M107,724h0M451,692h0M128,803h0M321,623h0M356,906h0M306,822h0M236,730h0M246,603h0M384,820h0M345,618h0M383,835h0M395,775h0M250,809h0M231,614h0M348,632h0M211,817h0M441,643h0M257,597h0M237,726h0M216,724h0M268,823h0M325,646h0M351,664h0M298,620h0M356,858h0M347,792h0M383,616h0M226,743h0M351,917h0M264,621h0M398,775h0M362,645h0M286,844h0M392,852h0M341,636h0M435,678h0M397,778h0M327,782h0M171,724h0M163,834h0M416,644h0M243,762h0M275,601h0M357,898h0M355,842h0M439,707h0M209,749h0M364,617h0M369,800h0M401,776h0M329,816h0M258,613h0M454,644h0M353,652h0M297,778h0M224,739h0M238,642h0M354,834h0M220,742h0M290,607h0M372,664h0M369,640h0M277,786h0M433,663h0M223,627h0M388,647h0M292,615h0M283,619h0M455,652h0M139,718h0M345,794h0M335,822h0M348,792h0M193,787h0M333,847h0M201,809h0M219,627h0M396,804h0M272,789h0M435,652h0M195,773h0M358,771h0M304,609h0M325,655h0M371,783h0M397,624h0M301,633h0M263,640h0M143,716h0M387,778h0M224,826h0M368,782h0M409,769h0M235,636h0M336,827h0M351,661h0M365,855h0M414,654h0M341,931h0M343,651h0M296,784h0M432,668h0M233,609h0M289,792h0M249,797h0M216,803h0M401,648h0M381,827h0M261,616h0M365,785h0M348,924h0M345,620h0M406,784h0M220,855h0M382,651h0M181,707h0M399,669h0M404,780h0M324,832h0M427,656h0M282,795h0M352,805h0M367,647h0M270,610h0M354,660h0M336,835h0M419,755h0M295,756h0M116,824h0M274,780h0M195,674h0M260,779h0M308,641h0M248,640h0M340,790h0M182,703h0M408,787h0M399,658h0M132,797h0M305,803h0M285,839h0M433,727h0M303,789h0M389,791h0M191,730h0M144,773h0M247,860h0M312,618h0M432,679h0M140,715h0M102,725h0M344,925h0M370,863h0M305,611h0M203,773h0M388,775h0M387,824h0M461,668h0M372,649h0M349,918h0M394,823h0M396,857h0M447,700h0M405,631h0M328,806h0M371,640h0M327,837h0M382,780h0M215,789h0M139,717h0M244,765h0M285,745h0M291,794h0M213,780h0M359,796h0M373,789h0M327,833h0M403,661h0M320,630h0M382,785h0M308,799h0M180,842h0M289,629h0M396,879h0M360,628h0M249,743h0M392,637h0M184,745h0M217,853h0M239,803h0M203,722h0M290,771h0M258,750h0M388,671h0M200,729h0M347,630h0M268,771h0M242,740h0M288,601h0M356,639h0M412,660h0M291,601h0M203,849h0M407,783h0M152,715h0M240,752h0M203,799h0M121,822h0M461,668h0M275,836h0M251,611h0M296,757h0M447,648h0M305,794h0M234,730h0M281,789h0M191,805h0M310,877h0M398,849h0M365,825h0M357,656h0M288,645h0M180,745h0M340,780h0M236,761h0M308,624h0M186,798h0M176,713h0M301,817h0M240,824h0M405,635h0M342,639h0M205,738h0M376,624h0M246,790h0M291,638h0M231,608h0M348,798h0M321,752h0M272,599h0M396,812h0M127,718h0M236,821h0M300,621h0M428,638h0M258,606h0M403,626h0M258,792h0M419,751h0M173,707h0M404,772h0M270,614h0M448,633h0M280,646h0M354,653h0M382,768h0M201,743h0M242,736h0M230,774h0M370,782h0M126,719h0M356,632h0M383,650h0M207,653h0M455,638h0M336,646h0M164,707h0M377,785h0M389,877h0M369,819h0M386,860h0M121,826h0M240,623h0M191,680h0M258,818h0M303,760h0M417,621h0M258,613h0M298,647h0M161,835h0" stroke="#4A82BE" stroke-width="5.8" stroke-linecap="round" fill="none" opacity="0.6"/>
<polygon points="572,679 747,557 747,785 583,897" fill="#F8F8F8"/>
<polygon points="747,557 1028,629 1015,835 747,785" fill="#F0F0F0"/>
<polygon points="583,897 747,785 1015,835 865,989" fill="#F4F4F4"/>
<polyline points="583,897 865,989 1015,835 1028,629" fill="none" stroke="#D9D9D9" stroke-width="3.5"/>
<polyline points="572,679 747,557 1028,629" fill="none" stroke="#EFEFEF" stroke-width="2"/>
<path d="M904,668h0M939,687h0M744,801h0M871,797h0M776,731h0M746,705h0M849,680h0M905,677h0M908,655h0M918,822h0M702,632h0M881,699h0M719,657h0M771,730h0M855,812h0M695,802h0M746,722h0M739,714h0M775,712h0M710,763h0M654,823h0M703,652h0M725,741h0M729,766h0M842,741h0M714,737h0M759,776h0M873,649h0M837,685h0M653,843h0M697,780h0M806,717h0M895,726h0M874,908h0M729,818h0M931,730h0M696,692h0M759,679h0M792,748h0M729,733h0M720,703h0M717,649h0M702,665h0M704,706h0M689,792h0M919,683h0M918,662h0M726,762h0M907,834h0M922,732h0M886,690h0M864,648h0M734,647h0M881,691h0M923,653h0M833,937h0M898,724h0M725,729h0M696,669h0M685,808h0M787,704h0M817,797h0M812,695h0M850,751h0M697,735h0M784,744h0M702,739h0M869,805h0M736,634h0M729,700h0M737,698h0M856,911h0M767,698h0M710,633h0M794,697h0M726,818h0M734,743h0M760,746h0M781,726h0M929,820h0M701,831h0M916,796h0M943,791h0M941,760h0M711,710h0M919,780h0M797,790h0M708,817h0M831,782h0M866,645h0M827,668h0M719,824h0M811,658h0M866,678h0M723,684h0M707,750h0M760,669h0M912,779h0M759,683h0M854,731h0M830,737h0M921,661h0M757,728h0M905,668h0M766,738h0M723,700h0M763,731h0M930,716h0M799,650h0M681,753h0M730,632h0M760,733h0M680,821h0M906,843h0M780,726h0M764,638h0M792,717h0M889,898h0M747,686h0M952,668h0M694,698h0M811,676h0M768,677h0M758,752h0M908,755h0M791,716h0M881,706h0M950,657h0M806,728h0M702,665h0M758,694h0M741,739h0M886,782h0M794,799h0M922,745h0M916,658h0M691,698h0M776,700h0M822,723h0M772,682h0M743,725h0M947,662h0M830,754h0M742,830h0M914,737h0M713,700h0M752,685h0M839,924h0M907,818h0M785,781h0M731,630h0M834,742h0M729,724h0M926,777h0M709,636h0M660,830h0M725,662h0M657,818h0M945,778h0M906,794h0M778,648h0M775,803h0M789,675h0M784,792h0M914,707h0M847,811h0M953,666h0M816,738h0M760,804h0M726,764h0M906,877h0M871,784h0M742,771h0M910,800h0M737,784h0M925,804h0M826,929h0M804,819h0M933,759h0M735,747h0M789,641h0M850,798h0M709,707h0M893,678h0M936,737h0M870,900h0M722,663h0M928,759h0M883,662h0M915,775h0M842,758h0M850,735h0M785,696h0M748,636h0M774,809h0M655,827h0M951,659h0M777,746h0M817,689h0M806,664h0M815,723h0M747,653h0M944,793h0M893,758h0M925,804h0M764,768h0M930,694h0M874,776h0M903,718h0M920,684h0M884,782h0M912,740h0M863,913h0M765,815h0M771,685h0M699,783h0M704,782h0M833,762h0M826,703h0M789,727h0M695,786h0M683,728h0M772,656h0M867,916h0M701,764h0M747,790h0M826,706h0M799,814h0M714,680h0M841,919h0M699,720h0M745,702h0M681,833h0M875,904h0M751,702h0M906,757h0M945,717h0M716,717h0M688,686h0M941,677h0M677,737h0M702,645h0M847,723h0M800,807h0M725,679h0M804,713h0M947,720h0M667,768h0M825,657h0M918,663h0M907,721h0M816,814h0M805,678h0M904,892h0M794,657h0M819,716h0M658,780h0M715,707h0M805,733h0M730,645h0M757,648h0M845,731h0M753,723h0M790,743h0M920,821h0M802,670h0M777,778h0M862,720h0M840,714h0M752,662h0M762,632h0M845,919h0M739,745h0M754,704h0M707,684h0M872,907h0M935,703h0M868,908h0M877,718h0M884,892h0M806,742h0M732,700h0M696,692h0M690,725h0M669,817h0M700,660h0M706,750h0M770,728h0M917,742h0M952,733h0M721,717h0M855,910h0M933,681h0M911,823h0M934,851h0M691,754h0M826,926h0M819,756h0M945,745h0M940,696h0M743,673h0M834,815h0M666,763h0M897,726h0M862,748h0M912,849h0M689,673h0M701,675h0M726,749h0M773,766h0M718,680h0M709,828h0M928,679h0M685,736h0M839,757h0M918,799h0M748,725h0M814,762h0M688,813h0M695,754h0M741,629h0M712,672h0M752,727h0M766,722h0M783,665h0M955,688h0M719,813h0M729,681h0M791,747h0M913,809h0M685,719h0M774,706h0M891,757h0M790,750h0M696,724h0M785,797h0M805,673h0M918,858h0M893,894h0M684,799h0M935,750h0M879,677h0M734,693h0M918,727h0M813,784h0M702,710h0M732,682h0M934,812h0M908,798h0M856,922h0M941,705h0M740,808h0M766,698h0M934,673h0M732,807h0M697,718h0M662,821h0M743,795h0M937,675h0M859,655h0M709,781h0M742,714h0M701,694h0M811,715h0M725,762h0M911,712h0M823,766h0M786,653h0M773,697h0M912,887h0M850,769h0M716,826h0M933,846h0M870,742h0M817,689h0M702,685h0M713,757h0" stroke="#4A82BE" stroke-width="5.8" stroke-linecap="round" fill="none" opacity="0.6"/>
<path d="M955,703h0M734,649h0M956,671h0M776,726h0M933,671h0M958,672h0M808,735h0M740,721h0M753,707h0M713,775h0M754,790h0M887,670h0M927,735h0M714,788h0M802,794h0M845,694h0M744,702h0M734,770h0M700,641h0M922,867h0M787,720h0M761,672h0M899,755h0M752,702h0M728,668h0M928,669h0M743,793h0M747,651h0M787,749h0M813,638h0M916,749h0M744,700h0M791,782h0M917,805h0M779,701h0M664,821h0M701,717h0M929,849h0M807,801h0M667,773h0M879,654h0M833,683h0M880,795h0M765,693h0M759,680h0M793,669h0M881,700h0M726,792h0M909,674h0M891,701h0M918,672h0M791,706h0M880,697h0M766,752h0M911,703h0M927,703h0M870,649h0M892,799h0M909,849h0M824,641h0M710,734h0M688,797h0M864,756h0M879,670h0M734,638h0M854,762h0M928,790h0M844,782h0M775,639h0M672,815h0M738,822h0M822,721h0M750,717h0M942,662h0M778,693h0M774,704h0M712,696h0M906,855h0M702,690h0M837,933h0M952,669h0M876,713h0M672,774h0M857,910h0M784,638h0M712,667h0M725,811h0M749,817h0M744,742h0M886,899h0M909,782h0M899,895h0M933,689h0M892,678h0M808,738h0M783,735h0M833,684h0M759,726h0M694,740h0M698,743h0M917,803h0M884,652h0M703,829h0M811,696h0M712,753h0M836,654h0M709,729h0M882,669h0M919,729h0M722,719h0M696,656h0M908,689h0M915,743h0M907,733h0M865,799h0M908,872h0M835,704h0M775,750h0M702,650h0M835,923h0M907,886h0M789,737h0M863,738h0M806,711h0M792,700h0M911,778h0M692,775h0M928,666h0M827,811h0M792,650h0M676,799h0M836,666h0M697,719h0M771,822h0M692,814h0M763,706h0M684,801h0M891,676h0M806,684h0M882,725h0M809,760h0M703,650h0M702,636h0M692,711h0M910,823h0M932,692h0M735,639h0M879,680h0M934,668h0M825,740h0M661,823h0M892,671h0M697,659h0M801,647h0M710,811h0M740,772h0M928,852h0M729,655h0M737,769h0M856,911h0M791,747h0M886,717h0M924,799h0M948,740h0M714,819h0M721,733h0M774,783h0M764,673h0M742,761h0M777,694h0M670,818h0M878,707h0M885,700h0M824,720h0M689,740h0M933,728h0M943,765h0M720,767h0M751,673h0M921,764h0M752,682h0M769,701h0M944,663h0M932,791h0M682,722h0M735,805h0M855,791h0M883,665h0M724,653h0M773,758h0M933,663h0M929,661h0M929,786h0M692,779h0M713,809h0M913,710h0M897,681h0M700,748h0M951,759h0M869,757h0M932,699h0M812,818h0M768,760h0M723,654h0M675,742h0M818,799h0M834,800h0M729,781h0M742,723h0M911,856h0M795,700h0M899,888h0M697,655h0M875,662h0M916,676h0M810,818h0M703,737h0M669,791h0M937,803h0M808,650h0M899,767h0M713,674h0M938,670h0M703,768h0M894,718h0M796,637h0M706,685h0M906,891h0M838,794h0M874,722h0M853,679h0M704,631h0M863,733h0M867,901h0M799,760h0M885,902h0M642,831h0M902,664h0M850,717h0M794,749h0M888,803h0M945,723h0M856,789h0M865,907h0M876,750h0M717,800h0M820,649h0M867,717h0M904,701h0M780,815h0M742,695h0M938,762h0M882,685h0M912,736h0M766,721h0M779,795h0M752,778h0M726,721h0M922,738h0M866,735h0M918,710h0M800,665h0M660,835h0M842,795h0M697,702h0M801,668h0M781,678h0M798,682h0M738,800h0M735,780h0M771,762h0M824,756h0M788,706h0M940,770h0M934,856h0M950,675h0M882,766h0M797,768h0M695,700h0M856,762h0M834,659h0M931,772h0M870,808h0M781,662h0M801,766h0M703,721h0M810,655h0M690,701h0M907,687h0M771,800h0M796,675h0M889,732h0M746,689h0M858,750h0M868,786h0M928,775h0M811,759h0M689,801h0M932,748h0M819,767h0M940,838h0M882,891h0M928,822h0M725,640h0M803,819h0M951,751h0M894,782h0M908,698h0M778,776h0M907,812h0M824,785h0M796,773h0M916,659h0M789,660h0M843,771h0M846,668h0M905,732h0M887,732h0M700,739h0M917,707h0M926,812h0M868,650h0M696,706h0M873,714h0M738,750h0M942,764h0M925,788h0M811,808h0M869,770h0M767,753h0M839,698h0M845,801h0M770,812h0M668,807h0M943,684h0M683,787h0M916,849h0M675,780h0M917,677h0M812,642h0M710,706h0M738,781h0M832,662h0M749,743h0M771,827h0M762,669h0M686,815h0M728,813h0M921,766h0M751,682h0M783,709h0M949,658h0M736,703h0M742,784h0M949,783h0M824,703h0M938,769h0M701,694h0M763,782h0M833,761h0M713,670h0M811,788h0M772,712h0M868,725h0M696,837h0M851,719h0M758,791h0M667,815h0M880,760h0M955,710h0M813,810h0M919,696h0M915,696h0M811,722h0M752,795h0M929,659h0M814,709h0M749,730h0" stroke="#4A82BE" stroke-width="5.8" stroke-linecap="round" fill="none" opacity="0.6"/>
<polygon points="1087,679 1262,557 1262,785 1098,897" fill="#F8F8F8"/>
<polygon points="1262,557 1543,629 1530,835 1262,785" fill="#F0F0F0"/>
<polygon points="1098,897 1262,785 1530,835 1380,989" fill="#F4F4F4"/>
<polyline points="1098,897 1380,989 1530,835 1543,629" fill="none" stroke="#D9D9D9" stroke-width="3.5"/>
<polyline points="1087,679 1262,557 1543,629" fill="none" stroke="#EFEFEF" stroke-width="2"/>
<path d="M1389,824h0M1330,816h0M1409,820h0M1209,746h0M1430,715h0M1484,663h0M1255,782h0M1392,826h0M1428,796h0M1247,667h0M1255,699h0M1388,679h0M1288,709h0M1332,626h0M1354,660h0M1369,741h0M1267,830h0M1451,645h0M1342,939h0M1491,667h0M1262,604h0M1335,701h0M1336,673h0M1417,689h0M1315,664h0M1464,666h0M1409,736h0M1419,856h0M1264,607h0M1224,795h0M1202,778h0M1406,805h0M1249,641h0M1204,676h0M1360,682h0M1407,833h0M1294,630h0M1391,739h0M1326,691h0M1344,639h0M1349,768h0M1353,701h0M1338,650h0M1225,765h0M1359,735h0M1405,774h0M1235,748h0M1284,736h0M1216,680h0M1353,676h0M1353,920h0M1262,636h0M1346,618h0M1377,647h0M1300,769h0M1281,713h0M1198,730h0M1292,801h0M1241,797h0M1347,790h0M1449,675h0M1474,694h0M1388,724h0M1364,738h0M1383,821h0M1218,705h0M1228,655h0M1359,631h0M1363,749h0M1323,808h0M1414,656h0M1245,625h0M1375,768h0M1282,650h0M1325,665h0M1376,866h0M1325,671h0M1314,752h0M1344,710h0M1466,675h0M1360,726h0M1351,825h0M1344,639h0M1259,624h0M1190,730h0M1353,676h0M1330,686h0M1415,657h0M1179,828h0M1378,710h0M1391,654h0M1398,641h0M1416,799h0M1275,631h0M1269,821h0M1425,708h0M1282,690h0M1463,699h0M1261,773h0M1461,691h0M1443,697h0M1284,804h0M1150,867h0M1495,660h0M1279,614h0M1386,689h0M1333,645h0M1381,728h0M1253,646h0M1445,668h0M1248,771h0M1297,634h0M1420,723h0M1296,619h0M1369,890h0M1284,613h0M1330,687h0M1434,691h0M1233,822h0M1344,678h0M1311,715h0M1447,713h0M1358,907h0M1215,722h0M1344,839h0M1262,745h0M1311,668h0M1261,660h0M1324,715h0M1171,847h0M1343,779h0M1314,748h0M1303,689h0M1375,819h0M1470,693h0M1146,880h0M1356,723h0M1234,808h0M1311,704h0M1391,838h0M1187,778h0M1442,659h0M1377,662h0M1308,738h0M1197,713h0M1399,671h0M1286,712h0M1368,836h0M1228,728h0M1330,636h0M1294,698h0M1459,710h0M1275,809h0M1422,826h0M1395,738h0M1245,769h0M1383,632h0M1166,847h0M1320,678h0M1359,669h0M1261,650h0M1358,652h0M1325,805h0M1206,793h0M1494,658h0M1418,718h0M1357,677h0M1261,750h0M1391,660h0M1254,664h0M1384,631h0M1421,660h0M1417,683h0M1298,699h0M1248,660h0M1282,726h0M1171,837h0M1486,661h0M1450,676h0M1347,706h0M1384,683h0M1343,653h0M1193,701h0M1202,773h0M1157,864h0M1201,767h0M1386,714h0M1472,675h0M1279,610h0M1180,836h0M1294,810h0M1288,619h0M1368,712h0M1301,676h0M1394,654h0M1398,690h0M1236,821h0M1298,802h0M1333,739h0M1408,749h0M1414,718h0M1356,922h0M1399,768h0M1186,690h0M1284,640h0M1215,677h0M1242,778h0M1353,939h0M1187,685h0M1442,741h0M1439,665h0M1402,641h0M1284,646h0M1458,704h0M1262,651h0M1268,710h0M1275,768h0M1271,829h0M1178,835h0M1365,739h0M1371,643h0M1369,702h0M1271,706h0M1258,622h0M1219,702h0M1432,756h0M1334,675h0M1336,669h0M1238,670h0M1306,625h0M1318,818h0M1284,645h0M1360,735h0M1273,608h0M1404,835h0M1407,638h0M1302,822h0M1302,715h0M1318,726h0M1197,748h0M1192,807h0M1429,677h0M1287,774h0M1292,622h0M1457,681h0M1224,757h0M1206,705h0M1405,821h0M1303,729h0M1267,830h0M1281,716h0M1379,643h0M1352,721h0M1273,672h0M1400,770h0M1394,770h0M1317,700h0M1399,658h0M1315,700h0M1193,726h0M1346,816h0M1378,870h0M1314,816h0M1346,719h0M1355,776h0M1337,760h0M1272,717h0M1160,864h0M1475,668h0M1443,665h0M1351,665h0M1330,721h0M1392,759h0M1271,669h0M1333,808h0M1272,619h0M1341,642h0M1291,800h0M1454,666h0M1307,747h0M1311,784h0M1437,679h0M1359,741h0M1471,683h0M1409,696h0M1285,797h0M1258,602h0M1335,753h0M1422,676h0M1448,661h0M1353,926h0M1363,741h0M1175,703h0M1315,776h0M1257,745h0M1359,906h0M1416,742h0M1220,688h0M1382,676h0M1226,712h0M1369,801h0M1141,874h0M1315,798h0M1353,682h0M1310,767h0M1282,826h0M1289,663h0M1483,653h0M1276,645h0M1215,718h0M1360,637h0M1267,783h0M1216,768h0M1379,680h0M1438,669h0M1249,659h0M1407,789h0M1248,660h0M1387,868h0M1333,767h0M1347,750h0M1340,701h0M1416,820h0M1171,698h0M1191,712h0M1284,664h0M1342,657h0M1384,868h0M1428,705h0M1200,725h0M1379,689h0M1362,751h0M1346,826h0M1279,750h0M1304,717h0M1388,869h0M1401,797h0M1291,791h0M1371,682h0M1139,705h0M1418,673h0M1174,838h0M1421,711h0M1414,850h0M1219,756h0M1241,660h0M1387,657h0M1334,797h0M1286,824h0M1302,645h0M1299,707h0M1288,789h0M1280,621h0M1161,864h0M1328,634h0M1349,826h0M1171,699h0M1239,675h0M1358,785h0M1204,811h0M1290,671h0M1211,688h0M1245,729h0M1310,632h0M1471,652h0M1442,727h0M1417,841h0M1344,736h0M1485,659h0M1386,714h0M1465,696h0M1421,694h0" stroke="#4A82BE" stroke-width="5.8" stroke-linecap="round" fill="none" opacity="0.6"/>
<path d="M1317,697h0M1285,763h0M1402,696h0M1333,673h0M1426,654h0M1265,766h0M1314,673h0M1422,691h0M1265,717h0M1265,681h0M1225,711h0M1393,772h0M1434,660h0M1412,823h0M1377,873h0M1249,679h0M1336,734h0M1424,638h0M1264,679h0M1473,667h0M1314,727h0M1378,872h0M1418,758h0M1468,658h0M1230,765h0M1390,861h0M1323,695h0M1279,673h0M1415,828h0M1262,721h0M1225,816h0M1421,837h0M1267,750h0M1303,676h0M1426,682h0M1247,798h0M1420,639h0M1327,792h0M1293,712h0M1356,696h0M1369,633h0M1209,780h0M1351,929h0M1186,745h0M1270,680h0M1227,750h0M1447,663h0M1433,703h0M1180,830h0M1330,784h0M1311,691h0M1359,642h0M1353,937h0M1311,639h0M1255,741h0M1302,653h0M1343,640h0M1247,636h0M1370,796h0M1276,688h0M1406,853h0M1459,694h0M1183,692h0M1324,817h0M1275,691h0M1315,690h0M1359,682h0M1337,665h0M1410,842h0M1301,644h0M1272,613h0M1193,760h0M1202,796h0M1286,721h0M1293,620h0M1351,725h0M1393,724h0M1318,812h0M1280,706h0M1397,678h0M1358,784h0M1338,828h0M1180,704h0M1358,922h0M1273,787h0M1311,696h0M1276,629h0M1294,653h0M1357,931h0M1179,713h0M1349,659h0M1361,640h0M1284,713h0M1351,653h0M1438,649h0M1194,743h0M1445,678h0M1275,770h0M1278,606h0M1246,801h0M1348,942h0M1246,767h0M1428,658h0M1276,773h0M1266,703h0M1285,802h0M1266,650h0M1474,666h0M1364,901h0M1237,779h0M1241,693h0M1489,680h0M1398,670h0M1214,762h0M1267,766h0M1178,819h0M1271,652h0M1235,637h0M1405,814h0M1326,626h0M1251,718h0M1357,800h0M1438,725h0M1456,677h0M1370,739h0M1209,797h0M1255,707h0M1240,648h0M1361,921h0M1278,680h0M1165,860h0M1452,722h0M1187,812h0M1391,821h0M1377,652h0M1300,763h0M1353,908h0M1311,781h0M1410,784h0M1398,703h0M1382,827h0M1338,940h0M1200,676h0M1382,780h0M1309,725h0M1312,810h0M1286,785h0M1371,636h0M1420,655h0M1422,650h0M1210,807h0M1401,793h0M1196,747h0M1282,742h0M1352,632h0M1341,744h0M1380,883h0M1191,817h0M1337,834h0M1426,718h0M1244,693h0M1307,613h0M1416,776h0M1381,865h0M1301,796h0M1429,640h0M1325,733h0M1252,827h0M1216,808h0M1379,862h0M1246,633h0M1371,888h0M1368,654h0M1273,723h0M1471,667h0M1339,764h0M1313,674h0M1310,716h0M1163,862h0M1356,785h0M1342,643h0M1405,753h0M1169,848h0M1349,810h0M1336,649h0M1337,696h0M1312,767h0M1300,662h0M1265,663h0M1343,749h0M1210,780h0M1296,711h0M1386,860h0M1277,722h0M1421,853h0M1340,694h0M1363,909h0M1344,681h0M1352,782h0M1254,686h0M1183,825h0M1323,668h0M1324,663h0M1350,818h0M1201,724h0M1170,837h0M1356,667h0M1197,706h0M1249,682h0M1185,765h0M1460,698h0M1363,841h0M1299,736h0M1317,732h0M1186,766h0M1403,745h0M1245,662h0M1256,823h0M1335,701h0M1246,655h0M1378,747h0M1466,688h0M1192,711h0M1234,724h0M1290,626h0M1217,776h0M1185,762h0M1166,853h0M1289,725h0M1371,793h0M1181,828h0M1401,850h0M1440,665h0M1276,622h0M1194,680h0M1396,815h0M1260,627h0M1274,814h0M1281,724h0M1408,821h0M1310,643h0M1178,835h0M1377,672h0M1147,863h0M1417,733h0M1455,704h0M1337,829h0M1287,688h0M1354,701h0M1451,684h0M1342,823h0M1353,636h0M1416,798h0M1271,694h0M1333,745h0M1355,715h0M1355,625h0M1296,647h0M1444,719h0M1286,645h0M1225,682h0M1177,837h0M1194,727h0M1368,707h0M1259,816h0M1323,662h0M1284,627h0M1462,647h0M1456,694h0M1368,624h0M1243,661h0M1361,627h0M1232,714h0M1436,660h0M1372,725h0M1386,845h0M1455,701h0M1216,714h0M1283,656h0M1153,707h0M1457,668h0M1365,684h0M1204,710h0M1238,720h0M1275,730h0M1361,832h0M1368,644h0M1281,814h0M1289,615h0M1437,706h0M1407,699h0M1284,759h0M1220,764h0M1368,906h0M1372,676h0M1184,716h0M1265,641h0M1356,931h0M1341,709h0M1352,805h0M1264,639h0M1351,680h0M1220,677h0M1274,637h0M1259,683h0M1354,693h0M1191,714h0M1474,673h0M1269,657h0M1376,718h0M1339,799h0M1259,688h0M1357,763h0M1278,670h0M1292,732h0M1480,671h0M1269,661h0M1293,751h0M1260,751h0M1175,824h0M1407,694h0M1356,795h0M1266,814h0M1394,698h0M1376,832h0M1268,652h0M1230,680h0M1424,830h0M1333,666h0M1288,650h0M1285,621h0M1328,822h0M1178,841h0M1337,702h0M1366,796h0M1385,662h0M1472,684h0M1249,644h0M1275,698h0M1243,649h0M1432,687h0M1266,630h0M1163,856h0M1177,845h0M1309,730h0M1277,821h0M1233,732h0M1330,740h0M1264,681h0M1252,669h0M1355,911h0M1309,781h0M1415,846h0M1384,686h0M1379,871h0M1285,693h0M1303,725h0M1334,706h0M1421,786h0M1165,842h0M1220,818h0M1371,781h0M1413,832h0M1307,663h0M1392,730h0M1270,772h0M1422,815h0M1358,666h0M1206,689h0M1267,822h0M1154,706h0M1455,659h0M1343,724h0" stroke="#4A82BE" stroke-width="5.8" stroke-linecap="round" fill="none" opacity="0.6"/>
<polygon points="57,1196 232,1074 232,1302 68,1414" fill="#F8F8F8"/>
<polygon points="232,1074 513,1146 500,1352 232,1302" fill="#F0F0F0"/>
<polygon points="68,1414 232,1302 500,1352 350,1506" fill="#F4F4F4"/>
<polyline points="68,1414 350,1506 500,1352 513,1146" fill="none" stroke="#D9D9D9" stroke-width="3.5"/>
<polyline points="57,1196 232,1074 513,1146" fill="none" stroke="#EFEFEF" stroke-width="2"/>
<path d="M245,1225h0M349,1170h0M418,1231h0M268,1244h0M306,1170h0M272,1304h0M227,1386h0M242,1283h0M266,1196h0M416,1232h0M270,1318h0M331,1250h0M223,1330h0M166,1358h0M207,1345h0M208,1211h0M382,1189h0M261,1322h0M241,1382h0M175,1361h0M166,1346h0M210,1385h0M325,1312h0M374,1273h0M274,1283h0M227,1317h0M400,1208h0M251,1313h0M236,1333h0M431,1259h0M356,1296h0M366,1314h0M429,1259h0M263,1204h0M243,1352h0M368,1251h0M289,1173h0M369,1223h0M403,1213h0M289,1171h0M286,1261h0M235,1367h0M258,1281h0M245,1366h0M191,1371h0M385,1248h0M427,1270h0M320,1364h0M336,1266h0M377,1185h0M337,1186h0M197,1243h0M334,1210h0M427,1273h0M386,1186h0M280,1236h0M240,1328h0M220,1332h0M427,1243h0M313,1237h0M285,1241h0M278,1238h0M250,1203h0M277,1249h0M189,1334h0M384,1184h0M200,1310h0M242,1328h0M310,1364h0M364,1240h0M292,1175h0M248,1196h0M264,1221h0M256,1369h0M191,1297h0M255,1198h0M324,1174h0M210,1286h0M211,1272h0M352,1286h0M248,1198h0M246,1285h0M235,1370h0M189,1271h0M361,1310h0M291,1206h0M362,1182h0M271,1208h0M230,1347h0M240,1229h0M303,1271h0M437,1286h0M248,1190h0M386,1198h0M374,1182h0M248,1261h0M396,1330h0M357,1175h0M217,1284h0M259,1186h0M219,1291h0M204,1328h0M314,1269h0M238,1282h0M199,1372h0M165,1342h0M426,1266h0M397,1299h0M436,1299h0M248,1200h0M284,1344h0M391,1299h0M269,1184h0M330,1277h0M397,1201h0M329,1314h0M176,1347h0M243,1204h0M205,1355h0M279,1178h0M390,1195h0M266,1313h0M323,1180h0M295,1177h0M352,1275h0M172,1357h0M224,1205h0M210,1350h0M405,1217h0M282,1213h0M435,1256h0M302,1287h0M234,1351h0M273,1194h0M227,1340h0M256,1244h0M434,1292h0M419,1240h0M385,1233h0M305,1287h0M188,1322h0M267,1183h0M317,1269h0M362,1315h0M404,1306h0M168,1341h0M221,1356h0M256,1188h0M283,1262h0M354,1238h0M229,1191h0M349,1201h0M248,1233h0M313,1166h0M322,1281h0M291,1299h0M278,1173h0M283,1217h0M198,1379h0M301,1241h0M389,1186h0M211,1309h0M299,1175h0M304,1166h0M253,1232h0M327,1221h0M225,1211h0M276,1257h0M199,1257h0M191,1322h0M206,1314h0M267,1221h0M388,1265h0M318,1242h0M204,1358h0M312,1368h0M340,1359h0M338,1366h0M236,1312h0M199,1287h0M198,1308h0M211,1330h0M285,1177h0M228,1287h0M339,1253h0M352,1181h0M386,1179h0M241,1326h0M356,1347h0M190,1369h0M196,1378h0M267,1317h0M296,1298h0M312,1198h0M233,1305h0M350,1247h0M424,1313h0M275,1325h0M435,1270h0M404,1206h0M307,1274h0M190,1350h0M253,1348h0M242,1314h0M434,1299h0M232,1316h0M322,1273h0M263,1333h0M186,1368h0M338,1250h0M315,1281h0M248,1247h0M388,1196h0M197,1314h0M334,1211h0M362,1250h0M263,1202h0M180,1364h0M289,1177h0M247,1202h0M310,1172h0M357,1283h0M305,1261h0M425,1236h0M237,1293h0M251,1319h0M323,1178h0M254,1200h0M403,1277h0M431,1275h0M208,1305h0M354,1175h0M427,1276h0M203,1240h0M276,1186h0M275,1358h0M400,1325h0M363,1186h0M174,1366h0M192,1283h0M165,1344h0M330,1215h0M313,1316h0M218,1309h0M368,1320h0M236,1233h0M372,1181h0M316,1163h0M343,1332h0M394,1198h0M280,1366h0M230,1217h0M173,1356h0M281,1175h0M405,1210h0M316,1219h0M380,1300h0M430,1284h0M239,1340h0M421,1256h0M252,1187h0M319,1366h0M308,1162h0M416,1251h0M397,1255h0M254,1181h0M307,1176h0M251,1334h0M312,1290h0M420,1275h0M304,1324h0M194,1354h0M227,1324h0M434,1277h0M376,1267h0M394,1208h0M335,1207h0M308,1365h0M282,1304h0M271,1302h0M279,1181h0M402,1201h0M384,1178h0M384,1189h0M212,1346h0M268,1346h0M297,1226h0M286,1175h0M248,1250h0M392,1204h0M417,1268h0M395,1279h0M354,1203h0M402,1200h0M214,1362h0M199,1350h0M170,1342h0M404,1212h0M205,1332h0M386,1341h0M425,1278h0M236,1380h0M322,1284h0M414,1221h0M285,1303h0M300,1274h0M249,1334h0M186,1248h0M330,1307h0M388,1212h0M344,1329h0M249,1202h0M217,1316h0M345,1273h0M273,1190h0M283,1279h0M221,1379h0M225,1358h0M311,1282h0M310,1285h0M265,1212h0M225,1324h0M283,1225h0M258,1362h0M212,1326h0M359,1293h0M331,1315h0M263,1237h0M413,1321h0M427,1292h0M374,1249h0M321,1343h0M285,1181h0M179,1337h0M183,1356h0M344,1268h0M195,1262h0M252,1351h0M267,1302h0M370,1273h0M369,1347h0M437,1296h0M229,1241h0M281,1215h0M406,1210h0M170,1356h0M433,1296h0M343,1324h0M337,1359h0M284,1293h0M383,1343h0M382,1298h0M208,1256h0M260,1310h0M224,1327h0M191,1323h0M249,1355h0M282,1240h0M284,1354h0M300,1166h0M222,1305h0M220,1334h0M203,1373h0M307,1354h0M199,1383h0M397,1328h0M182,1338h0M234,1282h0M241,1193h0M363,1183h0M337,1177h0M405,1224h0M249,1205h0M418,1285h0M395,1285h0M433,1299h0M389,1279h0M221,1367h0M292,1306h0M279,1311h0M344,1173h0M368,1201h0M201,1311h0M367,1237h0M224,1316h0" stroke="#4A82BE" stroke-width="5.8" stroke-linecap="round" fill="none" opacity="0.6"/>
<path d="M246,1217h0M375,1196h0M314,1345h0M204,1318h0M288,1271h0M299,1244h0M277,1239h0M195,1331h0M200,1314h0M237,1366h0M229,1361h0M209,1386h0M264,1194h0M202,1311h0M207,1335h0M248,1202h0M404,1200h0M245,1274h0M207,1339h0M253,1269h0M224,1354h0M287,1295h0M284,1184h0M239,1342h0M418,1235h0M331,1355h0M335,1271h0M290,1317h0M238,1227h0M367,1188h0M293,1271h0M214,1245h0M296,1260h0M361,1313h0M205,1226h0M239,1289h0M233,1361h0M247,1344h0M378,1176h0M235,1313h0M281,1174h0M252,1334h0M389,1292h0M242,1194h0M382,1320h0M194,1373h0M244,1331h0M180,1330h0M249,1203h0M260,1230h0M375,1352h0M423,1245h0M271,1224h0M212,1366h0M423,1251h0M188,1367h0M208,1280h0M375,1209h0M240,1191h0M404,1298h0M272,1314h0M211,1329h0M426,1237h0M291,1227h0M425,1235h0M345,1182h0M228,1321h0M276,1347h0M196,1379h0M204,1323h0M382,1284h0M324,1273h0M358,1288h0M401,1211h0M227,1323h0M326,1294h0M342,1224h0M178,1317h0M282,1199h0M268,1304h0M400,1333h0M287,1336h0M231,1260h0M409,1210h0M231,1346h0M429,1259h0M209,1388h0M342,1184h0M296,1279h0M275,1303h0M264,1315h0M289,1187h0M272,1280h0M334,1329h0M270,1244h0M256,1320h0M360,1302h0M346,1250h0M236,1307h0M347,1257h0M223,1248h0M202,1341h0M186,1269h0M275,1182h0M379,1267h0M314,1170h0M272,1297h0M280,1323h0M384,1177h0M217,1375h0M370,1187h0M168,1357h0M219,1217h0M262,1318h0M243,1312h0M256,1314h0M377,1183h0M351,1276h0M399,1294h0M181,1363h0M229,1244h0M252,1325h0M391,1183h0M398,1338h0M312,1277h0M333,1166h0M262,1342h0M394,1283h0M221,1315h0M305,1186h0M415,1303h0M366,1255h0M196,1308h0M185,1258h0M383,1200h0M320,1253h0M206,1339h0M421,1232h0M192,1348h0M178,1347h0M213,1331h0M235,1272h0M291,1301h0M340,1311h0M307,1171h0M292,1184h0M435,1298h0M247,1344h0M316,1188h0M240,1200h0M230,1233h0M434,1289h0M347,1307h0M247,1334h0M377,1187h0M195,1369h0M423,1287h0M265,1253h0M283,1202h0M348,1330h0M340,1335h0M259,1304h0M171,1348h0M169,1329h0M213,1339h0M262,1200h0M188,1333h0M348,1342h0M209,1357h0M386,1187h0M308,1276h0M303,1171h0M244,1340h0M348,1243h0M235,1310h0M420,1279h0M267,1349h0M364,1218h0M360,1230h0M250,1213h0M421,1232h0M349,1172h0M290,1201h0M224,1342h0M250,1376h0M368,1286h0M242,1194h0M199,1374h0M203,1327h0M427,1275h0M340,1287h0M417,1227h0M196,1324h0M216,1373h0M308,1338h0M306,1247h0M234,1366h0M331,1262h0M263,1316h0M247,1316h0M257,1334h0M251,1194h0M308,1281h0M242,1203h0M415,1287h0M347,1349h0M234,1361h0M423,1246h0M310,1161h0M390,1215h0M308,1341h0M246,1204h0M395,1300h0M205,1319h0M306,1291h0M431,1255h0M249,1337h0M342,1320h0M379,1331h0M216,1384h0M395,1213h0M436,1310h0M243,1261h0M314,1347h0M257,1348h0M205,1311h0M301,1167h0M256,1357h0M329,1359h0M202,1348h0M336,1178h0M387,1187h0M404,1316h0M315,1222h0M248,1320h0M303,1256h0M380,1330h0M250,1200h0M292,1333h0M174,1372h0M245,1347h0M201,1387h0M365,1270h0M256,1182h0M233,1370h0M406,1224h0M295,1170h0M326,1339h0M244,1197h0M193,1293h0M205,1316h0M298,1182h0M320,1174h0M225,1324h0M291,1305h0M270,1313h0M226,1336h0M347,1184h0M170,1341h0M402,1206h0M307,1228h0M257,1200h0M311,1265h0M335,1269h0M203,1379h0M227,1338h0M355,1179h0M355,1311h0M322,1210h0M267,1317h0M198,1325h0M234,1329h0M245,1329h0M334,1355h0M388,1318h0M404,1227h0M282,1175h0M375,1254h0M326,1216h0M303,1281h0M212,1304h0M282,1361h0M388,1289h0M401,1194h0M222,1327h0M267,1319h0M227,1350h0M401,1319h0M283,1248h0M197,1335h0M328,1352h0M184,1338h0M351,1224h0M266,1179h0M317,1173h0M335,1360h0M383,1186h0M264,1196h0M280,1285h0M363,1190h0M246,1307h0M259,1221h0M262,1185h0M167,1332h0M290,1265h0M380,1271h0M234,1351h0M374,1309h0M354,1218h0M217,1343h0M170,1334h0M276,1173h0M437,1281h0M365,1261h0M319,1173h0M346,1206h0M416,1296h0M213,1308h0M321,1257h0M215,1334h0M260,1200h0M412,1234h0M266,1264h0M332,1227h0M248,1208h0M301,1286h0M240,1211h0M319,1166h0M417,1306h0M292,1282h0M398,1213h0M374,1342h0M274,1309h0M350,1259h0M345,1182h0M282,1295h0M246,1365h0M318,1167h0M333,1356h0M291,1305h0M235,1366h0M249,1200h0M395,1332h0M407,1224h0M243,1188h0M338,1340h0M177,1359h0M200,1367h0M199,1320h0M172,1323h0M422,1284h0M289,1211h0M342,1270h0M435,1294h0M205,1368h0M273,1183h0M205,1375h0M431,1268h0M339,1168h0M393,1188h0M193,1379h0M343,1263h0M189,1337h0M195,1374h0M209,1348h0M418,1265h0M255,1316h0M261,1313h0M337,1255h0M284,1276h0M197,1263h0M409,1274h0M262,1186h0M296,1297h0M252,1302h0M330,1275h0M186,1284h0M418,1307h0M282,1311h0M207,1314h0M416,1221h0M188,1274h0M278,1314h0M240,1369h0M232,1337h0" stroke="#4A82BE" stroke-width="5.8" stroke-linecap="round" fill="none" opacity="0.6"/>
<polygon points="572,1196 747,1074 747,1302 583,1414" fill="#F8F8F8"/>
<polygon points="747,1074 1028,1146 1015,1352 747,1302" fill="#F0F0F0"/>
<polygon points="583,1414 747,1302 1015,1352 865,1506" fill="#F4F4F4"/>
<polyline points="583,1414 865,1506 1015,1352 1028,1146" fill="none" stroke="#D9D9D9" stroke-width="3.5"/>
<polyline points="572,1196 747,1074 1028,1146" fill="none" stroke="#EFEFEF" stroke-width="2"/>
<path d="M628,1350h0M842,1284h0M671,1326h0M856,1310h0M906,1324h0M859,1310h0M916,1154h0M835,1279h0M681,1346h0M967,1262h0M626,1325h0M837,1231h0M853,1171h0M940,1336h0M842,1236h0M840,1212h0M653,1321h0M924,1329h0M687,1281h0M905,1330h0M842,1293h0M832,1274h0M782,1225h0M943,1167h0M944,1293h0M836,1299h0M678,1350h0M973,1263h0M645,1284h0M955,1235h0M610,1287h0M885,1167h0M876,1173h0M839,1263h0M844,1243h0M623,1352h0M852,1284h0M680,1291h0M650,1270h0M898,1152h0M875,1183h0M871,1327h0M669,1274h0M878,1341h0M858,1211h0M922,1347h0M622,1276h0M651,1309h0M899,1259h0M647,1291h0M621,1284h0M607,1324h0M627,1302h0M844,1248h0M851,1221h0M823,1239h0M656,1266h0M838,1256h0M891,1181h0M887,1177h0M973,1268h0M649,1312h0M675,1322h0M668,1326h0M974,1262h0M898,1231h0M954,1216h0M835,1217h0M880,1244h0M860,1175h0M731,1255h0M834,1274h0M906,1163h0M977,1236h0M893,1266h0M874,1161h0M885,1249h0M774,1218h0M947,1317h0M860,1188h0M902,1347h0M648,1303h0M947,1183h0M861,1174h0M964,1298h0M941,1189h0M970,1276h0M713,1266h0M945,1295h0M908,1172h0M946,1197h0M905,1240h0M921,1170h0M834,1215h0M944,1302h0M962,1268h0M660,1271h0M907,1247h0M886,1247h0M653,1354h0M611,1337h0M627,1263h0M950,1315h0M887,1171h0M655,1285h0M838,1191h0M625,1306h0M840,1236h0M958,1222h0M848,1283h0M835,1219h0M732,1249h0M841,1291h0M669,1323h0M895,1325h0M867,1177h0M687,1283h0M896,1180h0M668,1273h0M954,1183h0M932,1343h0M942,1302h0M847,1212h0M857,1181h0M842,1191h0M833,1241h0M876,1334h0M940,1313h0M671,1341h0M859,1305h0M667,1273h0M941,1322h0M842,1216h0M936,1179h0M745,1241h0M918,1330h0M836,1304h0M843,1240h0M840,1222h0M954,1191h0M616,1303h0M912,1334h0M660,1343h0M682,1294h0M930,1176h0M855,1214h0M851,1320h0M884,1154h0M846,1316h0M690,1294h0M764,1234h0M835,1303h0M955,1196h0M774,1218h0M674,1296h0M630,1281h0M749,1236h0M849,1318h0M656,1321h0M937,1187h0M845,1249h0M882,1346h0M634,1279h0M835,1279h0M671,1318h0M847,1215h0M798,1215h0M632,1276h0M960,1289h0M669,1345h0M908,1335h0M907,1177h0M862,1187h0M849,1311h0M884,1337h0M639,1289h0M939,1300h0M915,1184h0M857,1328h0M931,1329h0M883,1333h0M974,1225h0M902,1242h0M655,1279h0M834,1257h0M618,1282h0M722,1257h0M873,1183h0M915,1330h0M622,1294h0M636,1323h0M615,1323h0M639,1338h0M880,1349h0M961,1295h0M929,1333h0M926,1170h0M622,1323h0M954,1269h0M972,1246h0M627,1287h0M829,1230h0M887,1327h0M662,1281h0M708,1267h0M777,1223h0M859,1333h0M963,1280h0M914,1247h0M860,1187h0M875,1324h0M852,1204h0M905,1342h0M881,1171h0M902,1254h0M880,1328h0M966,1288h0M649,1330h0M916,1260h0M634,1303h0M850,1188h0M852,1308h0M947,1200h0M829,1239h0M969,1215h0M888,1259h0M889,1259h0M789,1215h0M655,1280h0M928,1191h0M934,1175h0M695,1275h0M914,1324h0M692,1282h0M845,1269h0M916,1166h0M660,1322h0M756,1237h0M876,1172h0M916,1351h0M650,1293h0M691,1326h0M894,1323h0M974,1229h0M868,1178h0M891,1251h0M958,1309h0M811,1225h0M757,1229h0M932,1320h0M626,1273h0M862,1332h0M915,1349h0M926,1314h0M846,1178h0M826,1219h0M967,1284h0M682,1298h0M680,1341h0M938,1180h0M905,1168h0M844,1259h0M967,1269h0M832,1215h0M828,1264h0M871,1176h0M962,1217h0M904,1339h0M836,1257h0M859,1333h0M956,1288h0M883,1171h0M839,1240h0M831,1260h0M951,1176h0M630,1279h0M612,1284h0M668,1294h0M804,1222h0M958,1306h0M839,1285h0M855,1213h0M965,1227h0M917,1251h0M857,1317h0M957,1271h0M701,1280h0M898,1247h0M632,1354h0M850,1215h0M833,1292h0M832,1235h0M839,1210h0M837,1271h0M878,1348h0M665,1300h0M625,1329h0M917,1338h0M763,1229h0M964,1247h0M938,1200h0M634,1287h0M650,1343h0M840,1274h0M652,1323h0M824,1257h0M652,1357h0M911,1258h0M632,1340h0M959,1203h0M850,1310h0M918,1172h0M678,1298h0M870,1189h0M644,1285h0M917,1157h0M925,1337h0M852,1218h0M940,1191h0M962,1209h0M969,1237h0M732,1249h0M854,1177h0M838,1306h0M952,1211h0M758,1232h0M923,1177h0M827,1239h0M719,1267h0M692,1285h0M843,1197h0M946,1183h0M868,1322h0M961,1289h0M943,1325h0M968,1259h0M922,1338h0M633,1323h0M645,1324h0M610,1327h0M732,1250h0M864,1184h0M879,1341h0M627,1316h0M897,1263h0M888,1166h0M711,1262h0M924,1165h0M688,1312h0M681,1278h0M641,1358h0M951,1311h0M618,1323h0M903,1180h0M638,1364h0M677,1272h0M683,1334h0M898,1347h0M953,1227h0M843,1314h0M969,1286h0M896,1163h0M830,1259h0M865,1309h0M669,1331h0M892,1245h0M672,1301h0M829,1281h0M862,1177h0M968,1223h0M958,1280h0M895,1323h0M873,1186h0M707,1274h0M796,1215h0M763,1223h0M845,1245h0M864,1315h0M953,1287h0M932,1192h0M688,1304h0M663,1303h0M939,1183h0M831,1282h0M968,1287h0M953,1315h0M673,1340h0M891,1266h0M841,1222h0M861,1325h0M907,1323h0M685,1281h0" stroke="#4A82BE" stroke-width="5.8" stroke-linecap="round" fill="none" opacity="0.6"/>
<path d="M893,1181h0M827,1232h0M736,1253h0M841,1226h0M838,1304h0M878,1317h0M668,1340h0M954,1295h0M827,1261h0M658,1364h0M957,1207h0M775,1217h0M962,1312h0M866,1211h0M798,1215h0M908,1342h0M655,1281h0M842,1248h0M920,1255h0M638,1282h0M894,1166h0M834,1244h0M844,1296h0M660,1290h0M639,1318h0M949,1176h0M871,1190h0M896,1176h0M686,1308h0M932,1188h0M867,1314h0M851,1300h0M626,1269h0M894,1162h0M780,1216h0M638,1259h0M645,1314h0M851,1196h0M865,1163h0M829,1229h0M860,1312h0M618,1311h0M934,1336h0M897,1340h0M620,1329h0M953,1233h0M862,1334h0M606,1322h0M627,1270h0M959,1294h0M624,1289h0M872,1165h0M967,1283h0M896,1179h0M884,1185h0M832,1277h0M955,1261h0M846,1203h0M902,1331h0M935,1196h0M939,1199h0M837,1208h0M695,1276h0M674,1307h0M847,1218h0M652,1302h0M960,1257h0M639,1266h0M946,1312h0M640,1335h0M838,1218h0M901,1340h0M862,1198h0M955,1262h0M952,1272h0M880,1246h0M638,1337h0M879,1325h0M844,1187h0M894,1161h0M932,1333h0M836,1297h0M690,1323h0M848,1186h0M624,1355h0M677,1282h0M869,1336h0M850,1204h0M925,1323h0M910,1264h0M897,1160h0M852,1299h0M964,1258h0M861,1335h0M896,1239h0M915,1157h0M781,1226h0M840,1235h0M830,1271h0M678,1285h0M839,1241h0M615,1312h0M908,1152h0M946,1327h0M848,1193h0M844,1243h0M899,1162h0M877,1171h0M848,1321h0M908,1342h0M950,1329h0M880,1331h0M861,1324h0M719,1268h0M882,1342h0M830,1288h0M833,1247h0M834,1215h0M939,1312h0M835,1212h0M835,1212h0M956,1248h0M631,1355h0M899,1249h0M941,1182h0M841,1277h0M842,1237h0M691,1302h0M866,1331h0M650,1301h0M935,1336h0M935,1183h0M939,1206h0M969,1211h0M838,1257h0M761,1232h0M717,1269h0M840,1309h0M887,1184h0M851,1287h0M668,1304h0M904,1231h0M900,1232h0M672,1315h0M850,1222h0M931,1335h0M655,1288h0M625,1318h0M959,1240h0M631,1349h0M889,1234h0M944,1327h0M965,1220h0M645,1266h0M677,1281h0M786,1223h0M918,1256h0M952,1182h0M939,1183h0M621,1283h0M906,1345h0M877,1334h0M932,1312h0M653,1270h0M917,1344h0M966,1275h0M800,1217h0M827,1224h0M662,1358h0M934,1194h0M674,1311h0M957,1316h0M675,1288h0M953,1266h0M627,1305h0M941,1312h0M963,1207h0M845,1306h0M652,1357h0M962,1196h0M954,1293h0M616,1316h0M948,1330h0M943,1200h0M669,1337h0M689,1284h0M916,1243h0M970,1228h0M709,1267h0M907,1351h0M931,1334h0M861,1326h0M903,1329h0M887,1166h0M736,1251h0M679,1318h0M817,1221h0M648,1362h0M880,1331h0M954,1298h0M848,1193h0M897,1172h0M867,1177h0M901,1348h0M907,1264h0M977,1249h0M921,1244h0M862,1168h0M848,1267h0M958,1298h0M662,1269h0M892,1255h0M830,1294h0M850,1288h0M967,1283h0M913,1238h0M898,1245h0M659,1333h0M833,1210h0M847,1207h0M946,1183h0M884,1167h0M838,1197h0M654,1319h0M856,1313h0M677,1320h0M973,1241h0M932,1169h0M856,1203h0M644,1302h0M765,1225h0M947,1196h0M936,1163h0M847,1282h0M731,1259h0M678,1288h0M901,1260h0M959,1245h0M963,1242h0M845,1322h0M674,1352h0M844,1265h0M842,1242h0M616,1306h0M930,1327h0M838,1292h0M959,1275h0M904,1152h0M624,1305h0M679,1302h0M965,1300h0M804,1214h0M977,1259h0M651,1328h0M604,1298h0M660,1333h0M895,1262h0M914,1167h0M858,1328h0M882,1340h0M681,1313h0M936,1180h0M892,1350h0M760,1237h0M945,1190h0M847,1180h0M926,1175h0M763,1233h0M966,1197h0M838,1250h0M640,1333h0M938,1330h0M621,1277h0M895,1339h0M897,1267h0M847,1264h0M695,1277h0M850,1322h0M728,1253h0M952,1197h0M659,1276h0M970,1217h0M688,1320h0M845,1198h0M865,1197h0M858,1337h0M828,1222h0M835,1244h0M870,1320h0M882,1182h0M945,1181h0M876,1341h0M847,1274h0M674,1334h0M934,1161h0M972,1236h0M875,1341h0M643,1266h0M853,1305h0M915,1324h0M956,1187h0M921,1319h0M968,1208h0M877,1178h0M645,1276h0M880,1166h0M874,1163h0M643,1271h0M968,1260h0M969,1213h0M895,1341h0M892,1265h0M907,1340h0M911,1173h0M945,1319h0M866,1170h0M706,1276h0M867,1170h0M611,1295h0M674,1282h0M827,1276h0M649,1364h0M848,1317h0M669,1345h0M916,1244h0M694,1276h0M955,1282h0M612,1313h0M960,1236h0M976,1232h0M859,1179h0M766,1224h0M643,1295h0M909,1246h0M739,1247h0M667,1262h0M952,1187h0M813,1215h0M633,1261h0M613,1320h0M924,1329h0M868,1185h0M847,1179h0M848,1186h0M866,1168h0M948,1197h0M972,1248h0M897,1257h0M837,1209h0M641,1305h0M824,1221h0M968,1290h0M871,1177h0M640,1285h0M969,1270h0M832,1236h0M885,1181h0M818,1217h0M842,1264h0M679,1295h0M841,1234h0M834,1262h0M940,1329h0M927,1334h0M675,1297h0M697,1276h0M916,1328h0M658,1271h0M629,1266h0M829,1219h0M654,1324h0M909,1258h0M957,1256h0M951,1295h0M901,1330h0M662,1299h0M914,1156h0M657,1311h0M853,1217h0M722,1264h0M950,1212h0M897,1330h0M847,1221h0M839,1189h0M850,1327h0M922,1334h0M854,1216h0M912,1233h0M652,1335h0M956,1247h0M727,1261h0M832,1213h0M965,1249h0" stroke="#4A82BE" stroke-width="5.8" stroke-linecap="round" fill="none" opacity="0.6"/>
<polygon points="1087,1196 1262,1074 1262,1302 1098,1414" fill="#F8F8F8"/>
<polygon points="1262,1074 1543,1146 1530,1352 1262,1302" fill="#F0F0F0"/>
<polygon points="1098,1414 1262,1302 1530,1352 1380,1506" fill="#F4F4F4"/>
<polyline points="1098,1414 1380,1506 1530,1352 1543,1146" fill="none" stroke="#D9D9D9" stroke-width="3.5"/>
<polyline points="1087,1196 1262,1074 1543,1146" fill="none" stroke="#EFEFEF" stroke-width="2"/>
<path d="M1273,1328h0M1333,1393h0M1315,1379h0M1330,1255h0M1246,1282h0M1358,1422h0M1305,1187h0M1318,1426h0M1313,1373h0M1381,1341h0M1361,1319h0M1290,1449h0M1380,1309h0M1328,1447h0M1353,1313h0M1223,1199h0M1374,1230h0M1278,1235h0M1259,1206h0M1336,1362h0M1315,1205h0M1235,1269h0M1325,1397h0M1332,1366h0M1290,1277h0M1269,1302h0M1293,1278h0M1313,1346h0M1288,1251h0M1367,1407h0M1256,1258h0M1316,1366h0M1357,1427h0M1225,1214h0M1323,1211h0M1320,1274h0M1343,1383h0M1347,1344h0M1295,1274h0M1344,1196h0M1300,1430h0M1295,1252h0M1305,1402h0M1293,1344h0M1280,1195h0M1346,1391h0M1247,1298h0M1300,1396h0M1314,1360h0M1324,1366h0M1376,1376h0M1311,1358h0M1265,1298h0M1231,1192h0M1291,1411h0M1343,1364h0M1267,1297h0M1353,1325h0M1275,1310h0M1307,1317h0M1368,1394h0M1327,1373h0M1343,1302h0M1317,1237h0M1368,1309h0M1261,1321h0M1242,1269h0M1305,1212h0M1369,1219h0M1250,1364h0M1254,1238h0M1321,1217h0M1345,1224h0M1342,1423h0M1342,1373h0M1347,1206h0M1289,1318h0M1275,1435h0M1302,1324h0M1325,1220h0M1309,1341h0M1335,1333h0M1308,1429h0M1256,1375h0M1388,1261h0M1266,1423h0M1313,1185h0M1325,1425h0M1273,1274h0M1281,1405h0M1260,1281h0M1310,1323h0M1321,1240h0M1327,1309h0M1304,1319h0M1365,1419h0M1333,1300h0M1269,1273h0M1284,1247h0M1329,1225h0M1332,1311h0M1323,1391h0M1238,1299h0M1295,1274h0M1326,1196h0M1342,1313h0M1298,1397h0M1337,1293h0M1352,1316h0M1348,1317h0M1381,1256h0M1302,1223h0M1282,1435h0M1272,1377h0M1290,1300h0M1378,1360h0M1295,1262h0M1297,1418h0M1314,1413h0M1340,1449h0M1325,1218h0M1284,1278h0M1317,1283h0M1248,1286h0M1290,1443h0M1373,1313h0M1293,1444h0M1262,1299h0M1317,1274h0M1263,1325h0M1254,1302h0M1343,1357h0M1354,1319h0M1358,1339h0M1372,1419h0M1323,1290h0M1345,1226h0M1346,1316h0M1351,1327h0M1303,1217h0M1318,1350h0M1253,1393h0M1320,1210h0M1317,1188h0M1273,1309h0M1311,1192h0M1217,1195h0M1343,1329h0M1345,1244h0M1279,1264h0M1291,1301h0M1238,1285h0M1299,1215h0M1331,1210h0M1354,1408h0M1298,1322h0M1265,1303h0M1305,1365h0M1301,1329h0M1317,1299h0M1309,1251h0M1238,1216h0M1383,1252h0M1355,1408h0M1372,1267h0M1240,1203h0M1346,1406h0M1302,1406h0M1333,1328h0M1312,1365h0M1318,1209h0M1326,1423h0M1313,1190h0M1291,1442h0M1344,1196h0M1206,1199h0M1278,1236h0M1293,1251h0M1352,1324h0M1264,1295h0M1285,1326h0M1273,1243h0M1342,1314h0M1260,1227h0M1341,1202h0M1312,1451h0M1306,1236h0M1282,1343h0M1279,1265h0M1288,1236h0M1323,1226h0M1300,1239h0M1357,1374h0M1373,1308h0M1243,1311h0M1286,1285h0M1252,1399h0M1287,1258h0M1295,1381h0M1258,1294h0M1332,1279h0M1297,1209h0M1281,1341h0M1367,1362h0M1355,1221h0M1322,1192h0M1371,1267h0M1238,1293h0M1317,1229h0M1269,1246h0M1284,1267h0M1313,1234h0M1269,1218h0M1253,1205h0M1309,1418h0M1263,1353h0M1310,1205h0M1328,1368h0M1328,1239h0M1274,1332h0M1301,1221h0M1311,1220h0M1325,1289h0M1244,1311h0M1287,1244h0M1263,1351h0M1304,1385h0M1294,1274h0M1326,1457h0M1266,1369h0M1316,1330h0M1209,1206h0M1347,1311h0M1254,1257h0M1368,1268h0M1393,1273h0M1276,1283h0M1353,1411h0M1308,1424h0M1374,1236h0M1357,1376h0M1377,1313h0M1367,1271h0M1300,1365h0M1358,1427h0M1244,1218h0M1242,1255h0M1273,1368h0M1250,1279h0M1314,1410h0M1284,1224h0M1337,1322h0M1260,1231h0M1382,1240h0M1332,1308h0M1326,1207h0M1312,1233h0M1263,1361h0M1380,1382h0M1344,1415h0M1332,1407h0M1364,1341h0M1300,1347h0M1355,1223h0M1293,1352h0M1312,1298h0M1256,1313h0M1265,1353h0M1278,1292h0M1380,1296h0M1379,1296h0M1320,1451h0M1325,1239h0M1318,1378h0M1387,1263h0M1340,1365h0M1304,1192h0M1285,1243h0M1235,1226h0M1277,1273h0M1291,1270h0M1245,1300h0M1285,1197h0M1309,1231h0M1308,1290h0M1323,1342h0M1363,1431h0M1376,1259h0M1335,1419h0M1279,1385h0M1287,1262h0M1276,1378h0M1312,1422h0M1259,1314h0M1349,1449h0M1374,1327h0M1266,1357h0M1362,1439h0M1267,1299h0M1276,1402h0M1310,1271h0M1329,1378h0M1294,1225h0M1273,1317h0M1354,1327h0M1351,1223h0M1267,1264h0M1311,1220h0M1361,1319h0M1263,1205h0M1304,1314h0M1373,1228h0M1292,1303h0M1346,1217h0M1384,1370h0M1314,1226h0M1297,1203h0M1358,1216h0M1287,1236h0M1335,1323h0M1270,1311h0M1385,1259h0M1355,1282h0M1227,1237h0M1307,1254h0M1315,1346h0M1279,1231h0M1372,1332h0M1265,1298h0M1353,1414h0M1372,1411h0M1278,1434h0M1256,1374h0M1359,1319h0M1343,1287h0M1322,1183h0M1255,1299h0M1256,1274h0M1261,1416h0M1309,1447h0M1310,1192h0M1349,1222h0M1301,1205h0M1251,1303h0M1321,1186h0M1334,1290h0M1288,1190h0M1327,1304h0M1369,1372h0M1259,1381h0M1324,1418h0M1248,1188h0M1329,1440h0M1319,1211h0M1325,1198h0M1314,1227h0M1300,1249h0M1291,1241h0M1250,1270h0M1312,1308h0M1297,1237h0M1289,1273h0M1304,1217h0M1283,1257h0M1315,1393h0M1303,1188h0M1250,1289h0M1374,1417h0M1304,1278h0M1264,1276h0M1358,1391h0M1250,1365h0M1365,1370h0M1327,1354h0M1368,1412h0M1318,1225h0M1340,1342h0M1281,1308h0M1371,1394h0M1265,1249h0M1334,1397h0M1368,1222h0M1227,1275h0M1277,1277h0M1243,1299h0M1339,1307h0M1303,1209h0M1377,1246h0M1325,1358h0M1276,1257h0M1381,1297h0M1369,1409h0M1265,1307h0M1316,1195h0M1356,1360h0M1310,1231h0M1254,1373h0M1310,1277h0M1374,1267h0M1343,1241h0M1376,1379h0M1309,1249h0M1235,1263h0M1280,1298h0M1271,1397h0" stroke="#4A82BE" stroke-width="5.8" stroke-linecap="round" fill="none" opacity="0.6"/>
<path d="M1335,1200h0M1332,1300h0M1314,1447h0M1351,1320h0M1322,1443h0M1367,1389h0M1282,1270h0M1322,1210h0M1302,1377h0M1253,1279h0M1303,1281h0M1292,1267h0M1264,1234h0M1324,1258h0M1344,1314h0M1307,1222h0M1284,1260h0M1290,1193h0M1311,1206h0M1305,1195h0M1314,1268h0M1351,1323h0M1350,1339h0M1238,1202h0M1288,1255h0M1330,1363h0M1279,1317h0M1367,1368h0M1340,1197h0M1345,1358h0M1290,1249h0M1236,1297h0M1323,1309h0M1358,1398h0M1278,1208h0M1277,1269h0M1279,1369h0M1353,1310h0M1387,1263h0M1325,1198h0M1374,1423h0M1244,1227h0M1287,1330h0M1324,1311h0M1355,1443h0M1266,1258h0M1287,1189h0M1266,1268h0M1337,1313h0M1304,1374h0M1319,1364h0M1305,1268h0M1272,1364h0M1255,1255h0M1335,1449h0M1366,1335h0M1214,1194h0M1390,1265h0M1333,1444h0M1333,1266h0M1299,1245h0M1239,1303h0M1359,1278h0M1263,1322h0M1338,1399h0M1282,1309h0M1325,1215h0M1357,1401h0M1324,1250h0M1268,1406h0M1291,1236h0M1239,1293h0M1281,1233h0M1258,1264h0M1308,1286h0M1289,1360h0M1321,1250h0M1269,1372h0M1257,1302h0M1286,1384h0M1251,1384h0M1347,1284h0M1319,1242h0M1327,1223h0M1279,1274h0M1251,1383h0M1317,1359h0M1351,1336h0M1359,1394h0M1275,1365h0M1297,1354h0M1365,1321h0M1328,1392h0M1238,1273h0M1295,1426h0M1356,1271h0M1321,1287h0M1280,1261h0M1269,1196h0M1294,1249h0M1343,1245h0M1312,1249h0M1323,1276h0M1273,1400h0M1300,1432h0M1210,1204h0M1308,1300h0M1321,1297h0M1344,1204h0M1295,1233h0M1229,1228h0M1285,1425h0M1359,1404h0M1326,1393h0M1319,1299h0M1351,1425h0M1293,1426h0M1382,1249h0M1389,1268h0M1294,1225h0M1390,1271h0M1353,1218h0M1251,1305h0M1303,1198h0M1249,1305h0M1278,1274h0M1288,1347h0M1292,1280h0M1257,1211h0M1265,1315h0M1242,1256h0M1292,1336h0M1279,1195h0M1357,1415h0M1310,1268h0M1385,1372h0M1338,1432h0M1361,1320h0M1345,1223h0M1331,1421h0M1313,1279h0M1313,1363h0M1273,1274h0M1326,1304h0M1314,1262h0M1312,1245h0M1236,1300h0M1345,1322h0M1343,1312h0M1317,1240h0M1317,1282h0M1255,1286h0M1292,1325h0M1330,1297h0M1307,1241h0M1349,1308h0M1295,1247h0M1383,1278h0M1307,1202h0M1299,1260h0M1336,1221h0M1266,1420h0M1324,1255h0M1300,1312h0M1329,1373h0M1320,1293h0M1332,1184h0M1360,1433h0M1328,1184h0M1358,1354h0M1231,1210h0M1267,1258h0M1300,1429h0M1336,1307h0M1267,1425h0M1292,1251h0M1275,1357h0M1277,1301h0M1347,1381h0M1265,1201h0M1319,1186h0M1320,1443h0M1233,1219h0M1273,1298h0M1303,1426h0M1326,1424h0M1331,1200h0M1379,1274h0M1352,1226h0M1247,1275h0M1315,1339h0M1388,1257h0M1259,1340h0M1313,1222h0M1298,1299h0M1286,1224h0M1272,1367h0M1303,1284h0M1265,1318h0M1326,1238h0M1241,1279h0M1358,1222h0M1289,1337h0M1304,1313h0M1354,1443h0M1275,1293h0M1323,1236h0M1273,1203h0M1346,1322h0M1292,1417h0M1330,1390h0M1264,1312h0M1383,1391h0M1367,1399h0M1256,1291h0M1238,1300h0M1333,1336h0M1367,1218h0M1352,1360h0M1375,1302h0M1385,1262h0M1294,1202h0M1344,1205h0M1379,1391h0M1364,1368h0M1327,1382h0M1344,1355h0M1391,1277h0M1359,1439h0M1247,1281h0M1353,1417h0M1243,1300h0M1243,1225h0M1321,1236h0M1336,1275h0M1222,1244h0M1293,1250h0M1305,1246h0M1326,1439h0M1305,1366h0M1351,1423h0M1278,1222h0M1361,1399h0M1313,1275h0M1209,1202h0M1306,1247h0M1254,1281h0M1333,1204h0M1321,1212h0M1320,1196h0M1267,1362h0M1341,1362h0M1255,1382h0M1259,1336h0M1328,1435h0M1366,1412h0M1334,1230h0M1338,1313h0M1302,1237h0M1325,1242h0M1332,1405h0M1306,1202h0M1276,1323h0M1276,1238h0M1320,1284h0M1285,1416h0M1326,1266h0M1392,1257h0M1303,1205h0M1312,1206h0M1284,1269h0M1292,1416h0M1272,1243h0M1330,1448h0M1317,1214h0M1306,1232h0M1380,1287h0M1305,1249h0M1295,1222h0M1320,1304h0M1311,1451h0M1329,1347h0M1269,1412h0M1303,1359h0M1313,1423h0M1351,1325h0M1267,1206h0M1308,1220h0M1278,1275h0M1315,1242h0M1337,1244h0M1321,1273h0M1287,1211h0M1255,1363h0M1365,1358h0M1293,1258h0M1338,1195h0M1299,1356h0M1322,1411h0M1320,1216h0M1299,1366h0M1297,1225h0M1341,1222h0M1327,1403h0M1232,1254h0M1382,1248h0M1272,1373h0M1251,1213h0M1376,1332h0M1329,1332h0M1349,1226h0M1220,1191h0M1329,1221h0M1290,1439h0M1278,1303h0M1325,1225h0M1334,1221h0M1328,1411h0M1297,1414h0M1257,1225h0M1266,1385h0M1261,1351h0M1338,1422h0M1317,1230h0M1328,1333h0M1267,1299h0M1312,1233h0M1305,1354h0M1271,1280h0M1274,1298h0M1273,1330h0M1277,1257h0M1357,1225h0M1382,1254h0M1307,1293h0M1222,1227h0M1272,1387h0M1362,1225h0M1358,1268h0M1372,1335h0M1351,1268h0M1363,1349h0M1345,1418h0M1387,1285h0M1332,1385h0M1299,1294h0M1329,1309h0M1279,1405h0M1299,1443h0M1325,1258h0M1265,1302h0M1286,1435h0M1276,1272h0M1279,1409h0M1353,1213h0M1361,1391h0M1258,1376h0M1355,1347h0M1253,1229h0M1361,1431h0M1342,1415h0M1332,1220h0M1325,1428h0M1283,1252h0M1285,1291h0M1304,1307h0M1248,1225h0M1328,1450h0M1365,1373h0M1307,1224h0M1253,1245h0M1312,1194h0M1359,1393h0M1358,1393h0M1347,1449h0M1298,1252h0M1366,1266h0M1282,1324h0M1308,1199h0M1280,1270h0M1308,1409h0M1249,1206h0M1298,1282h0M1288,1412h0M1242,1269h0M1263,1296h0M1325,1303h0M1224,1273h0M1389,1260h0M1280,1264h0M1361,1359h0M1278,1442h0M1280,1381h0M1312,1384h0M1244,1243h0M1360,1355h0M1324,1296h0M1240,1297h0M1267,1253h0M1352,1269h0M1289,1234h0M1312,1319h0M1313,1268h0M1290,1240h0M1263,1292h0" stroke="#4A82BE" stroke-width="5.8" stroke-linecap="round" fill="none" opacity="0.6"/>
</g>
<text x="2886.9" y="1348.6" font-family="Liberation Sans" font-size="52" fill="#D50000" textLength="263.9" lengthAdjust="spacingAndGlyphs" >Transformer</text>
<text x="3324.5" y="1318.8" font-family="Liberation Sans" font-size="52" fill="#D50000" textLength="263.8" lengthAdjust="spacingAndGlyphs" >Transformer</text>
<text x="3337.5" y="1377.8" font-family="Liberation Sans" font-size="52" fill="#D50000" textLength="240.8" lengthAdjust="spacingAndGlyphs" >+ data aug.</text>
<text x="3699" y="1348.6" font-family="Liberation Sans" font-size="52" fill="#4C7DF5" textLength="347.4" lengthAdjust="spacingAndGlyphs" >VN-Transformer</text>
<text x="3102.4" y="2210.4" font-family="Liberation Sans" font-size="52" fill="#D50000" textLength="331" lengthAdjust="spacingAndGlyphs" >Not equivariant</text>
<text x="3787.2" y="2210.4" font-family="Liberation Sans" font-size="52" fill="#4C7DF5" textLength="240.2" lengthAdjust="spacingAndGlyphs" >Equivariant</text>
<text x="2712.8" y="1569" font-family="Liberation Sans" font-size="48" fill="#000" textLength="63.4" lengthAdjust="spacingAndGlyphs" >(0°</text>
<path d="M2784.1,1539.3 A14,14 0 1 0 2798.3,1540" fill="none" stroke="#000" stroke-width="2.4" />
<path d="M2791.4,1535 L2805.6,1537.1 L2793.7,1548.6 Z" fill="#000" stroke="none" stroke-width="1" />
<text x="2807.7" y="1569" font-family="Liberation Sans" font-size="48" fill="#000" textLength="14.6" lengthAdjust="spacingAndGlyphs" >)</text>
<text x="2700" y="1924.8" font-family="Liberation Sans" font-size="48" fill="#000" textLength="88.9" lengthAdjust="spacingAndGlyphs" >(45°</text>
<path d="M2796.6,1895.1 A14,14 0 1 0 2810.8,1895.8" fill="none" stroke="#000" stroke-width="2.4" />
<path d="M2803.9,1890.8 L2818.1,1892.9 L2806.2,1904.4 Z" fill="#000" stroke="none" stroke-width="1" />
<text x="2820.1" y="1924.8" font-family="Liberation Sans" font-size="48" fill="#000" textLength="14.6" lengthAdjust="spacingAndGlyphs" >)</text>
<defs><filter id="tb" x="-30%" y="-30%" width="160%" height="160%"><feGaussianBlur stdDeviation="2"/></filter><linearGradient id="gy1" gradientUnits="objectBoundingBox" x1="0" y1="0" x2="0" y2="1"><stop offset="0" stop-color="#F4E030"/><stop offset="0.25" stop-color="#EDBE6E"/><stop offset="0.55" stop-color="#F0CDBD" stop-opacity="0.9"/><stop offset="1" stop-color="#F4DAD8" stop-opacity="0.75"/></linearGradient><linearGradient id="gy2" gradientUnits="objectBoundingBox" x1="0" y1="0" x2="1" y2="0"><stop offset="0" stop-color="#F4E23C"/><stop offset="0.35" stop-color="#EDC070"/><stop offset="0.7" stop-color="#F0CDBD" stop-opacity="0.9"/><stop offset="1" stop-color="#F4DAD8" stop-opacity="0.75"/></linearGradient><linearGradient id="gb1" gradientUnits="objectBoundingBox" x1="0" y1="0" x2="1" y2="1"><stop offset="0" stop-color="#A9C6F7" stop-opacity="0.8"/><stop offset="0.45" stop-color="#7FB4E4"/><stop offset="1" stop-color="#7FDCC0"/></linearGradient><linearGradient id="gb2" gradientUnits="objectBoundingBox" x1="0" y1="0" x2="1" y2="0"><stop offset="0" stop-color="#9CC0F8" stop-opacity="0.85"/><stop offset="0.5" stop-color="#7FB9E0"/><stop offset="1" stop-color="#85DDC0"/></linearGradient></defs>
<rect x="2865" y="1395.8" width="309.0999999999999" height="298.0" fill="#fff" stroke="#262626" stroke-width="1.4" />
<line x1="2859.5" y1="1420.0" x2="2865" y2="1420.0" stroke="#262626" stroke-width="1.2" />
<text x="2853.5" y="1425.2" font-family="Liberation Sans" font-size="14.6" fill="#262626" text-anchor="end" >8</text>
<line x1="2859.5" y1="1456.442857142857" x2="2865" y2="1456.442857142857" stroke="#262626" stroke-width="1.2" />
<text x="2853.5" y="1461.6" font-family="Liberation Sans" font-size="14.6" fill="#262626" text-anchor="end" >6</text>
<line x1="2859.5" y1="1492.8857142857144" x2="2865" y2="1492.8857142857144" stroke="#262626" stroke-width="1.2" />
<text x="2853.5" y="1498.1" font-family="Liberation Sans" font-size="14.6" fill="#262626" text-anchor="end" >4</text>
<line x1="2859.5" y1="1529.3285714285714" x2="2865" y2="1529.3285714285714" stroke="#262626" stroke-width="1.2" />
<text x="2853.5" y="1534.5" font-family="Liberation Sans" font-size="14.6" fill="#262626" text-anchor="end" >2</text>
<line x1="2859.5" y1="1565.7714285714285" x2="2865" y2="1565.7714285714285" stroke="#262626" stroke-width="1.2" />
<text x="2853.5" y="1571" font-family="Liberation Sans" font-size="14.6" fill="#262626" text-anchor="end" >0</text>
<line x1="2859.5" y1="1602.2142857142856" x2="2865" y2="1602.2142857142856" stroke="#262626" stroke-width="1.2" />
<text x="2853.5" y="1607.4" font-family="Liberation Sans" font-size="14.6" fill="#262626" text-anchor="end" >−2</text>
<line x1="2859.5" y1="1638.6571428571428" x2="2865" y2="1638.6571428571428" stroke="#262626" stroke-width="1.2" />
<text x="2853.5" y="1643.9" font-family="Liberation Sans" font-size="14.6" fill="#262626" text-anchor="end" >−4</text>
<line x1="2859.5" y1="1675.1" x2="2865" y2="1675.1" stroke="#262626" stroke-width="1.2" />
<text x="2853.5" y="1680.3" font-family="Liberation Sans" font-size="14.6" fill="#262626" text-anchor="end" >−6</text>
<line x1="2919.6" y1="1693.8" x2="2919.6" y2="1699.3" stroke="#262626" stroke-width="1.2" />
<text x="2919.6" y="1714.9" font-family="Liberation Sans" font-size="14.6" fill="#262626" text-anchor="middle" >−10</text>
<line x1="3013.3" y1="1693.8" x2="3013.3" y2="1699.3" stroke="#262626" stroke-width="1.2" />
<text x="3013.3" y="1714.9" font-family="Liberation Sans" font-size="14.6" fill="#262626" text-anchor="middle" >−5</text>
<line x1="3107.7" y1="1693.8" x2="3107.7" y2="1699.3" stroke="#262626" stroke-width="1.2" />
<text x="3107.7" y="1714.9" font-family="Liberation Sans" font-size="14.6" fill="#262626" text-anchor="middle" >0</text>
<rect x="3298.9" y="1397" width="309.0999999999999" height="298" fill="#fff" stroke="#262626" stroke-width="1.4" />
<line x1="3293.4" y1="1420.0" x2="3298.9" y2="1420.0" stroke="#262626" stroke-width="1.2" />
<text x="3287.4" y="1425.2" font-family="Liberation Sans" font-size="14.6" fill="#262626" text-anchor="end" >8</text>
<line x1="3293.4" y1="1456.5142857142857" x2="3298.9" y2="1456.5142857142857" stroke="#262626" stroke-width="1.2" />
<text x="3287.4" y="1461.7" font-family="Liberation Sans" font-size="14.6" fill="#262626" text-anchor="end" >6</text>
<line x1="3293.4" y1="1493.0285714285715" x2="3298.9" y2="1493.0285714285715" stroke="#262626" stroke-width="1.2" />
<text x="3287.4" y="1498.2" font-family="Liberation Sans" font-size="14.6" fill="#262626" text-anchor="end" >4</text>
<line x1="3293.4" y1="1529.542857142857" x2="3298.9" y2="1529.542857142857" stroke="#262626" stroke-width="1.2" />
<text x="3287.4" y="1534.7" font-family="Liberation Sans" font-size="14.6" fill="#262626" text-anchor="end" >2</text>
<line x1="3293.4" y1="1566.0571428571427" x2="3298.9" y2="1566.0571428571427" stroke="#262626" stroke-width="1.2" />
<text x="3287.4" y="1571.3" font-family="Liberation Sans" font-size="14.6" fill="#262626" text-anchor="end" >0</text>
<line x1="3293.4" y1="1602.5714285714284" x2="3298.9" y2="1602.5714285714284" stroke="#262626" stroke-width="1.2" />
<text x="3287.4" y="1607.8" font-family="Liberation Sans" font-size="14.6" fill="#262626" text-anchor="end" >−2</text>
<line x1="3293.4" y1="1639.0857142857142" x2="3298.9" y2="1639.0857142857142" stroke="#262626" stroke-width="1.2" />
<text x="3287.4" y="1644.3" font-family="Liberation Sans" font-size="14.6" fill="#262626" text-anchor="end" >−4</text>
<line x1="3293.4" y1="1675.6" x2="3298.9" y2="1675.6" stroke="#262626" stroke-width="1.2" />
<text x="3287.4" y="1680.8" font-family="Liberation Sans" font-size="14.6" fill="#262626" text-anchor="end" >−6</text>
<line x1="3339.8" y1="1695" x2="3339.8" y2="1700.5" stroke="#262626" stroke-width="1.2" />
<text x="3339.8" y="1715.5" font-family="Liberation Sans" font-size="14.6" fill="#262626" text-anchor="middle" >−10</text>
<line x1="3434.8" y1="1695" x2="3434.8" y2="1700.5" stroke="#262626" stroke-width="1.2" />
<text x="3434.8" y="1715.5" font-family="Liberation Sans" font-size="14.6" fill="#262626" text-anchor="middle" >−5</text>
<line x1="3529.8" y1="1695" x2="3529.8" y2="1700.5" stroke="#262626" stroke-width="1.2" />
<text x="3529.8" y="1715.5" font-family="Liberation Sans" font-size="14.6" fill="#262626" text-anchor="middle" >0</text>
<rect x="3732.8" y="1397" width="309.0999999999999" height="298" fill="#fff" stroke="#262626" stroke-width="1.4" />
<line x1="3727.3" y1="1415.7" x2="3732.8" y2="1415.7" stroke="#262626" stroke-width="1.2" />
<text x="3721.3" y="1420.9" font-family="Liberation Sans" font-size="14.6" fill="#262626" text-anchor="end" >12.5</text>
<line x1="3727.3" y1="1449.9125000000001" x2="3732.8" y2="1449.9125000000001" stroke="#262626" stroke-width="1.2" />
<text x="3721.3" y="1455.1" font-family="Liberation Sans" font-size="14.6" fill="#262626" text-anchor="end" >10.0</text>
<line x1="3727.3" y1="1484.125" x2="3732.8" y2="1484.125" stroke="#262626" stroke-width="1.2" />
<text x="3721.3" y="1489.3" font-family="Liberation Sans" font-size="14.6" fill="#262626" text-anchor="end" >7.5</text>
<line x1="3727.3" y1="1518.3375" x2="3732.8" y2="1518.3375" stroke="#262626" stroke-width="1.2" />
<text x="3721.3" y="1523.5" font-family="Liberation Sans" font-size="14.6" fill="#262626" text-anchor="end" >5.0</text>
<line x1="3727.3" y1="1552.5500000000002" x2="3732.8" y2="1552.5500000000002" stroke="#262626" stroke-width="1.2" />
<text x="3721.3" y="1557.8" font-family="Liberation Sans" font-size="14.6" fill="#262626" text-anchor="end" >2.5</text>
<line x1="3727.3" y1="1586.7625" x2="3732.8" y2="1586.7625" stroke="#262626" stroke-width="1.2" />
<text x="3721.3" y="1592" font-family="Liberation Sans" font-size="14.6" fill="#262626" text-anchor="end" >0.0</text>
<line x1="3727.3" y1="1620.9750000000001" x2="3732.8" y2="1620.9750000000001" stroke="#262626" stroke-width="1.2" />
<text x="3721.3" y="1626.2" font-family="Liberation Sans" font-size="14.6" fill="#262626" text-anchor="end" >−2.5</text>
<line x1="3727.3" y1="1655.1875" x2="3732.8" y2="1655.1875" stroke="#262626" stroke-width="1.2" />
<text x="3721.3" y="1660.4" font-family="Liberation Sans" font-size="14.6" fill="#262626" text-anchor="end" >−5.0</text>
<line x1="3727.3" y1="1689.4" x2="3732.8" y2="1689.4" stroke="#262626" stroke-width="1.2" />
<text x="3721.3" y="1694.6" font-family="Liberation Sans" font-size="14.6" fill="#262626" text-anchor="end" >−7.5</text>
<line x1="3766.3" y1="1695" x2="3766.3" y2="1700.5" stroke="#262626" stroke-width="1.2" />
<text x="3766.3" y="1715.5" font-family="Liberation Sans" font-size="14.6" fill="#262626" text-anchor="middle" >−15</text>
<line x1="3837" y1="1695" x2="3837" y2="1700.5" stroke="#262626" stroke-width="1.2" />
<text x="3837" y="1715.5" font-family="Liberation Sans" font-size="14.6" fill="#262626" text-anchor="middle" >−10</text>
<line x1="3907.8" y1="1695" x2="3907.8" y2="1700.5" stroke="#262626" stroke-width="1.2" />
<text x="3907.8" y="1715.5" font-family="Liberation Sans" font-size="14.6" fill="#262626" text-anchor="middle" >−5</text>
<line x1="3978.6" y1="1695" x2="3978.6" y2="1700.5" stroke="#262626" stroke-width="1.2" />
<text x="3978.6" y="1715.5" font-family="Liberation Sans" font-size="14.6" fill="#262626" text-anchor="middle" >0</text>
<rect x="2865" y="1752.3" width="309.0999999999999" height="298.60000000000014" fill="#fff" stroke="#262626" stroke-width="1.4" />
<line x1="2859.5" y1="1778.3" x2="2865" y2="1778.3" stroke="#262626" stroke-width="1.2" />
<text x="2853.5" y="1783.5" font-family="Liberation Sans" font-size="14.6" fill="#262626" text-anchor="end" >8</text>
<line x1="2859.5" y1="1814.5714285714284" x2="2865" y2="1814.5714285714284" stroke="#262626" stroke-width="1.2" />
<text x="2853.5" y="1819.8" font-family="Liberation Sans" font-size="14.6" fill="#262626" text-anchor="end" >6</text>
<line x1="2859.5" y1="1850.8428571428572" x2="2865" y2="1850.8428571428572" stroke="#262626" stroke-width="1.2" />
<text x="2853.5" y="1856" font-family="Liberation Sans" font-size="14.6" fill="#262626" text-anchor="end" >4</text>
<line x1="2859.5" y1="1887.1142857142856" x2="2865" y2="1887.1142857142856" stroke="#262626" stroke-width="1.2" />
<text x="2853.5" y="1892.3" font-family="Liberation Sans" font-size="14.6" fill="#262626" text-anchor="end" >2</text>
<line x1="2859.5" y1="1923.3857142857144" x2="2865" y2="1923.3857142857144" stroke="#262626" stroke-width="1.2" />
<text x="2853.5" y="1928.6" font-family="Liberation Sans" font-size="14.6" fill="#262626" text-anchor="end" >0</text>
<line x1="2859.5" y1="1959.6571428571428" x2="2865" y2="1959.6571428571428" stroke="#262626" stroke-width="1.2" />
<text x="2853.5" y="1964.9" font-family="Liberation Sans" font-size="14.6" fill="#262626" text-anchor="end" >−2</text>
<line x1="2859.5" y1="1995.9285714285716" x2="2865" y2="1995.9285714285716" stroke="#262626" stroke-width="1.2" />
<text x="2853.5" y="2001.1" font-family="Liberation Sans" font-size="14.6" fill="#262626" text-anchor="end" >−4</text>
<line x1="2859.5" y1="2032.2" x2="2865" y2="2032.2" stroke="#262626" stroke-width="1.2" />
<text x="2853.5" y="2037.4" font-family="Liberation Sans" font-size="14.6" fill="#262626" text-anchor="end" >−6</text>
<line x1="2919.6" y1="2050.9" x2="2919.6" y2="2056.4" stroke="#262626" stroke-width="1.2" />
<text x="2919.6" y="2072" font-family="Liberation Sans" font-size="14.6" fill="#262626" text-anchor="middle" >−10</text>
<line x1="3013.3" y1="2050.9" x2="3013.3" y2="2056.4" stroke="#262626" stroke-width="1.2" />
<text x="3013.3" y="2072" font-family="Liberation Sans" font-size="14.6" fill="#262626" text-anchor="middle" >−5</text>
<line x1="3107.7" y1="2050.9" x2="3107.7" y2="2056.4" stroke="#262626" stroke-width="1.2" />
<text x="3107.7" y="2072" font-family="Liberation Sans" font-size="14.6" fill="#262626" text-anchor="middle" >0</text>
<rect x="3298.9" y="1753.5" width="309.0999999999999" height="297.4000000000001" fill="#fff" stroke="#262626" stroke-width="1.4" />
<line x1="3293.4" y1="1776.0" x2="3298.9" y2="1776.0" stroke="#262626" stroke-width="1.2" />
<text x="3287.4" y="1781.2" font-family="Liberation Sans" font-size="14.6" fill="#262626" text-anchor="end" >8</text>
<line x1="3293.4" y1="1812.6857142857143" x2="3298.9" y2="1812.6857142857143" stroke="#262626" stroke-width="1.2" />
<text x="3287.4" y="1817.9" font-family="Liberation Sans" font-size="14.6" fill="#262626" text-anchor="end" >6</text>
<line x1="3293.4" y1="1849.3714285714286" x2="3298.9" y2="1849.3714285714286" stroke="#262626" stroke-width="1.2" />
<text x="3287.4" y="1854.6" font-family="Liberation Sans" font-size="14.6" fill="#262626" text-anchor="end" >4</text>
<line x1="3293.4" y1="1886.057142857143" x2="3298.9" y2="1886.057142857143" stroke="#262626" stroke-width="1.2" />
<text x="3287.4" y="1891.3" font-family="Liberation Sans" font-size="14.6" fill="#262626" text-anchor="end" >2</text>
<line x1="3293.4" y1="1922.742857142857" x2="3298.9" y2="1922.742857142857" stroke="#262626" stroke-width="1.2" />
<text x="3287.4" y="1927.9" font-family="Liberation Sans" font-size="14.6" fill="#262626" text-anchor="end" >0</text>
<line x1="3293.4" y1="1959.4285714285713" x2="3298.9" y2="1959.4285714285713" stroke="#262626" stroke-width="1.2" />
<text x="3287.4" y="1964.6" font-family="Liberation Sans" font-size="14.6" fill="#262626" text-anchor="end" >−2</text>
<line x1="3293.4" y1="1996.1142857142856" x2="3298.9" y2="1996.1142857142856" stroke="#262626" stroke-width="1.2" />
<text x="3287.4" y="2001.3" font-family="Liberation Sans" font-size="14.6" fill="#262626" text-anchor="end" >−4</text>
<line x1="3293.4" y1="2032.8" x2="3298.9" y2="2032.8" stroke="#262626" stroke-width="1.2" />
<text x="3287.4" y="2038" font-family="Liberation Sans" font-size="14.6" fill="#262626" text-anchor="end" >−6</text>
<line x1="3339.8" y1="2050.9" x2="3339.8" y2="2056.4" stroke="#262626" stroke-width="1.2" />
<text x="3339.8" y="2072" font-family="Liberation Sans" font-size="14.6" fill="#262626" text-anchor="middle" >−10</text>
<line x1="3434.8" y1="2050.9" x2="3434.8" y2="2056.4" stroke="#262626" stroke-width="1.2" />
<text x="3434.8" y="2072" font-family="Liberation Sans" font-size="14.6" fill="#262626" text-anchor="middle" >−5</text>
<line x1="3529.8" y1="2050.9" x2="3529.8" y2="2056.4" stroke="#262626" stroke-width="1.2" />
<text x="3529.8" y="2072" font-family="Liberation Sans" font-size="14.6" fill="#262626" text-anchor="middle" >0</text>
<rect x="3732.8" y="1753.5" width="309.0999999999999" height="297.4000000000001" fill="#fff" stroke="#262626" stroke-width="1.4" />
<line x1="3727.3" y1="1774.0" x2="3732.8" y2="1774.0" stroke="#262626" stroke-width="1.2" />
<text x="3721.3" y="1779.2" font-family="Liberation Sans" font-size="14.6" fill="#262626" text-anchor="end" >12.5</text>
<line x1="3727.3" y1="1807.9875" x2="3732.8" y2="1807.9875" stroke="#262626" stroke-width="1.2" />
<text x="3721.3" y="1813.2" font-family="Liberation Sans" font-size="14.6" fill="#262626" text-anchor="end" >10.0</text>
<line x1="3727.3" y1="1841.975" x2="3732.8" y2="1841.975" stroke="#262626" stroke-width="1.2" />
<text x="3721.3" y="1847.2" font-family="Liberation Sans" font-size="14.6" fill="#262626" text-anchor="end" >7.5</text>
<line x1="3727.3" y1="1875.9625" x2="3732.8" y2="1875.9625" stroke="#262626" stroke-width="1.2" />
<text x="3721.3" y="1881.2" font-family="Liberation Sans" font-size="14.6" fill="#262626" text-anchor="end" >5.0</text>
<line x1="3727.3" y1="1909.95" x2="3732.8" y2="1909.95" stroke="#262626" stroke-width="1.2" />
<text x="3721.3" y="1915.2" font-family="Liberation Sans" font-size="14.6" fill="#262626" text-anchor="end" >2.5</text>
<line x1="3727.3" y1="1943.9375" x2="3732.8" y2="1943.9375" stroke="#262626" stroke-width="1.2" />
<text x="3721.3" y="1949.1" font-family="Liberation Sans" font-size="14.6" fill="#262626" text-anchor="end" >0.0</text>
<line x1="3727.3" y1="1977.9250000000002" x2="3732.8" y2="1977.9250000000002" stroke="#262626" stroke-width="1.2" />
<text x="3721.3" y="1983.1" font-family="Liberation Sans" font-size="14.6" fill="#262626" text-anchor="end" >−2.5</text>
<line x1="3727.3" y1="2011.9125000000001" x2="3732.8" y2="2011.9125000000001" stroke="#262626" stroke-width="1.2" />
<text x="3721.3" y="2017.1" font-family="Liberation Sans" font-size="14.6" fill="#262626" text-anchor="end" >−5.0</text>
<line x1="3727.3" y1="2045.9" x2="3732.8" y2="2045.9" stroke="#262626" stroke-width="1.2" />
<text x="3721.3" y="2051.1" font-family="Liberation Sans" font-size="14.6" fill="#262626" text-anchor="end" >−7.5</text>
<line x1="3766.3" y1="2050.9" x2="3766.3" y2="2056.4" stroke="#262626" stroke-width="1.2" />
<text x="3766.3" y="2072.5" font-family="Liberation Sans" font-size="14.6" fill="#262626" text-anchor="middle" >−15</text>
<line x1="3837" y1="2050.9" x2="3837" y2="2056.4" stroke="#262626" stroke-width="1.2" />
<text x="3837" y="2072.5" font-family="Liberation Sans" font-size="14.6" fill="#262626" text-anchor="middle" >−10</text>
<line x1="3907.8" y1="2050.9" x2="3907.8" y2="2056.4" stroke="#262626" stroke-width="1.2" />
<text x="3907.8" y="2072.5" font-family="Liberation Sans" font-size="14.6" fill="#262626" text-anchor="middle" >−5</text>
<line x1="3978.6" y1="2050.9" x2="3978.6" y2="2056.4" stroke="#262626" stroke-width="1.2" />
<text x="3978.6" y="2072.5" font-family="Liberation Sans" font-size="14.6" fill="#262626" text-anchor="middle" >0</text>
<path d="M3094.6,1450.4 C3114.5,1444.8 3105.8,1497.6 3110.8,1547.3" fill="none" stroke="url(#gy1)" stroke-width="17" stroke-linecap="round" filter="url(#tb)"/>
<circle cx="3094.6" cy="1448" r="12" fill="#F5E425" stroke="none" stroke-width="1" filter="url(#tb)"/>
<g transform="translate(3107.7,1568.4) rotate(0)" fill="none" stroke="#5A5A5A" stroke-width="1.6"><rect x="-13.0" y="-26" width="26" height="24.7"/><rect x="-13.0" y="-2" width="24.7" height="23.400000000000002"/><path d="M-13.0,-3 L0,-23 L13.0,-3"/></g>
<circle cx="3107.7" cy="1565.9" r="4.8" fill="#B52222" stroke="none" stroke-width="1" />
<circle cx="3107.7" cy="1572.4" r="4.8" fill="#B52222" stroke="none" stroke-width="1" />
<circle cx="3107.7" cy="1578.8" r="4.8" fill="#B52222" stroke="none" stroke-width="1" />
<circle cx="3107.7" cy="1585.3" r="4.8" fill="#B52222" stroke="none" stroke-width="1" />
<circle cx="3107.7" cy="1591.8" r="4.8" fill="#B52222" stroke="none" stroke-width="1" />
<circle cx="3107.7" cy="1598.2" r="4.8" fill="#B52222" stroke="none" stroke-width="1" />
<circle cx="3107.7" cy="1604.7" r="4.8" fill="#B52222" stroke="none" stroke-width="1" />
<circle cx="3107.7" cy="1611.2" r="4.8" fill="#B52222" stroke="none" stroke-width="1" />
<circle cx="3107.7" cy="1617.6" r="4.8" fill="#B52222" stroke="none" stroke-width="1" />
<circle cx="3107.7" cy="1624.1" r="4.8" fill="#B52222" stroke="none" stroke-width="1" />
<circle cx="3107.7" cy="1630.6" r="4.8" fill="#B52222" stroke="none" stroke-width="1" />
<circle cx="3107.7" cy="1637" r="4.8" fill="#B52222" stroke="none" stroke-width="1" />
<circle cx="3107.7" cy="1643.5" r="4.8" fill="#B52222" stroke="none" stroke-width="1" />
<path d="M3494.4,1460.4 C3514.9,1423.1 3535.4,1485.2 3531.6,1547.3" fill="none" stroke="url(#gy1)" stroke-width="17" stroke-linecap="round" filter="url(#tb)"/>
<circle cx="3500.6" cy="1454.2" r="11" fill="#F5E425" stroke="none" stroke-width="1" filter="url(#tb)"/>
<g transform="translate(3529.8,1568.4) rotate(0)" fill="none" stroke="#5A5A5A" stroke-width="1.6"><rect x="-13.0" y="-26" width="26" height="24.7"/><rect x="-13.0" y="-2" width="24.7" height="23.400000000000002"/><path d="M-13.0,-3 L0,-23 L13.0,-3"/></g>
<circle cx="3529.8" cy="1567.1" r="4.8" fill="#B52222" stroke="none" stroke-width="1" />
<circle cx="3529.7" cy="1573.6" r="4.8" fill="#B52222" stroke="none" stroke-width="1" />
<circle cx="3529.7" cy="1580.1" r="4.8" fill="#B52222" stroke="none" stroke-width="1" />
<circle cx="3529.6" cy="1586.5" r="4.8" fill="#B52222" stroke="none" stroke-width="1" />
<circle cx="3529.6" cy="1593" r="4.8" fill="#B52222" stroke="none" stroke-width="1" />
<circle cx="3529.5" cy="1599.5" r="4.8" fill="#B52222" stroke="none" stroke-width="1" />
<circle cx="3529.5" cy="1605.9" r="4.8" fill="#B52222" stroke="none" stroke-width="1" />
<circle cx="3529.4" cy="1612.4" r="4.8" fill="#B52222" stroke="none" stroke-width="1" />
<circle cx="3529.4" cy="1618.9" r="4.8" fill="#B52222" stroke="none" stroke-width="1" />
<circle cx="3529.3" cy="1625.3" r="4.8" fill="#B52222" stroke="none" stroke-width="1" />
<circle cx="3529.3" cy="1631.8" r="4.8" fill="#B52222" stroke="none" stroke-width="1" />
<circle cx="3529.2" cy="1638.3" r="4.8" fill="#B52222" stroke="none" stroke-width="1" />
<circle cx="3529.2" cy="1644.7" r="4.8" fill="#B52222" stroke="none" stroke-width="1" />
<path d="M3865.6,1449.2 C3921.5,1497.6 3971.1,1516.2 3978.6,1578.3" fill="none" stroke="url(#gb1)" stroke-width="18" stroke-linecap="round" filter="url(#tb)"/>
<g transform="translate(3978.6,1588.2) rotate(0)" fill="none" stroke="#5A5A5A" stroke-width="1.6"><rect x="-10.0" y="-20" width="20" height="19.0"/><rect x="-10.0" y="-2" width="19.0" height="18.0"/><path d="M-10.0,-3 L0,-17 L10.0,-3"/></g>
<circle cx="3978.6" cy="1588.2" r="4.4" fill="#B52222" stroke="none" stroke-width="1" />
<circle cx="3978.5" cy="1592.8" r="4.4" fill="#B52222" stroke="none" stroke-width="1" />
<circle cx="3978.5" cy="1597.4" r="4.4" fill="#B52222" stroke="none" stroke-width="1" />
<circle cx="3978.4" cy="1602" r="4.4" fill="#B52222" stroke="none" stroke-width="1" />
<circle cx="3978.4" cy="1606.7" r="4.4" fill="#B52222" stroke="none" stroke-width="1" />
<circle cx="3978.3" cy="1611.3" r="4.4" fill="#B52222" stroke="none" stroke-width="1" />
<circle cx="3978.3" cy="1615.9" r="4.4" fill="#B52222" stroke="none" stroke-width="1" />
<circle cx="3978.2" cy="1620.5" r="4.4" fill="#B52222" stroke="none" stroke-width="1" />
<circle cx="3978.2" cy="1625.1" r="4.4" fill="#B52222" stroke="none" stroke-width="1" />
<circle cx="3978.1" cy="1629.7" r="4.4" fill="#B52222" stroke="none" stroke-width="1" />
<circle cx="3978.1" cy="1634.3" r="4.4" fill="#B52222" stroke="none" stroke-width="1" />
<circle cx="3978" cy="1638.9" r="4.4" fill="#B52222" stroke="none" stroke-width="1" />
<circle cx="3978" cy="1643.5" r="4.4" fill="#B52222" stroke="none" stroke-width="1" />
<path d="M2931.4,1906.2 C2984.2,1831.7 3052.4,1869 3097.1,1909.3" fill="none" stroke="url(#gy2)" stroke-width="18" stroke-linecap="round" filter="url(#tb)"/>
<g transform="translate(3108.3,1923.6) rotate(-45)" fill="none" stroke="#5A5A5A" stroke-width="1.6"><rect x="-12.0" y="-24" width="24" height="22.799999999999997"/><rect x="-12.0" y="-2" width="22.799999999999997" height="21.6"/><path d="M-12.0,-3 L0,-21 L12.0,-3"/></g>
<circle cx="3109.5" cy="1926.1" r="4.8" fill="#B52222" stroke="none" stroke-width="1" />
<circle cx="3114" cy="1930.5" r="4.8" fill="#B52222" stroke="none" stroke-width="1" />
<circle cx="3118.4" cy="1934.9" r="4.8" fill="#B52222" stroke="none" stroke-width="1" />
<circle cx="3122.9" cy="1939.3" r="4.8" fill="#B52222" stroke="none" stroke-width="1" />
<circle cx="3127.3" cy="1943.7" r="4.8" fill="#B52222" stroke="none" stroke-width="1" />
<circle cx="3131.8" cy="1948.1" r="4.8" fill="#B52222" stroke="none" stroke-width="1" />
<circle cx="3136.2" cy="1952.5" r="4.8" fill="#B52222" stroke="none" stroke-width="1" />
<circle cx="3140.7" cy="1956.9" r="4.8" fill="#B52222" stroke="none" stroke-width="1" />
<circle cx="3145.1" cy="1961.3" r="4.8" fill="#B52222" stroke="none" stroke-width="1" />
<circle cx="3149.6" cy="1965.7" r="4.8" fill="#B52222" stroke="none" stroke-width="1" />
<circle cx="3154" cy="1970.1" r="4.8" fill="#B52222" stroke="none" stroke-width="1" />
<circle cx="3158.5" cy="1974.4" r="4.8" fill="#B52222" stroke="none" stroke-width="1" />
<circle cx="3162.9" cy="1978.8" r="4.8" fill="#B52222" stroke="none" stroke-width="1" />
<path d="M3376.5,1891.3 C3406.3,1819.3 3480.7,1869 3518,1906.2" fill="none" stroke="url(#gy2)" stroke-width="18" stroke-linecap="round" filter="url(#tb)"/>
<g transform="translate(3529.8,1922.4) rotate(-45)" fill="none" stroke="#5A5A5A" stroke-width="1.6"><rect x="-12.0" y="-24" width="24" height="22.799999999999997"/><rect x="-12.0" y="-2" width="22.799999999999997" height="21.6"/><path d="M-12.0,-3 L0,-21 L12.0,-3"/></g>
<circle cx="3531.6" cy="1924.8" r="4.8" fill="#B52222" stroke="none" stroke-width="1" />
<circle cx="3536.2" cy="1929.3" r="4.8" fill="#B52222" stroke="none" stroke-width="1" />
<circle cx="3540.7" cy="1933.8" r="4.8" fill="#B52222" stroke="none" stroke-width="1" />
<circle cx="3545.3" cy="1938.3" r="4.8" fill="#B52222" stroke="none" stroke-width="1" />
<circle cx="3549.9" cy="1942.8" r="4.8" fill="#B52222" stroke="none" stroke-width="1" />
<circle cx="3554.4" cy="1947.3" r="4.8" fill="#B52222" stroke="none" stroke-width="1" />
<circle cx="3559" cy="1951.8" r="4.8" fill="#B52222" stroke="none" stroke-width="1" />
<circle cx="3563.5" cy="1956.3" r="4.8" fill="#B52222" stroke="none" stroke-width="1" />
<circle cx="3568.1" cy="1960.8" r="4.8" fill="#B52222" stroke="none" stroke-width="1" />
<circle cx="3572.6" cy="1965.3" r="4.8" fill="#B52222" stroke="none" stroke-width="1" />
<circle cx="3577.2" cy="1969.8" r="4.8" fill="#B52222" stroke="none" stroke-width="1" />
<circle cx="3581.7" cy="1974.3" r="4.8" fill="#B52222" stroke="none" stroke-width="1" />
<circle cx="3586.3" cy="1978.8" r="4.8" fill="#B52222" stroke="none" stroke-width="1" />
<path d="M3797.3,1921.7 C3915.3,1900 3921.5,1918.6 3968,1937.3" fill="none" stroke="url(#gb2)" stroke-width="18" stroke-linecap="round" filter="url(#tb)"/>
<g transform="translate(3978.6,1942.2) rotate(-45)" fill="none" stroke="#5A5A5A" stroke-width="1.6"><rect x="-9.5" y="-19" width="19" height="18.05"/><rect x="-9.5" y="-2" width="18.05" height="17.1"/><path d="M-9.5,-3 L0,-16 L9.5,-3"/></g>
<circle cx="3980.4" cy="1944.7" r="4.4" fill="#B52222" stroke="none" stroke-width="1" />
<circle cx="3983.9" cy="1948.1" r="4.4" fill="#B52222" stroke="none" stroke-width="1" />
<circle cx="3987.4" cy="1951.4" r="4.4" fill="#B52222" stroke="none" stroke-width="1" />
<circle cx="3990.8" cy="1954.8" r="4.4" fill="#B52222" stroke="none" stroke-width="1" />
<circle cx="3994.3" cy="1958.2" r="4.4" fill="#B52222" stroke="none" stroke-width="1" />
<circle cx="3997.8" cy="1961.5" r="4.4" fill="#B52222" stroke="none" stroke-width="1" />
<circle cx="4001.2" cy="1964.9" r="4.4" fill="#B52222" stroke="none" stroke-width="1" />
<circle cx="4004.7" cy="1968.2" r="4.4" fill="#B52222" stroke="none" stroke-width="1" />
<circle cx="4008.2" cy="1971.6" r="4.4" fill="#B52222" stroke="none" stroke-width="1" />
<circle cx="4011.6" cy="1975" r="4.4" fill="#B52222" stroke="none" stroke-width="1" />
<circle cx="4015.1" cy="1978.3" r="4.4" fill="#B52222" stroke="none" stroke-width="1" />
<circle cx="4018.6" cy="1981.7" r="4.4" fill="#B52222" stroke="none" stroke-width="1" />
<circle cx="4022" cy="1985.1" r="4.4" fill="#B52222" stroke="none" stroke-width="1" />
<path d="M2873.7,2078 C2873.7,2105 2885.7,2117.3 2913.7,2117.3 L3227,2117.3 C3259,2117.3 3269,2135 3269,2156.4 C3269,2135 3279,2117.3 3311,2117.3 L3565.5,2117.3 C3593.5,2117.3 3605.5,2105 3605.5,2078" fill="none" stroke="#E03030" stroke-width="1.5" />
<path d="M3725.3,2078 C3725.3,2105 3737.3,2117.3 3765.3,2117.3 L3860.8,2117.3 C3892.8,2117.3 3902.8,2135 3902.8,2156.4 C3902.8,2135 3912.8,2117.3 3944.8,2117.3 L4014.3,2117.3 C4042.3,2117.3 4054.3,2105 4054.3,2078" fill="none" stroke="#5C88F4" stroke-width="1.5" />
<text x="2867.6" y="2373.5" font-family="Liberation Sans" font-size="34" fill="#000" textLength="173.6" lengthAdjust="spacingAndGlyphs" >References</text>
<text x="3766.3" y="2375.7" font-family="Liberation Sans" font-size="30.5" fill="#4C7DF5" textLength="321.4" lengthAdjust="spacingAndGlyphs" >arxiv.org/abs/2206.04176</text>
<line x1="3767" y1="2380.5" x2="4087" y2="2380.5" stroke="#4C7DF5" stroke-width="1.8" />
<text x="2868.6" y="2462.5" font-family="Liberation Sans" font-size="25" fill="#212121" textLength="818.4" lengthAdjust="spacingAndGlyphs" >Deng, Congyue, et al. "Vector neurons: A general framework for so (3)-equivariant</text>
<text x="2868.9" y="2494.6" font-family="Liberation Sans" font-size="25" fill="#212121" textLength="795.1" lengthAdjust="spacingAndGlyphs" >networks." <tspan font-style="italic">Proceedings of the IEEE/CVF International Conference on Computer</tspan></text>
<text x="2870.3" y="2526.6" font-family="Liberation Sans" font-size="25" fill="#212121" textLength="122.5" lengthAdjust="spacingAndGlyphs" ><tspan font-style="italic">Vision</tspan>. 2021.</text>
<text x="2869.9" y="2568.6" font-family="Liberation Sans" font-size="25" fill="#212121" textLength="846.3" lengthAdjust="spacingAndGlyphs" >Thomas, Nathaniel, et al. "Tensor field networks: Rotation-and translation-equivariant</text>
<text x="2868.9" y="2601.2" font-family="Liberation Sans" font-size="25" fill="#212121" textLength="754.7" lengthAdjust="spacingAndGlyphs" >neural networks for 3d point clouds." <tspan font-style="italic">arXiv preprint arXiv:1802.08219</tspan> (2018).</text>
<text x="2869.7" y="2643.8" font-family="Liberation Sans" font-size="25" fill="#212121" textLength="753.9" lengthAdjust="spacingAndGlyphs" >Zhang, Zhiyuan, et al. "Global context aware convolutions for 3d point cloud</text>
<text x="2869" y="2675.9" font-family="Liberation Sans" font-size="25" fill="#212121" textLength="782.8" lengthAdjust="spacingAndGlyphs" >understanding." <tspan font-style="italic">2020 International Conference on 3D Vision (3DV)</tspan>. IEEE, 2020.</text>
<path d="M3786.40,2406.40h82.34v12.02h-82.34zM3891.88,2406.40h58.90v12.02h-58.90zM3997.36,2406.40h82.34v12.02h-82.34zM3786.40,2418.12h12.02v12.02h-12.02zM3856.72,2418.12h12.02v12.02h-12.02zM3880.16,2418.12h23.74v12.02h-23.74zM3927.04,2418.12h58.90v12.02h-58.90zM3997.36,2418.12h12.02v12.02h-12.02zM4067.68,2418.12h12.02v12.02h-12.02zM3786.40,2429.84h12.02v12.02h-12.02zM3809.84,2429.84h35.46v12.02h-35.46zM3856.72,2429.84h12.02v12.02h-12.02zM3891.88,2429.84h23.74v12.02h-23.74zM3950.48,2429.84h12.02v12.02h-12.02zM3973.92,2429.84h12.02v12.02h-12.02zM3997.36,2429.84h12.02v12.02h-12.02zM4020.80,2429.84h35.46v12.02h-35.46zM4067.68,2429.84h12.02v12.02h-12.02zM3786.40,2441.56h12.02v12.02h-12.02zM3809.84,2441.56h35.46v12.02h-35.46zM3856.72,2441.56h12.02v12.02h-12.02zM3880.16,2441.56h12.02v12.02h-12.02zM3938.76,2441.56h35.46v12.02h-35.46zM3997.36,2441.56h12.02v12.02h-12.02zM4020.80,2441.56h35.46v12.02h-35.46zM4067.68,2441.56h12.02v12.02h-12.02zM3786.40,2453.28h12.02v12.02h-12.02zM3809.84,2453.28h35.46v12.02h-35.46zM3856.72,2453.28h12.02v12.02h-12.02zM3891.88,2453.28h47.18v12.02h-47.18zM3973.92,2453.28h12.02v12.02h-12.02zM3997.36,2453.28h12.02v12.02h-12.02zM4020.80,2453.28h35.46v12.02h-35.46zM4067.68,2453.28h12.02v12.02h-12.02zM3786.40,2465.00h12.02v12.02h-12.02zM3856.72,2465.00h12.02v12.02h-12.02zM3880.16,2465.00h12.02v12.02h-12.02zM3903.60,2465.00h12.02v12.02h-12.02zM3927.04,2465.00h12.02v12.02h-12.02zM3962.20,2465.00h12.02v12.02h-12.02zM3997.36,2465.00h12.02v12.02h-12.02zM4067.68,2465.00h12.02v12.02h-12.02zM3786.40,2476.72h82.34v12.02h-82.34zM3880.16,2476.72h12.02v12.02h-12.02zM3903.60,2476.72h12.02v12.02h-12.02zM3927.04,2476.72h12.02v12.02h-12.02zM3950.48,2476.72h12.02v12.02h-12.02zM3973.92,2476.72h12.02v12.02h-12.02zM3997.36,2476.72h82.34v12.02h-82.34zM3891.88,2488.44h23.74v12.02h-23.74zM3927.04,2488.44h12.02v12.02h-12.02zM3950.48,2488.44h12.02v12.02h-12.02zM3786.40,2500.16h58.90v12.02h-58.90zM3856.72,2500.16h35.46v12.02h-35.46zM3938.76,2500.16h58.90v12.02h-58.90zM4009.08,2500.16h12.02v12.02h-12.02zM4032.52,2500.16h12.02v12.02h-12.02zM4055.96,2500.16h12.02v12.02h-12.02zM3786.40,2511.88h23.74v12.02h-23.74zM3821.56,2511.88h23.74v12.02h-23.74zM3868.44,2511.88h12.02v12.02h-12.02zM3891.88,2511.88h47.18v12.02h-47.18zM3973.92,2511.88h23.74v12.02h-23.74zM4009.08,2511.88h12.02v12.02h-12.02zM4055.96,2511.88h12.02v12.02h-12.02zM3809.84,2523.60h23.74v12.02h-23.74zM3856.72,2523.60h12.02v12.02h-12.02zM3903.60,2523.60h12.02v12.02h-12.02zM3927.04,2523.60h23.74v12.02h-23.74zM3962.20,2523.60h23.74v12.02h-23.74zM3997.36,2523.60h23.74v12.02h-23.74zM4032.52,2523.60h12.02v12.02h-12.02zM4055.96,2523.60h23.74v12.02h-23.74zM3798.12,2535.32h23.74v12.02h-23.74zM3868.44,2535.32h35.46v12.02h-35.46zM3915.32,2535.32h12.02v12.02h-12.02zM3973.92,2535.32h12.02v12.02h-12.02zM4067.68,2535.32h12.02v12.02h-12.02zM3786.40,2547.04h12.02v12.02h-12.02zM3809.84,2547.04h23.74v12.02h-23.74zM3856.72,2547.04h47.18v12.02h-47.18zM3915.32,2547.04h47.18v12.02h-47.18zM3985.64,2547.04h23.74v12.02h-23.74zM4020.80,2547.04h12.02v12.02h-12.02zM4044.24,2547.04h35.46v12.02h-35.46zM3786.40,2558.76h23.74v12.02h-23.74zM3821.56,2558.76h23.74v12.02h-23.74zM3868.44,2558.76h12.02v12.02h-12.02zM3891.88,2558.76h12.02v12.02h-12.02zM3915.32,2558.76h23.74v12.02h-23.74zM3950.48,2558.76h12.02v12.02h-12.02zM3973.92,2558.76h23.74v12.02h-23.74zM4009.08,2558.76h12.02v12.02h-12.02zM4032.52,2558.76h12.02v12.02h-12.02zM4055.96,2558.76h12.02v12.02h-12.02zM3786.40,2570.48h12.02v12.02h-12.02zM3809.84,2570.48h35.46v12.02h-35.46zM3856.72,2570.48h35.46v12.02h-35.46zM3927.04,2570.48h23.74v12.02h-23.74zM3962.20,2570.48h12.02v12.02h-12.02zM4009.08,2570.48h35.46v12.02h-35.46zM4055.96,2570.48h23.74v12.02h-23.74zM3786.40,2582.20h12.02v12.02h-12.02zM3809.84,2582.20h12.02v12.02h-12.02zM3833.28,2582.20h12.02v12.02h-12.02zM3880.16,2582.20h12.02v12.02h-12.02zM3903.60,2582.20h23.74v12.02h-23.74zM3950.48,2582.20h12.02v12.02h-12.02zM3973.92,2582.20h12.02v12.02h-12.02zM3997.36,2582.20h35.46v12.02h-35.46zM4067.68,2582.20h12.02v12.02h-12.02zM3786.40,2593.92h12.02v12.02h-12.02zM3809.84,2593.92h12.02v12.02h-12.02zM3845.00,2593.92h23.74v12.02h-23.74zM3903.60,2593.92h12.02v12.02h-12.02zM3938.76,2593.92h12.02v12.02h-12.02zM3973.92,2593.92h58.90v12.02h-58.90zM4044.24,2593.92h12.02v12.02h-12.02zM3880.16,2605.64h12.02v12.02h-12.02zM3915.32,2605.64h35.46v12.02h-35.46zM3962.20,2605.64h23.74v12.02h-23.74zM4020.80,2605.64h23.74v12.02h-23.74zM3786.40,2617.36h82.34v12.02h-82.34zM3880.16,2617.36h12.02v12.02h-12.02zM3927.04,2617.36h35.46v12.02h-35.46zM3973.92,2617.36h12.02v12.02h-12.02zM3997.36,2617.36h12.02v12.02h-12.02zM4020.80,2617.36h12.02v12.02h-12.02zM4044.24,2617.36h35.46v12.02h-35.46zM3786.40,2629.08h12.02v12.02h-12.02zM3856.72,2629.08h12.02v12.02h-12.02zM3891.88,2629.08h23.74v12.02h-23.74zM3927.04,2629.08h12.02v12.02h-12.02zM3950.48,2629.08h35.46v12.02h-35.46zM4020.80,2629.08h23.74v12.02h-23.74zM4067.68,2629.08h12.02v12.02h-12.02zM3786.40,2640.80h12.02v12.02h-12.02zM3809.84,2640.80h35.46v12.02h-35.46zM3856.72,2640.80h12.02v12.02h-12.02zM3880.16,2640.80h12.02v12.02h-12.02zM3938.76,2640.80h12.02v12.02h-12.02zM3962.20,2640.80h70.62v12.02h-70.62zM4044.24,2640.80h12.02v12.02h-12.02zM4067.68,2640.80h12.02v12.02h-12.02zM3786.40,2652.52h12.02v12.02h-12.02zM3809.84,2652.52h35.46v12.02h-35.46zM3856.72,2652.52h12.02v12.02h-12.02zM3880.16,2652.52h12.02v12.02h-12.02zM3903.60,2652.52h35.46v12.02h-35.46zM3950.48,2652.52h58.90v12.02h-58.90zM4020.80,2652.52h35.46v12.02h-35.46zM3786.40,2664.24h12.02v12.02h-12.02zM3809.84,2664.24h35.46v12.02h-35.46zM3856.72,2664.24h12.02v12.02h-12.02zM3880.16,2664.24h12.02v12.02h-12.02zM3927.04,2664.24h23.74v12.02h-23.74zM4032.52,2664.24h23.74v12.02h-23.74zM4067.68,2664.24h12.02v12.02h-12.02zM3786.40,2675.96h12.02v12.02h-12.02zM3856.72,2675.96h12.02v12.02h-12.02zM3880.16,2675.96h58.90v12.02h-58.90zM3973.92,2675.96h12.02v12.02h-12.02zM4009.08,2675.96h35.46v12.02h-35.46zM4067.68,2675.96h12.02v12.02h-12.02zM3786.40,2687.68h82.34v12.02h-82.34zM3880.16,2687.68h12.02v12.02h-12.02zM3938.76,2687.68h12.02v12.02h-12.02zM3985.64,2687.68h94.06v12.02h-94.06z" fill="#000" stroke="none" stroke-width="1" />
</svg>
</body></html>
